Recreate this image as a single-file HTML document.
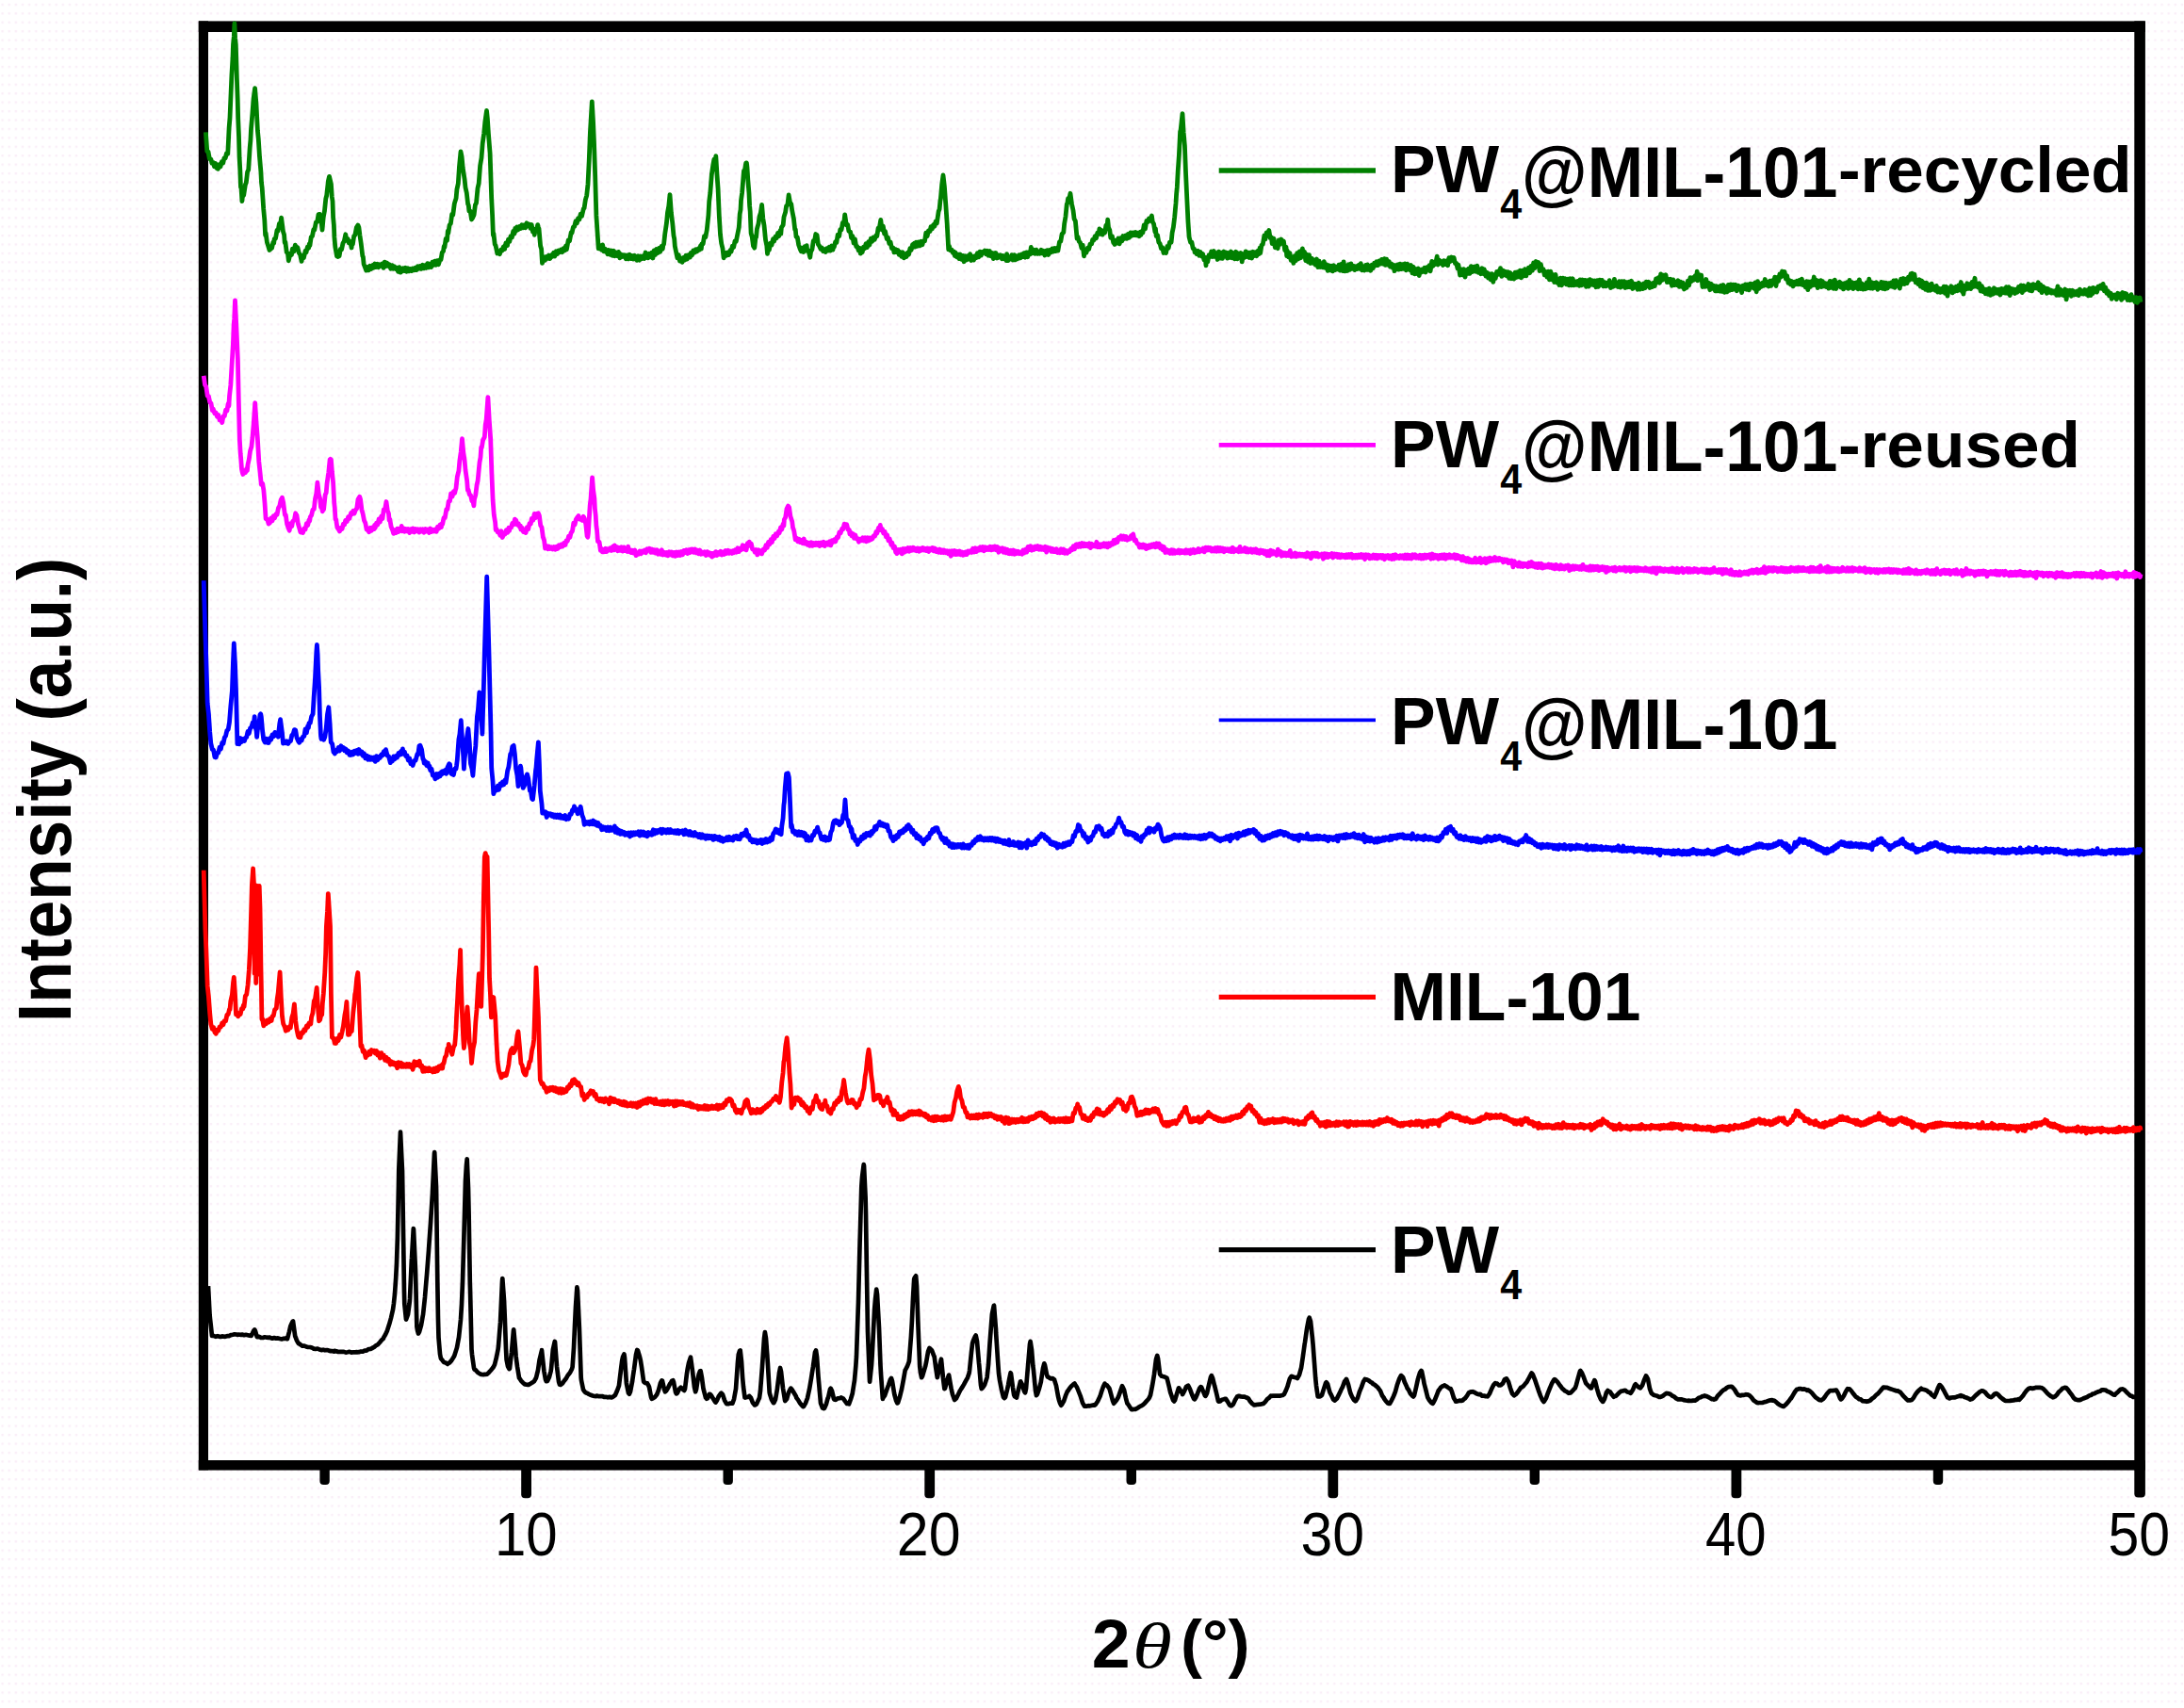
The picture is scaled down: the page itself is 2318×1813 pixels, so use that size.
<!DOCTYPE html>
<html><head><meta charset="utf-8"><title>XRD patterns</title>
<style>
html,body{margin:0;padding:0;background:#ffffff;}
body{width:2318px;height:1813px;overflow:hidden;}
svg{display:block}
text{font-family:"Liberation Sans",sans-serif;fill:#000}
text.b{font-weight:bold}
text.th{font-family:"Liberation Serif",serif;font-style:italic}
</style></head><body>
<svg width="2318" height="1813" viewBox="0 0 2318 1813">
<defs><pattern id="dots" x="0" y="0" width="7.14" height="9.43" patternUnits="userSpaceOnUse"><rect x="1.4" y="3.7" width="2.4" height="2.4" fill="#faeef8"/></pattern></defs>
<rect x="0" y="0" width="2318" height="1813" fill="#ffffff"/>
<rect x="0" y="0" width="2318" height="1813" fill="url(#dots)"/>
<g id="frame" fill="#000">
<rect x="210.8" y="22.4" width="10.2" height="1538"/>
<rect x="2265.3" y="22.4" width="11.6" height="1538"/>
<rect x="210.8" y="22.4" width="2066" height="11.6"/>
<rect x="210.8" y="1550" width="2066" height="10.6"/>
<path d="M553.2 1555 V1586.2 Q553.2 1590.2 557.2 1590.2 H560.0 Q564.0 1590.2 564.0 1586.2 V1555 Z"/>
<path d="M981.3 1555 V1586.2 Q981.3 1590.2 985.3 1590.2 H988.1 Q992.1 1590.2 992.1 1586.2 V1555 Z"/>
<path d="M1409.4 1555 V1586.2 Q1409.4 1590.2 1413.4 1590.2 H1416.2 Q1420.2 1590.2 1420.2 1586.2 V1555 Z"/>
<path d="M1837.5 1555 V1586.2 Q1837.5 1590.2 1841.5 1590.2 H1844.3 Q1848.3 1590.2 1848.3 1586.2 V1555 Z"/>
<path d="M339.4 1555 V1572.0 Q339.4 1576.0 343.4 1576.0 H345.8 Q349.8 1576.0 349.8 1572.0 V1555 Z"/>
<path d="M767.5 1555 V1572.0 Q767.5 1576.0 771.5 1576.0 H773.9 Q777.9 1576.0 777.9 1572.0 V1555 Z"/>
<path d="M1195.5 1555 V1572.0 Q1195.5 1576.0 1199.5 1576.0 H1202.0 Q1206.0 1576.0 1206.0 1572.0 V1555 Z"/>
<path d="M1623.6 1555 V1572.0 Q1623.6 1576.0 1627.6 1576.0 H1630.0 Q1634.0 1576.0 1634.0 1572.0 V1555 Z"/>
<path d="M2051.8 1555 V1572.0 Q2051.8 1576.0 2055.8 1576.0 H2058.2 Q2062.2 1576.0 2062.2 1572.0 V1555 Z"/>
<path d="M2265.3 1555 V1585.5 Q2265.3 1589.5 2269.3 1589.5 H2272.9 Q2276.9 1589.5 2276.9 1585.5 V1555 Z"/>
</g>
<g id="curves">
<path d="M218.4 140.4 L219.8 160.6 L221.0 161.0 L222.3 168.4 L223.9 169.0 L224.9 173.1 L226.2 172.4 L227.5 176.9 L228.8 173.5 L230.1 178.5 L230.8 175.3 L231.4 179.3 L232.7 174.8 L234.0 177.0 L235.3 171.7 L236.8 172.9 L237.9 167.9 L239.2 167.8 L240.5 162.7 L241.8 163.2 L243.1 136.0 L244.0 125.0 L245.9 80.2 L247.0 61.5 L247.5 47.3 L248.3 38.9 L248.9 25.0 L249.6 40.7 L250.3 47.3 L251.4 84.0 L252.2 105.6 L252.7 125.7 L253.5 144.8 L254.1 167.2 L254.8 179.8 L255.5 198.6 L256.1 200.0 L256.9 213.5 L257.4 208.4 L258.7 207.2 L260.4 196.0 L261.3 193.9 L262.6 182.5 L263.7 180.2 L265.2 156.5 L265.9 149.1 L266.5 136.9 L267.9 120.4 L269.1 104.5 L270.6 93.6 L272.0 110.8 L273.4 138.5 L274.3 147.6 L275.5 166.3 L276.9 182.2 L277.5 194.0 L278.2 199.4 L279.7 221.7 L280.8 233.6 L281.6 249.7 L282.1 247.4 L283.4 257.2 L284.3 259.7 L286.0 265.5 L287.1 264.5 L288.6 263.2 L289.9 257.1 L290.7 258.1 L291.2 253.6 L292.5 253.2 L294.0 244.5 L295.1 245.0 L296.4 237.5 L297.7 237.4 L298.6 231.1 L300.5 245.8 L301.6 249.3 L302.2 257.7 L302.9 257.0 L304.2 267.6 L305.5 269.2 L306.3 276.8 L308.1 269.2 L309.4 270.6 L310.4 264.1 L312.0 266.9 L313.3 260.2 L314.6 263.7 L315.9 262.8 L317.2 268.3 L318.5 270.1 L320.1 277.4 L321.1 271.9 L322.4 273.6 L324.2 266.1 L325.0 267.9 L326.3 262.2 L327.6 263.2 L328.3 258.9 L328.9 260.6 L330.2 251.8 L331.5 250.5 L332.8 243.8 L333.8 244.1 L335.4 235.8 L336.7 235.5 L338.0 227.7 L339.3 227.4 L340.6 230.4 L342.0 244.0 L343.2 230.7 L344.5 223.7 L345.8 210.8 L346.7 207.5 L348.4 192.0 L349.5 187.4 L351.4 195.2 L352.3 209.0 L353.0 213.5 L353.6 230.5 L354.4 239.3 L354.9 251.9 L355.8 262.2 L357.5 271.9 L358.5 272.5 L360.1 271.8 L361.4 264.4 L362.6 264.7 L364.0 258.0 L365.3 256.1 L366.8 248.8 L367.9 255.3 L369.2 253.6 L370.3 257.9 L371.8 256.5 L373.1 263.0 L373.6 258.3 L374.4 259.1 L375.7 250.6 L376.9 249.3 L378.3 241.6 L379.9 239.0 L380.9 241.5 L381.9 249.5 L383.2 258.3 L384.8 271.7 L385.4 272.7 L386.1 280.4 L387.4 283.6 L388.7 287.1 L390.0 283.6 L391.3 286.7 L392.6 282.3 L393.9 285.6 L395.6 281.4 L396.5 284.2 L397.8 280.0 L399.1 283.6 L400.4 280.2 L401.7 283.7 L403.0 280.7 L404.3 282.1 L405.6 280.1 L406.9 284.4 L408.2 278.1 L409.3 282.7 L410.8 279.1 L412.1 282.2 L413.4 280.9 L414.7 285.2 L416.0 281.6 L417.3 285.3 L418.6 282.8 L419.9 285.6 L421.2 284.4 L422.5 288.3 L423.8 283.6 L425.1 289.1 L425.8 286.0 L426.4 288.1 L427.7 284.8 L429.0 287.6 L430.3 284.2 L431.6 288.3 L432.9 284.7 L434.2 287.7 L435.5 285.4 L436.8 287.6 L438.1 285.0 L439.6 286.7 L440.7 284.2 L442.0 286.6 L443.3 282.8 L444.6 285.2 L445.9 282.4 L447.2 285.4 L448.5 281.2 L449.8 284.9 L451.1 281.7 L452.4 284.4 L453.7 279.6 L455.0 283.9 L456.0 280.1 L457.6 283.6 L458.9 278.2 L460.2 281.4 L461.5 277.1 L462.8 281.2 L464.1 276.6 L465.4 280.7 L467.0 275.6 L468.0 275.5 L469.3 268.0 L470.6 266.4 L471.2 261.5 L471.9 262.5 L473.2 253.3 L474.5 255.3 L475.3 245.2 L475.8 247.7 L477.1 238.9 L478.4 237.2 L479.7 227.4 L480.8 227.9 L482.3 216.1 L484.1 210.4 L484.9 201.1 L486.3 194.9 L487.5 176.4 L489.0 160.9 L490.1 166.2 L491.2 178.1 L493.1 190.3 L494.0 198.9 L495.3 204.8 L496.6 216.6 L497.3 217.9 L497.9 223.9 L499.2 224.2 L500.5 233.0 L501.4 231.7 L503.1 227.9 L504.4 217.5 L505.5 215.6 L507.0 199.8 L508.2 194.6 L509.6 175.9 L511.0 167.6 L512.2 152.1 L513.7 141.5 L514.8 129.6 L516.5 117.5 L517.4 126.3 L518.4 141.6 L520.1 162.7 L521.7 210.9 L522.6 228.7 L523.4 249.6 L523.9 247.8 L525.2 259.2 L526.1 260.7 L527.8 269.0 L528.8 267.8 L530.4 269.7 L531.7 265.1 L533.0 266.0 L534.3 262.0 L535.6 264.4 L536.9 258.0 L538.5 260.5 L539.5 254.2 L540.8 256.4 L542.1 250.6 L543.4 252.0 L544.7 245.5 L546.0 248.0 L546.7 242.5 L547.3 245.5 L548.6 241.0 L549.9 243.9 L551.2 240.5 L552.5 242.4 L553.8 238.7 L555.1 241.7 L556.4 238.9 L557.7 241.7 L559.0 236.8 L560.4 239.6 L561.6 238.1 L562.9 242.4 L564.2 238.5 L565.5 246.2 L566.8 244.3 L567.3 249.3 L568.1 243.2 L569.4 245.0 L570.7 238.6 L571.4 241.4 L572.0 242.7 L573.6 261.0 L574.6 264.2 L575.5 279.4 L577.2 272.9 L578.5 276.2 L579.8 272.4 L581.1 274.2 L582.4 271.1 L583.7 274.6 L585.2 270.7 L586.3 272.3 L587.6 268.3 L588.9 272.0 L590.2 266.8 L591.5 269.6 L592.8 265.9 L594.1 267.6 L595.4 265.1 L596.7 267.7 L598.0 263.6 L599.3 266.0 L600.6 260.9 L601.4 264.8 L603.2 254.9 L604.5 255.9 L606.2 246.6 L607.1 247.0 L608.4 240.9 L609.7 240.4 L611.0 234.8 L612.3 236.9 L613.6 231.6 L614.9 233.0 L616.2 227.2 L617.5 229.5 L619.3 221.7 L620.1 220.8 L621.4 211.9 L622.7 207.6 L624.0 195.4 L625.2 171.2 L626.4 140.7 L628.3 107.9 L629.5 128.3 L630.5 151.4 L631.7 187.2 L632.9 228.9 L634.0 245.6 L635.2 263.9 L637.0 260.6 L638.3 265.2 L639.6 259.9 L640.9 266.8 L642.2 264.2 L643.5 267.6 L644.3 265.6 L644.8 269.8 L646.1 265.5 L647.4 270.2 L648.7 266.0 L650.0 271.3 L651.3 266.3 L652.6 271.7 L653.9 267.9 L655.2 271.6 L656.5 267.4 L657.8 273.8 L658.6 269.7 L659.1 273.0 L660.4 270.4 L661.7 272.3 L663.0 270.8 L664.3 274.7 L665.6 270.9 L666.9 274.9 L668.2 270.3 L669.5 274.6 L670.8 271.5 L672.1 275.0 L673.4 271.2 L674.7 275.1 L675.2 272.6 L676.0 276.3 L677.3 271.7 L678.6 276.2 L679.9 272.0 L681.2 274.6 L682.5 271.9 L683.8 274.5 L685.1 268.0 L686.4 273.4 L687.1 270.5 L687.7 273.9 L689.0 269.2 L690.3 272.9 L691.6 268.3 L692.9 274.0 L694.2 265.8 L695.5 270.5 L696.7 264.5 L698.1 268.6 L699.4 263.5 L700.7 267.2 L702.0 261.4 L703.3 264.2 L703.8 260.3 L704.6 259.1 L705.7 248.7 L707.4 237.2 L708.5 225.7 L709.8 218.7 L711.0 206.6 L712.4 225.9 L713.8 237.3 L715.0 250.3 L715.7 253.4 L716.3 261.2 L717.6 267.5 L718.9 273.8 L720.2 270.4 L721.5 277.0 L722.9 274.1 L724.1 278.4 L725.4 273.5 L726.7 276.1 L728.0 271.1 L729.3 275.0 L730.6 270.6 L732.4 273.0 L733.2 268.4 L734.5 270.8 L735.8 265.9 L737.1 268.2 L738.4 264.8 L739.7 266.9 L741.0 264.0 L742.3 265.1 L743.6 260.6 L744.3 264.2 L744.9 258.8 L746.2 258.8 L747.5 250.7 L748.8 251.7 L750.2 244.4 L751.9 228.6 L752.7 213.9 L753.8 204.9 L755.3 185.6 L756.7 175.8 L757.9 169.2 L759.2 171.5 L759.8 165.7 L761.0 185.3 L762.1 200.5 L763.3 228.9 L764.5 249.1 L765.7 258.5 L767.0 263.8 L768.1 273.8 L769.6 268.4 L770.9 271.3 L772.2 267.9 L773.5 270.6 L775.2 265.5 L776.1 267.1 L777.4 261.1 L778.7 262.4 L780.0 255.9 L781.3 256.2 L782.4 250.6 L784.3 241.3 L785.2 227.1 L786.0 222.8 L786.5 212.8 L787.6 204.7 L789.5 181.1 L790.4 181.0 L791.7 173.1 L792.4 172.9 L793.0 177.9 L793.8 190.9 L795.0 205.3 L795.6 218.2 L796.2 224.6 L797.1 247.5 L798.2 251.3 L799.5 261.2 L800.2 262.2 L800.8 263.1 L802.1 251.0 L802.6 251.8 L803.4 243.2 L805.0 237.3 L806.0 230.1 L807.3 226.1 L808.6 217.4 L809.8 231.8 L811.0 239.1 L812.5 254.6 L813.8 260.7 L814.5 269.3 L815.1 265.0 L816.4 265.3 L817.7 258.1 L819.0 260.2 L820.5 253.7 L821.6 256.1 L822.9 251.3 L824.2 252.7 L825.5 247.5 L826.8 250.6 L828.1 244.7 L828.8 248.2 L829.4 241.3 L831.2 238.8 L832.0 230.4 L833.6 225.3 L834.6 218.6 L835.9 217.5 L837.1 206.9 L838.5 215.0 L839.8 216.7 L840.7 223.5 L842.4 231.9 L843.7 243.8 L844.3 243.6 L845.0 251.4 L846.3 251.8 L847.6 259.7 L849.0 263.8 L850.2 266.7 L851.5 263.2 L852.8 267.5 L854.1 261.7 L855.4 263.4 L856.2 260.6 L856.7 266.4 L858.0 266.0 L859.8 273.2 L860.6 267.2 L861.9 264.8 L863.3 255.6 L864.5 256.0 L865.8 248.5 L866.4 250.1 L867.1 249.6 L868.4 259.5 L869.3 260.4 L871.0 264.2 L872.3 263.1 L873.6 266.6 L875.2 264.7 L876.2 267.4 L877.5 263.6 L878.8 266.1 L880.1 262.3 L881.4 266.1 L882.7 261.0 L884.0 265.1 L884.8 261.4 L885.3 262.1 L886.6 256.8 L887.9 257.3 L889.2 249.1 L890.7 250.6 L891.8 243.6 L893.1 243.8 L894.4 236.4 L895.7 237.1 L896.7 227.8 L898.3 238.9 L899.6 238.4 L900.9 245.3 L902.6 246.1 L903.5 252.5 L904.8 250.5 L906.1 258.1 L907.4 253.7 L908.7 261.7 L909.8 261.4 L911.3 265.9 L912.6 263.4 L913.3 269.2 L913.9 264.1 L915.2 267.7 L916.5 262.1 L917.8 263.7 L919.1 258.7 L920.4 262.6 L921.7 256.7 L922.9 259.9 L924.3 253.3 L925.6 256.2 L926.9 251.9 L928.2 254.3 L930.0 249.7 L930.8 250.6 L932.1 242.1 L933.4 241.7 L934.8 233.4 L936.0 244.0 L937.3 240.1 L938.6 248.0 L939.5 245.6 L941.2 253.5 L942.5 252.4 L943.8 258.4 L945.1 257.0 L946.4 263.5 L947.9 262.9 L949.0 267.9 L950.3 264.6 L951.6 267.6 L952.9 265.6 L954.2 270.3 L955.5 267.6 L956.8 272.4 L958.1 267.7 L959.4 273.8 L961.0 269.7 L962.0 272.4 L963.3 268.3 L964.6 270.1 L965.9 263.6 L967.2 265.3 L968.5 259.8 L969.8 261.9 L970.5 258.2 L971.1 262.2 L972.4 257.3 L973.7 261.3 L975.0 257.0 L976.3 260.9 L977.6 256.2 L978.9 259.8 L980.0 255.9 L981.5 255.8 L982.8 247.1 L984.1 250.7 L985.4 244.9 L987.1 245.5 L988.0 240.6 L989.3 242.9 L990.6 238.8 L991.9 240.1 L993.2 234.9 L994.3 237.2 L996.2 224.2 L997.1 222.1 L997.9 213.4 L998.4 210.7 L999.7 195.7 L1001.0 186.0 L1002.4 198.1 L1003.8 217.1 L1005.2 237.5 L1006.7 264.9 L1007.5 261.4 L1008.8 265.8 L1010.1 265.2 L1011.4 268.3 L1012.7 267.3 L1013.3 271.5 L1014.0 268.0 L1015.3 272.7 L1016.6 269.9 L1017.9 274.6 L1019.2 270.0 L1020.5 275.3 L1021.8 271.4 L1023.1 277.7 L1024.4 271.8 L1025.7 276.0 L1027.0 271.8 L1028.3 275.1 L1029.6 269.6 L1030.9 276.5 L1032.4 272.3 L1033.5 276.1 L1034.8 271.6 L1036.1 273.8 L1037.4 268.7 L1038.7 272.9 L1040.0 267.1 L1041.3 271.1 L1042.6 267.4 L1044.3 268.3 L1045.2 265.9 L1046.5 269.8 L1047.8 266.2 L1049.1 271.2 L1050.4 266.5 L1051.7 271.7 L1053.0 268.5 L1054.3 274.6 L1055.6 268.7 L1056.2 271.5 L1056.9 268.5 L1058.2 274.0 L1059.5 270.8 L1060.8 272.9 L1062.1 270.9 L1063.4 274.8 L1064.7 271.5 L1066.0 274.8 L1067.3 271.5 L1068.1 276.6 L1068.6 269.6 L1069.9 276.6 L1071.2 273.0 L1072.5 275.1 L1073.8 270.6 L1075.1 276.0 L1076.4 270.7 L1077.7 275.8 L1079.0 271.7 L1080.0 274.8 L1081.6 270.8 L1082.9 273.9 L1084.2 269.9 L1085.5 272.5 L1086.8 268.6 L1088.1 273.2 L1089.4 267.9 L1090.7 272.7 L1091.9 267.6 L1093.3 270.0 L1094.3 262.5 L1095.9 268.7 L1097.2 265.3 L1098.5 269.2 L1099.8 265.1 L1101.1 269.4 L1102.4 267.0 L1103.7 269.2 L1105.0 265.3 L1106.3 268.9 L1107.6 266.3 L1108.9 271.0 L1110.2 266.3 L1111.0 269.8 L1111.5 265.7 L1112.8 270.5 L1114.1 265.5 L1115.4 267.9 L1116.7 263.9 L1118.0 267.1 L1119.3 263.6 L1120.6 266.6 L1121.9 263.3 L1122.9 266.1 L1124.5 256.7 L1125.8 256.2 L1127.1 248.5 L1128.8 246.7 L1129.7 237.3 L1131.0 229.8 L1132.3 216.6 L1132.9 215.5 L1133.6 210.7 L1134.9 210.8 L1136.0 205.3 L1137.5 216.4 L1139.0 223.3 L1140.1 232.3 L1141.4 234.7 L1143.1 253.2 L1144.0 251.4 L1145.3 256.3 L1146.6 257.7 L1147.9 263.3 L1149.2 260.3 L1150.5 271.8 L1151.4 266.3 L1153.1 268.0 L1154.4 263.1 L1155.7 264.5 L1157.0 259.1 L1158.6 258.9 L1159.6 254.5 L1160.9 255.0 L1162.2 250.8 L1163.5 252.7 L1164.8 247.1 L1166.1 248.3 L1166.9 242.9 L1167.4 248.4 L1168.7 244.2 L1170.0 249.1 L1171.7 246.4 L1172.6 247.0 L1173.9 239.2 L1175.2 239.1 L1175.7 233.2 L1176.5 241.4 L1177.8 244.2 L1178.8 252.4 L1180.4 250.7 L1181.7 257.5 L1182.4 255.5 L1183.0 259.5 L1184.3 255.2 L1185.6 258.1 L1186.9 253.0 L1188.2 258.8 L1189.5 252.7 L1190.8 255.9 L1191.9 250.5 L1193.4 253.4 L1194.7 250.0 L1196.0 253.3 L1197.3 248.5 L1198.6 252.2 L1199.9 246.9 L1201.2 250.2 L1202.5 246.9 L1203.8 249.6 L1205.1 246.5 L1206.4 249.8 L1207.7 247.2 L1209.0 250.8 L1210.3 246.1 L1211.0 249.3 L1211.6 245.6 L1212.9 247.0 L1214.2 239.0 L1215.5 242.9 L1216.9 234.4 L1218.1 235.8 L1219.4 231.9 L1220.7 234.3 L1222.4 229.0 L1223.3 235.6 L1224.6 237.8 L1225.9 246.2 L1226.4 242.6 L1227.2 250.6 L1228.5 249.7 L1229.8 257.1 L1231.2 258.8 L1232.4 263.6 L1233.7 262.8 L1235.0 268.5 L1236.0 265.9 L1237.6 268.4 L1238.9 261.4 L1240.2 263.3 L1241.5 257.1 L1243.1 257.3 L1244.1 247.2 L1245.4 241.1 L1246.7 230.3 L1248.0 215.9 L1248.6 206.0 L1249.3 198.7 L1250.2 181.9 L1251.4 164.7 L1252.6 139.9 L1253.2 137.5 L1255.0 120.6 L1256.2 141.0 L1257.4 154.4 L1258.6 185.2 L1259.8 210.8 L1261.0 235.9 L1262.1 251.7 L1263.6 257.3 L1264.9 257.1 L1266.2 263.9 L1267.5 264.1 L1268.1 267.9 L1268.8 266.3 L1270.1 269.5 L1271.4 266.2 L1272.7 271.2 L1274.0 267.5 L1275.2 272.0 L1276.6 269.6 L1277.9 275.8 L1279.2 273.2 L1280.0 281.8 L1280.5 274.1 L1281.8 277.7 L1283.1 270.7 L1284.8 272.1 L1285.7 267.0 L1287.0 272.5 L1288.3 266.5 L1289.6 272.4 L1290.9 268.6 L1292.2 275.5 L1293.5 267.2 L1294.8 274.1 L1296.1 268.1 L1297.4 274.4 L1299.0 267.0 L1300.0 272.0 L1301.3 268.0 L1302.6 274.1 L1303.9 268.5 L1305.2 273.4 L1306.5 267.0 L1307.8 273.7 L1309.1 268.6 L1310.4 274.8 L1311.7 267.3 L1313.3 274.8 L1314.3 268.9 L1315.6 272.8 L1316.9 268.5 L1318.2 277.9 L1319.5 269.6 L1320.8 273.4 L1322.1 266.9 L1323.4 272.5 L1324.7 268.1 L1326.0 273.5 L1327.6 268.0 L1328.6 274.1 L1329.9 267.3 L1331.2 271.5 L1332.5 267.6 L1333.8 271.8 L1335.1 266.2 L1336.4 269.6 L1337.1 263.2 L1337.7 268.6 L1339.0 260.2 L1340.3 259.3 L1341.9 250.0 L1342.9 254.0 L1344.2 247.0 L1346.0 247.1 L1346.8 244.5 L1348.1 252.7 L1349.4 251.9 L1350.2 258.6 L1352.0 253.2 L1353.3 262.8 L1354.6 257.9 L1356.2 263.7 L1357.2 255.0 L1358.5 259.4 L1359.8 254.0 L1361.0 257.7 L1362.4 256.0 L1363.7 265.7 L1365.0 262.2 L1365.7 271.5 L1366.3 266.2 L1367.6 272.8 L1368.9 268.5 L1370.2 276.3 L1371.5 272.7 L1372.9 279.4 L1374.1 271.6 L1375.4 276.6 L1376.7 268.7 L1378.0 274.9 L1379.3 266.8 L1380.6 273.7 L1382.4 263.9 L1383.2 271.8 L1384.5 267.4 L1385.8 276.7 L1387.1 270.1 L1388.4 278.1 L1389.5 270.7 L1391.0 279.5 L1392.3 274.4 L1393.6 279.2 L1394.9 276.1 L1396.2 281.1 L1397.5 275.0 L1398.8 283.6 L1400.1 277.2 L1401.4 283.5 L1402.7 279.5 L1404.0 283.9 L1405.3 277.6 L1406.6 284.2 L1407.9 280.7 L1409.2 287.3 L1410.5 281.8 L1411.8 286.8 L1413.3 282.2 L1414.4 287.9 L1415.7 281.8 L1417.0 286.6 L1418.3 283.4 L1419.6 285.8 L1420.9 281.1 L1422.2 287.1 L1423.5 280.4 L1425.2 287.5 L1426.1 277.8 L1427.4 287.9 L1428.7 282.2 L1430.0 287.5 L1431.3 280.8 L1432.6 286.3 L1433.9 279.9 L1435.2 285.4 L1436.5 282.2 L1437.8 286.6 L1439.1 282.6 L1440.4 285.6 L1441.9 281.4 L1443.0 285.3 L1444.3 279.6 L1445.6 286.8 L1446.9 282.9 L1448.2 287.0 L1449.5 281.4 L1450.8 286.4 L1451.4 280.9 L1452.1 286.4 L1453.4 282.3 L1454.7 287.2 L1456.0 281.3 L1457.3 284.8 L1458.6 279.3 L1459.9 281.9 L1461.0 277.8 L1462.5 281.6 L1463.8 277.0 L1465.1 280.1 L1466.4 275.4 L1467.7 280.1 L1469.3 274.6 L1470.3 281.4 L1471.6 275.2 L1472.9 281.1 L1474.2 277.4 L1475.5 283.1 L1476.8 279.9 L1478.1 284.2 L1479.4 281.6 L1480.0 287.7 L1480.7 281.7 L1482.0 285.9 L1483.3 280.9 L1484.6 286.1 L1485.9 280.1 L1487.2 285.6 L1488.5 280.6 L1489.8 285.4 L1491.1 279.9 L1492.4 286.8 L1493.7 280.1 L1494.3 285.1 L1495.0 281.8 L1496.3 286.6 L1497.6 281.5 L1498.9 289.9 L1500.2 283.4 L1501.5 290.9 L1502.8 285.7 L1504.1 290.5 L1505.4 285.0 L1506.2 292.6 L1506.7 286.8 L1508.0 289.4 L1509.3 285.9 L1510.6 288.3 L1511.9 284.2 L1513.2 289.0 L1514.5 283.8 L1515.8 286.3 L1517.1 281.6 L1518.1 287.8 L1519.7 277.3 L1521.0 282.4 L1522.3 278.1 L1523.6 280.4 L1525.2 272.1 L1526.2 281.0 L1527.5 276.1 L1528.8 279.5 L1530.1 277.9 L1531.4 281.4 L1532.4 276.6 L1534.0 280.6 L1535.3 277.0 L1536.6 281.8 L1537.9 273.7 L1539.2 277.5 L1540.5 273.0 L1541.9 276.6 L1543.1 273.4 L1544.4 279.5 L1545.7 279.3 L1547.0 284.9 L1547.9 281.0 L1549.6 292.1 L1550.9 285.8 L1552.2 291.7 L1553.5 285.7 L1555.0 294.1 L1556.1 286.7 L1557.4 290.4 L1558.7 285.1 L1560.0 290.3 L1561.3 282.7 L1562.6 288.6 L1563.3 283.5 L1563.9 287.8 L1565.2 283.0 L1566.5 288.2 L1567.8 282.2 L1569.1 289.3 L1570.4 285.8 L1571.7 290.7 L1573.0 284.8 L1574.3 290.6 L1575.2 285.9 L1576.9 293.0 L1578.2 289.2 L1579.5 295.0 L1580.8 290.7 L1582.1 296.8 L1583.4 290.6 L1584.8 299.3 L1586.0 291.7 L1587.3 295.4 L1588.6 288.5 L1589.9 291.4 L1591.2 287.2 L1591.9 291.0 L1592.5 284.6 L1593.8 293.4 L1595.1 287.0 L1596.4 291.9 L1597.7 288.3 L1599.0 292.9 L1600.3 288.6 L1601.6 295.4 L1602.9 289.5 L1604.2 295.7 L1605.6 291.7 L1606.8 296.1 L1608.1 289.1 L1609.4 294.5 L1610.7 288.7 L1612.0 293.8 L1613.3 287.2 L1614.6 294.8 L1615.9 287.3 L1617.2 293.0 L1618.5 285.7 L1619.8 292.9 L1621.1 287.8 L1621.7 290.0 L1622.4 284.1 L1623.7 289.7 L1625.0 282.4 L1626.3 287.3 L1627.6 279.0 L1628.9 284.6 L1630.2 277.5 L1631.3 280.9 L1632.8 278.5 L1634.1 287.6 L1635.4 280.6 L1636.7 287.1 L1638.0 285.8 L1639.3 291.9 L1640.9 288.6 L1641.9 294.0 L1643.2 288.2 L1644.5 296.8 L1645.8 288.2 L1647.1 296.9 L1648.4 291.6 L1649.7 299.5 L1651.0 291.3 L1652.3 300.0 L1653.7 296.4 L1654.9 302.5 L1656.2 295.2 L1657.5 302.8 L1658.8 295.1 L1660.1 300.7 L1661.4 295.8 L1662.7 301.9 L1664.0 296.1 L1665.3 302.9 L1666.6 295.8 L1667.9 302.8 L1669.2 295.8 L1670.5 302.9 L1671.8 298.7 L1673.1 302.4 L1674.4 298.5 L1676.2 303.2 L1677.0 296.9 L1678.3 302.9 L1679.6 297.0 L1680.9 302.0 L1682.2 297.4 L1683.5 304.4 L1684.8 297.8 L1686.1 304.1 L1687.4 296.7 L1688.7 302.2 L1690.0 297.8 L1691.3 302.6 L1692.6 298.0 L1693.9 304.7 L1695.2 297.6 L1696.5 304.4 L1697.8 297.2 L1699.1 302.4 L1700.4 297.4 L1701.7 303.9 L1703.0 299.5 L1704.3 303.9 L1705.6 300.5 L1706.9 303.1 L1708.2 297.6 L1709.5 305.5 L1710.8 300.7 L1712.1 304.3 L1713.4 296.3 L1714.7 303.4 L1716.0 300.0 L1717.3 304.5 L1718.6 298.6 L1719.9 305.1 L1721.2 298.7 L1722.5 304.0 L1723.8 298.7 L1725.1 305.5 L1726.4 299.6 L1727.7 304.7 L1729.0 299.1 L1730.3 304.8 L1731.6 298.3 L1732.9 306.5 L1734.2 301.2 L1735.5 305.0 L1736.8 301.6 L1738.1 307.2 L1739.4 300.3 L1740.3 307.2 L1742.0 302.0 L1743.3 306.6 L1744.6 300.9 L1745.9 305.8 L1747.2 299.1 L1748.5 303.8 L1749.8 299.2 L1751.1 305.5 L1752.4 301.0 L1753.7 304.5 L1755.0 300.2 L1756.3 303.5 L1757.6 295.8 L1758.9 299.9 L1760.2 294.7 L1761.5 300.2 L1762.7 290.9 L1764.1 297.5 L1765.4 292.1 L1766.7 296.4 L1768.0 291.8 L1769.3 299.7 L1770.6 296.3 L1772.3 299.7 L1773.2 296.2 L1774.5 303.2 L1775.8 296.9 L1777.1 302.6 L1778.4 299.0 L1779.7 302.4 L1781.0 297.7 L1782.3 304.3 L1783.6 299.2 L1784.9 304.2 L1786.2 300.1 L1787.5 307.0 L1788.3 302.2 L1790.1 305.5 L1791.4 298.3 L1792.7 302.9 L1794.0 294.7 L1795.3 298.5 L1796.6 294.6 L1797.9 297.2 L1799.2 292.6 L1800.5 296.0 L1801.2 288.2 L1801.8 297.9 L1803.1 291.4 L1804.4 296.9 L1805.7 292.1 L1807.0 304.6 L1808.3 298.2 L1809.6 304.3 L1810.8 296.5 L1812.2 304.1 L1813.5 300.3 L1814.8 307.7 L1816.1 301.3 L1817.4 306.3 L1818.7 303.2 L1820.4 308.7 L1821.3 303.6 L1822.6 308.9 L1823.9 304.2 L1825.2 309.1 L1826.5 303.2 L1827.8 309.4 L1829.1 302.5 L1830.4 310.3 L1831.7 304.7 L1833.0 309.8 L1834.3 302.4 L1835.6 308.3 L1836.9 301.9 L1838.2 307.6 L1839.5 302.1 L1840.8 307.0 L1842.1 302.2 L1843.4 308.7 L1844.7 303.1 L1846.0 307.1 L1847.3 304.1 L1848.6 310.6 L1849.9 303.3 L1851.2 306.6 L1852.4 301.9 L1853.8 307.2 L1855.1 302.0 L1856.4 307.9 L1857.7 301.2 L1859.0 305.0 L1860.3 301.5 L1861.6 306.2 L1862.9 300.0 L1864.2 309.8 L1865.5 298.7 L1866.8 306.3 L1868.1 301.2 L1869.4 304.4 L1870.7 300.1 L1872.0 303.3 L1873.3 296.5 L1874.6 302.8 L1875.9 299.3 L1877.2 304.0 L1878.5 298.2 L1879.8 303.3 L1881.3 297.8 L1882.4 301.1 L1883.7 294.1 L1885.0 303.5 L1886.3 294.3 L1887.6 298.4 L1888.9 290.9 L1890.2 294.1 L1891.5 288.0 L1892.5 292.7 L1894.1 288.6 L1895.4 296.0 L1896.7 292.8 L1898.0 300.4 L1899.3 297.6 L1900.5 302.0 L1901.9 298.6 L1903.2 303.8 L1904.5 299.2 L1905.8 301.8 L1907.1 298.2 L1908.4 301.9 L1909.7 297.5 L1911.0 301.9 L1912.3 296.1 L1913.6 302.5 L1914.9 299.4 L1916.2 304.7 L1917.5 298.7 L1918.8 307.6 L1920.1 299.0 L1921.4 304.5 L1922.7 298.8 L1924.0 302.8 L1925.3 294.0 L1926.6 302.7 L1927.9 297.4 L1929.2 305.7 L1930.5 298.3 L1931.8 303.1 L1932.6 297.7 L1933.1 304.7 L1934.4 298.5 L1935.7 303.9 L1937.0 300.5 L1938.3 304.6 L1939.6 300.9 L1940.9 306.1 L1942.2 298.3 L1943.5 305.2 L1944.8 298.6 L1946.1 306.3 L1947.4 297.1 L1948.7 306.5 L1950.0 300.1 L1951.3 303.7 L1952.6 299.3 L1953.9 305.1 L1955.2 301.0 L1956.5 306.9 L1957.8 300.7 L1959.1 305.4 L1960.4 299.8 L1961.7 306.4 L1963.0 297.4 L1964.6 305.3 L1965.6 299.6 L1966.9 306.6 L1968.2 300.4 L1969.5 305.4 L1970.8 299.8 L1972.1 306.8 L1973.4 296.8 L1974.7 306.5 L1976.0 300.9 L1977.3 307.1 L1978.6 302.2 L1979.9 306.8 L1981.2 299.9 L1982.5 305.7 L1983.8 296.2 L1985.1 306.0 L1986.4 299.7 L1987.7 306.2 L1989.0 300.4 L1990.3 305.2 L1991.6 299.8 L1992.9 307.3 L1994.2 301.8 L1995.5 305.6 L1996.7 299.4 L1998.1 306.3 L1999.4 299.9 L2000.7 306.8 L2002.0 300.3 L2003.3 306.0 L2004.6 300.6 L2005.9 303.9 L2007.2 300.0 L2008.5 304.2 L2009.8 297.9 L2011.1 305.3 L2012.4 297.6 L2013.7 303.2 L2015.0 299.4 L2016.3 306.1 L2017.6 296.1 L2019.1 301.5 L2020.2 295.5 L2021.5 301.5 L2022.8 296.1 L2024.1 300.6 L2025.4 294.3 L2026.7 297.4 L2028.0 290.6 L2028.7 295.8 L2029.3 290.2 L2030.6 296.5 L2031.9 291.2 L2033.2 299.8 L2034.5 297.3 L2035.8 301.6 L2037.1 296.7 L2038.3 304.2 L2039.7 298.0 L2041.0 305.6 L2042.3 300.2 L2043.6 307.2 L2044.9 300.3 L2046.2 308.3 L2047.5 302.4 L2048.8 308.2 L2050.1 301.1 L2051.4 307.2 L2052.7 304.1 L2054.0 308.4 L2055.3 303.4 L2056.6 310.0 L2057.9 306.1 L2059.2 310.4 L2060.8 306.4 L2061.8 309.9 L2063.1 304.2 L2064.4 311.4 L2065.7 304.3 L2067.0 314.1 L2068.3 305.9 L2069.6 309.0 L2070.9 303.8 L2072.2 310.9 L2073.5 305.3 L2074.8 309.2 L2076.1 304.2 L2077.4 308.7 L2078.7 303.0 L2080.0 307.9 L2081.3 299.5 L2082.6 309.8 L2083.2 302.6 L2083.9 312.1 L2085.2 303.6 L2086.5 306.9 L2087.8 300.8 L2089.1 306.4 L2090.4 301.7 L2091.7 306.6 L2093.0 299.4 L2094.3 304.5 L2096.0 295.3 L2096.9 304.0 L2098.2 301.0 L2099.5 305.0 L2100.8 300.7 L2102.1 309.0 L2103.4 303.6 L2104.7 309.5 L2106.0 306.7 L2107.3 311.7 L2108.8 307.2 L2109.9 312.3 L2111.2 306.1 L2112.5 313.4 L2113.8 307.8 L2115.1 312.2 L2116.4 305.8 L2117.7 311.1 L2119.0 307.2 L2120.3 311.3 L2121.6 307.2 L2122.9 313.0 L2124.2 306.4 L2125.5 310.9 L2126.8 306.7 L2128.1 311.1 L2129.4 304.7 L2130.7 311.3 L2132.0 304.7 L2133.3 313.7 L2134.6 306.4 L2135.9 310.4 L2137.2 306.9 L2138.5 311.5 L2139.8 307.1 L2140.9 310.3 L2142.4 304.5 L2143.7 308.7 L2145.0 302.9 L2146.3 310.6 L2147.6 303.1 L2148.9 308.1 L2150.2 304.2 L2151.5 307.0 L2152.8 301.5 L2154.1 308.4 L2155.4 302.6 L2156.7 308.9 L2158.0 301.6 L2159.3 305.9 L2160.6 302.6 L2161.9 306.0 L2163.3 299.8 L2164.5 308.0 L2165.8 302.0 L2167.1 310.7 L2168.4 304.1 L2169.7 308.5 L2171.0 305.9 L2172.3 311.3 L2173.6 306.5 L2174.9 310.3 L2176.2 307.9 L2177.5 311.0 L2178.8 308.8 L2180.1 311.0 L2181.4 308.7 L2182.7 313.4 L2184.0 303.9 L2185.3 313.4 L2186.6 307.1 L2187.9 312.8 L2189.2 308.6 L2190.5 313.6 L2191.8 307.0 L2193.1 317.9 L2194.4 308.5 L2195.7 312.3 L2197.0 308.3 L2198.3 314.3 L2199.6 308.3 L2200.9 313.1 L2201.8 309.5 L2203.5 312.7 L2204.8 308.9 L2206.1 313.6 L2207.4 307.1 L2208.7 311.9 L2210.0 309.1 L2211.3 312.1 L2212.6 307.5 L2213.9 312.2 L2215.2 308.0 L2216.5 313.9 L2217.8 306.0 L2219.1 313.6 L2220.4 306.0 L2221.0 311.7 L2221.7 305.5 L2223.0 310.0 L2224.3 306.1 L2225.6 310.1 L2226.9 304.1 L2228.2 306.1 L2229.5 303.0 L2230.6 306.3 L2232.1 301.4 L2233.4 308.9 L2234.7 305.1 L2236.0 311.3 L2237.3 308.8 L2238.6 313.9 L2240.3 311.3 L2241.2 317.4 L2242.5 313.1 L2243.8 315.8 L2245.1 313.1 L2246.4 317.8 L2247.7 311.3 L2249.0 315.9 L2250.3 311.9 L2251.6 318.3 L2252.9 310.5 L2254.2 316.2 L2255.5 311.4 L2256.3 316.0 L2256.8 311.9 L2258.1 318.5 L2259.4 314.1 L2260.7 318.8 L2262.0 312.7 L2263.3 318.2 L2264.6 315.4 L2265.9 320.4 L2267.2 315.6 L2268.5 321.3 L2269.1 316.5 L2269.8 319.4 L2271.1 315.9 L2272.0 320.7" fill="none" stroke="#008000" stroke-width="4.8" stroke-linejoin="round" stroke-linecap="butt"/>
<path d="M216.2 398.9 L217.5 408.3 L218.8 410.7 L220.2 420.2 L221.4 420.6 L222.7 426.8 L224.0 428.2 L225.3 435.6 L226.2 434.1 L227.9 438.9 L229.2 438.3 L230.5 442.3 L231.8 440.5 L233.1 445.9 L234.4 445.3 L235.7 448.5 L237.0 441.8 L238.3 441.7 L239.6 435.2 L240.9 436.0 L242.2 428.3 L242.9 430.9 L243.5 420.6 L244.8 409.0 L246.4 381.8 L247.4 365.0 L248.1 345.5 L248.7 338.4 L249.5 318.8 L251.0 349.9 L252.4 381.9 L253.3 425.0 L254.3 465.8 L255.2 481.3 L255.7 486.9 L256.5 497.7 L257.1 500.8 L257.8 503.5 L259.1 499.6 L260.4 501.7 L261.7 497.5 L262.4 499.5 L263.0 493.2 L264.3 487.5 L265.6 478.4 L266.9 474.3 L267.9 465.1 L269.3 448.7 L270.7 427.6 L272.1 449.5 L273.3 464.4 L274.8 489.9 L276.2 503.0 L277.3 514.3 L278.6 513.2 L279.8 519.9 L281.0 533.9 L282.1 550.7 L283.8 551.3 L285.1 556.1 L285.7 552.8 L286.4 555.2 L287.7 550.0 L289.0 552.9 L290.3 547.6 L291.6 549.9 L292.9 545.6 L294.0 546.4 L295.5 539.1 L296.8 537.1 L298.1 530.7 L299.5 528.2 L300.7 533.6 L302.4 546.6 L303.3 546.6 L304.6 556.3 L306.0 560.3 L307.2 563.2 L308.5 555.7 L309.8 558.5 L310.7 553.4 L312.4 552.0 L313.7 544.8 L314.3 546.3 L315.0 547.0 L316.3 555.8 L317.9 561.1 L318.9 565.0 L320.2 565.0 L321.5 565.5 L322.8 560.9 L324.1 561.8 L325.4 555.6 L326.7 557.5 L328.0 551.9 L328.6 553.1 L329.3 548.7 L330.6 547.1 L331.9 541.2 L333.3 540.4 L334.5 529.6 L335.8 523.8 L336.9 512.2 L338.4 525.0 L339.7 529.5 L340.5 538.3 L341.0 535.8 L342.3 542.8 L342.9 540.9 L343.6 540.7 L345.2 525.0 L346.2 523.1 L347.1 512.9 L348.8 501.3 L350.1 487.9 L350.7 487.2 L351.4 487.8 L352.4 500.6 L353.6 512.3 L354.8 534.8 L355.3 539.3 L356.0 551.1 L356.6 551.1 L357.9 559.8 L359.5 562.2 L360.5 564.0 L361.8 560.2 L363.1 561.4 L364.4 556.1 L365.7 556.8 L366.7 552.4 L368.3 553.5 L369.6 548.7 L370.9 550.4 L372.6 544.4 L373.5 545.8 L374.8 542.3 L376.1 545.0 L377.4 541.3 L378.7 539.7 L380.0 530.0 L381.7 527.3 L382.6 530.3 L383.9 540.9 L385.2 545.6 L386.5 552.5 L387.8 555.1 L389.1 562.1 L390.5 562.8 L391.7 564.8 L393.0 560.3 L394.3 563.2 L395.6 559.7 L396.9 561.8 L397.6 557.4 L398.2 560.5 L399.5 555.2 L400.8 557.0 L402.1 551.0 L403.4 554.0 L404.8 547.9 L406.0 550.5 L407.3 540.8 L408.6 540.9 L410.0 532.5 L411.2 541.4 L412.5 545.3 L413.1 552.0 L413.8 551.1 L415.1 559.0 L416.7 562.8 L417.7 566.4 L419.0 562.6 L420.3 565.5 L421.6 561.1 L422.9 564.5 L424.2 561.3 L425.5 562.7 L426.2 558.4 L426.8 563.9 L428.1 560.8 L429.4 564.2 L430.7 561.5 L432.0 563.8 L433.3 561.5 L434.6 565.6 L435.9 561.6 L437.2 564.3 L438.1 560.9 L439.8 564.9 L441.1 561.5 L442.4 563.8 L443.7 561.9 L445.0 565.1 L446.3 561.8 L447.6 563.9 L448.9 561.8 L450.0 565.2 L451.5 561.4 L452.8 564.1 L454.1 562.1 L455.4 565.4 L456.7 561.0 L458.0 564.4 L459.3 562.4 L460.6 564.0 L461.9 562.0 L463.2 564.3 L464.5 559.2 L465.8 561.0 L467.1 556.9 L468.4 559.5 L469.0 555.9 L469.7 556.2 L471.0 549.6 L472.3 549.5 L473.8 540.7 L474.9 540.6 L476.2 532.2 L477.5 531.9 L478.6 523.9 L480.1 527.0 L481.4 521.7 L482.7 523.3 L483.3 520.5 L484.0 518.3 L485.3 506.2 L486.9 499.9 L487.9 488.8 L489.2 479.8 L490.5 465.7 L491.8 480.2 L493.1 488.6 L494.0 498.9 L495.7 510.7 L496.4 520.2 L497.0 519.7 L498.3 524.8 L499.6 525.9 L500.9 531.8 L502.2 533.0 L502.9 536.9 L503.5 529.9 L504.8 525.4 L506.1 514.6 L507.1 510.4 L509.0 490.7 L510.0 485.4 L510.7 474.9 L511.3 475.2 L512.6 467.0 L514.3 464.0 L515.2 451.2 L516.2 445.2 L517.9 421.7 L519.3 446.6 L520.7 466.0 L521.9 502.4 L523.1 531.0 L524.3 546.6 L525.6 554.3 L526.2 562.5 L526.9 561.4 L528.2 564.8 L529.5 564.4 L530.8 568.3 L532.1 563.8 L533.3 570.5 L534.7 566.8 L536.0 567.1 L537.3 562.8 L538.6 565.3 L539.9 560.3 L540.5 563.4 L541.2 560.1 L542.5 560.0 L543.8 555.4 L545.1 557.0 L546.4 551.2 L547.1 553.9 L547.7 552.2 L549.0 557.0 L550.3 555.7 L551.6 559.6 L552.4 558.2 L552.9 562.2 L554.2 560.2 L555.5 564.5 L557.1 563.1 L558.1 565.6 L559.4 559.6 L560.7 561.8 L562.0 555.6 L563.3 556.0 L564.3 550.4 L565.9 552.0 L567.2 545.4 L568.5 549.6 L569.8 545.3 L571.4 544.8 L572.4 547.3 L573.7 557.7 L575.0 559.7 L576.3 569.9 L577.6 573.6 L578.6 582.1 L580.2 579.5 L581.5 582.7 L582.8 580.1 L584.1 582.5 L585.4 580.7 L586.7 583.0 L588.1 580.6 L589.3 583.2 L590.6 580.2 L591.9 582.5 L593.2 578.7 L594.5 580.8 L595.8 578.0 L597.1 580.0 L598.4 576.6 L600.0 578.5 L601.0 573.9 L602.3 574.3 L603.6 569.1 L604.9 570.4 L606.0 565.7 L607.5 563.7 L608.8 555.2 L610.1 556.8 L611.4 551.1 L613.1 548.8 L614.0 547.5 L615.3 551.2 L616.7 551.5 L617.9 552.4 L619.2 548.3 L620.2 549.9 L621.8 556.5 L623.1 568.9 L623.8 570.3 L624.4 565.6 L626.2 536.2 L627.0 529.8 L628.6 506.8 L629.6 519.9 L630.9 529.3 L631.4 539.8 L632.2 546.9 L632.9 558.4 L633.5 562.2 L634.5 574.8 L636.1 575.3 L637.4 584.4 L638.7 582.5 L639.3 585.8 L640.0 583.6 L641.3 585.7 L642.6 582.3 L643.9 585.6 L645.2 582.8 L646.5 584.0 L647.8 581.8 L649.1 584.4 L650.4 580.2 L651.7 583.9 L652.4 578.9 L653.0 583.0 L654.3 580.5 L655.6 584.7 L656.9 581.3 L658.2 584.3 L659.5 580.7 L660.8 585.1 L662.1 580.9 L663.4 584.6 L664.7 582.5 L666.0 585.4 L666.7 580.1 L667.3 585.5 L668.6 583.6 L669.9 586.6 L671.2 584.2 L672.5 587.1 L673.8 583.9 L675.1 589.6 L676.2 587.0 L677.7 588.2 L679.0 585.0 L680.3 587.8 L681.6 585.1 L682.9 586.1 L684.2 584.0 L685.5 586.8 L686.8 582.7 L688.1 584.0 L689.4 582.2 L690.7 586.4 L692.0 583.1 L693.3 586.2 L694.6 583.7 L695.9 587.1 L697.2 583.8 L698.5 588.2 L700.0 585.2 L701.1 588.2 L702.4 583.8 L703.7 589.0 L705.0 586.3 L706.3 589.0 L707.6 586.6 L708.9 589.7 L710.2 585.8 L711.5 588.7 L712.8 586.0 L714.1 589.9 L715.4 586.6 L716.5 590.4 L718.0 586.0 L719.3 589.6 L720.6 585.9 L721.9 589.5 L723.2 585.5 L724.5 588.7 L725.8 584.4 L727.1 586.7 L728.4 583.8 L729.7 587.5 L731.0 583.6 L732.3 586.5 L733.0 583.1 L733.6 585.7 L734.9 583.0 L736.2 586.3 L737.5 582.9 L738.8 586.8 L740.1 584.1 L741.4 587.7 L742.7 584.0 L744.0 588.3 L745.3 586.0 L746.6 587.8 L747.9 585.9 L749.2 589.4 L750.5 585.6 L751.8 588.7 L753.1 586.8 L754.4 589.8 L754.9 587.4 L755.7 591.1 L757.0 587.6 L758.3 589.6 L759.6 585.6 L760.9 589.5 L762.2 586.6 L763.5 588.3 L764.8 585.2 L766.1 589.0 L767.4 585.9 L768.7 588.4 L770.0 584.5 L771.3 587.4 L772.6 584.3 L773.9 587.2 L775.2 585.0 L776.9 587.4 L777.8 584.6 L779.1 586.6 L780.4 583.8 L781.7 586.2 L783.0 581.8 L784.3 585.6 L785.6 582.2 L786.9 583.4 L788.2 578.8 L789.5 582.9 L790.7 579.5 L792.1 583.9 L793.4 576.8 L794.7 577.7 L795.3 575.2 L796.0 579.4 L797.3 577.1 L798.6 583.1 L800.3 583.7 L801.2 586.1 L802.5 583.6 L803.8 588.9 L805.1 583.8 L806.4 587.1 L807.7 584.7 L808.5 587.9 L810.3 582.9 L811.6 584.0 L812.9 578.7 L814.2 581.4 L815.5 575.5 L816.8 577.8 L818.1 572.8 L819.4 575.6 L820.7 569.5 L822.0 571.5 L823.3 566.8 L824.6 568.8 L826.4 564.0 L827.2 565.8 L828.5 560.0 L829.8 562.0 L831.1 556.3 L831.9 558.1 L832.4 551.4 L833.7 549.2 L835.0 540.0 L836.5 537.1 L837.6 538.7 L838.9 548.1 L840.7 553.4 L841.5 560.0 L842.8 563.8 L844.2 572.8 L845.4 571.1 L846.7 574.7 L848.0 572.2 L849.3 575.6 L850.6 573.4 L851.9 576.6 L853.2 572.0 L854.5 577.1 L855.8 575.2 L857.1 578.3 L858.4 576.4 L859.3 579.4 L861.0 575.7 L862.3 579.4 L863.6 576.4 L864.9 578.6 L866.2 576.2 L867.5 578.5 L868.8 576.2 L870.1 579.5 L871.4 575.9 L872.7 578.5 L874.0 575.2 L875.3 579.6 L875.8 576.7 L876.6 578.4 L877.9 576.1 L879.2 578.1 L880.5 574.8 L881.8 578.9 L883.1 573.6 L884.4 575.4 L885.7 572.8 L886.8 574.9 L888.3 569.9 L889.6 570.4 L890.9 564.9 L892.2 565.7 L893.7 561.3 L894.8 561.7 L896.1 556.2 L897.0 556.7 L898.7 556.7 L900.0 562.2 L901.3 562.4 L901.9 566.9 L902.6 564.7 L903.9 568.8 L905.2 566.6 L906.5 571.3 L907.8 568.0 L909.1 572.0 L910.4 571.6 L911.5 575.3 L913.0 572.3 L914.3 573.8 L915.6 570.8 L916.9 574.0 L918.2 570.8 L919.5 574.8 L920.8 570.8 L922.1 573.9 L923.4 571.1 L924.7 572.7 L925.3 570.7 L926.0 571.8 L927.3 568.6 L928.6 569.0 L929.9 564.5 L930.8 566.1 L932.5 560.2 L933.8 561.9 L934.3 557.5 L935.1 562.8 L936.4 561.5 L937.7 566.1 L939.0 564.2 L940.4 569.7 L941.6 567.7 L942.9 573.8 L944.2 572.0 L945.9 578.4 L946.8 576.0 L948.1 581.5 L949.4 580.1 L950.7 586.2 L951.4 585.2 L952.0 587.6 L953.3 583.5 L954.6 585.9 L955.9 583.2 L957.2 587.9 L958.5 582.5 L959.8 586.3 L961.1 582.5 L962.4 585.1 L963.7 581.6 L965.0 585.3 L966.3 581.5 L967.6 584.3 L969.2 581.2 L970.2 583.9 L971.5 582.4 L972.8 584.7 L974.1 581.9 L975.4 585.2 L976.7 582.2 L978.0 584.1 L979.3 581.5 L980.6 584.0 L981.9 582.3 L983.2 584.6 L984.5 581.9 L985.8 585.4 L987.1 582.3 L988.5 583.8 L989.7 581.5 L991.0 584.8 L992.3 582.1 L993.6 585.4 L994.9 583.5 L996.2 586.3 L997.5 583.1 L998.8 586.5 L1000.1 583.9 L1001.4 586.6 L1002.2 584.0 L1004.0 586.8 L1005.3 584.8 L1006.6 587.7 L1007.9 584.9 L1009.2 590.2 L1010.5 584.8 L1011.8 588.4 L1013.1 584.5 L1014.4 588.6 L1015.7 585.2 L1017.0 588.3 L1018.3 585.0 L1019.6 588.8 L1020.9 586.0 L1022.2 589.3 L1023.5 586.4 L1024.2 588.7 L1024.8 585.9 L1026.1 588.6 L1027.4 585.0 L1028.7 586.5 L1030.0 584.7 L1031.3 586.4 L1032.6 582.2 L1033.9 586.0 L1035.2 581.7 L1036.5 585.5 L1037.9 582.3 L1039.1 584.0 L1040.4 580.7 L1041.7 583.7 L1043.0 580.5 L1044.3 584.9 L1045.6 580.7 L1046.9 583.6 L1048.2 581.2 L1049.5 583.5 L1050.8 580.2 L1052.1 583.9 L1053.4 580.4 L1054.4 583.4 L1056.0 579.9 L1057.3 583.7 L1058.6 580.5 L1059.9 586.2 L1061.2 582.0 L1062.5 584.8 L1063.8 581.8 L1065.1 586.3 L1066.4 582.6 L1067.7 586.8 L1069.0 583.3 L1070.3 587.5 L1070.9 584.4 L1071.6 587.7 L1072.9 584.2 L1074.2 587.9 L1075.5 584.0 L1076.8 588.3 L1078.1 585.0 L1079.4 587.4 L1080.7 585.2 L1082.0 587.7 L1083.3 586.4 L1084.6 588.2 L1085.9 584.0 L1087.2 586.9 L1088.5 583.1 L1089.8 586.0 L1091.1 580.4 L1092.9 583.4 L1093.7 579.6 L1095.0 584.2 L1096.3 580.7 L1097.6 583.4 L1098.9 580.1 L1100.2 582.6 L1101.5 579.6 L1102.8 583.3 L1104.1 580.3 L1105.4 583.3 L1106.6 580.9 L1108.0 583.6 L1109.3 580.3 L1110.6 586.1 L1111.9 581.0 L1113.2 583.7 L1114.5 581.8 L1115.8 585.4 L1117.1 582.4 L1118.4 585.6 L1119.7 583.2 L1120.3 585.6 L1121.0 582.6 L1122.3 586.6 L1123.6 584.1 L1124.9 586.8 L1126.2 582.7 L1127.5 586.5 L1128.8 583.1 L1130.1 587.3 L1131.4 584.4 L1132.7 587.2 L1134.1 584.8 L1135.3 585.5 L1136.6 582.4 L1137.9 583.8 L1139.2 579.7 L1140.5 582.7 L1141.8 578.3 L1142.3 580.5 L1143.1 577.8 L1144.4 580.4 L1145.7 577.3 L1147.0 580.2 L1148.3 576.5 L1149.6 579.7 L1150.9 576.9 L1152.2 579.6 L1153.5 577.5 L1154.8 580.0 L1156.1 576.8 L1157.4 581.6 L1158.7 577.2 L1160.0 579.9 L1161.5 578.3 L1162.6 580.0 L1163.9 575.2 L1165.2 580.7 L1166.5 577.6 L1167.8 580.7 L1169.1 577.8 L1170.4 580.0 L1171.7 576.7 L1173.0 580.1 L1174.3 576.9 L1175.6 580.9 L1176.9 576.7 L1178.0 579.5 L1179.5 576.5 L1180.8 578.0 L1182.1 573.5 L1183.4 576.7 L1184.7 572.6 L1186.0 575.5 L1187.3 570.4 L1189.0 572.0 L1189.9 568.7 L1191.2 572.4 L1192.5 569.0 L1193.8 572.5 L1195.1 569.5 L1196.4 573.2 L1197.3 571.0 L1199.0 572.2 L1200.3 568.8 L1201.6 571.2 L1202.7 566.9 L1204.2 573.9 L1205.5 573.1 L1206.8 577.1 L1208.2 577.3 L1209.4 581.1 L1210.7 578.3 L1212.0 581.0 L1213.3 578.0 L1214.6 581.2 L1215.9 578.8 L1216.5 582.7 L1217.2 579.3 L1218.5 581.7 L1219.8 578.8 L1221.1 580.9 L1222.4 577.9 L1223.7 580.2 L1225.0 577.6 L1226.3 580.8 L1227.6 576.8 L1228.9 580.4 L1230.2 576.9 L1231.5 582.0 L1232.8 579.4 L1234.1 583.8 L1235.4 580.4 L1236.7 586.5 L1238.5 583.6 L1239.3 586.4 L1240.6 584.6 L1241.9 587.4 L1243.2 583.6 L1244.5 587.4 L1245.8 583.9 L1247.1 587.2 L1248.4 585.1 L1249.7 586.7 L1251.0 584.0 L1252.3 587.0 L1253.6 584.5 L1254.9 586.5 L1256.2 584.8 L1257.5 587.1 L1258.8 583.7 L1260.1 586.8 L1261.4 584.2 L1263.2 587.7 L1264.0 583.8 L1265.3 586.6 L1266.6 583.3 L1267.9 586.7 L1269.2 584.3 L1270.5 585.9 L1271.8 582.4 L1273.1 585.7 L1274.4 583.3 L1275.7 584.6 L1277.0 582.1 L1278.3 585.9 L1279.6 581.1 L1280.9 584.1 L1282.4 581.2 L1283.5 583.7 L1284.8 581.6 L1286.1 585.1 L1287.4 582.4 L1288.7 585.0 L1290.0 581.4 L1291.3 585.2 L1292.6 581.2 L1293.9 585.0 L1295.2 581.4 L1296.5 584.8 L1297.8 582.0 L1299.1 585.7 L1300.4 582.6 L1301.7 584.5 L1303.0 582.9 L1304.3 584.9 L1305.6 582.7 L1306.9 585.6 L1308.2 581.2 L1309.5 585.7 L1310.8 582.9 L1312.1 584.7 L1313.4 583.0 L1314.7 585.7 L1316.0 580.4 L1317.3 585.4 L1318.6 583.3 L1319.9 585.0 L1321.2 581.6 L1322.5 585.9 L1323.8 582.5 L1325.1 585.9 L1325.8 583.4 L1326.4 585.2 L1327.7 582.8 L1329.0 586.4 L1330.3 583.3 L1331.6 586.1 L1332.9 582.8 L1334.2 586.7 L1335.5 584.2 L1336.8 587.2 L1338.1 583.9 L1339.4 586.6 L1340.7 584.5 L1342.0 587.8 L1343.3 585.1 L1344.6 589.7 L1345.9 585.3 L1347.2 589.9 L1348.5 584.1 L1349.8 588.2 L1351.1 584.9 L1352.4 587.8 L1353.7 586.2 L1355.0 589.4 L1356.3 583.2 L1357.6 588.2 L1358.9 585.2 L1360.2 590.2 L1361.5 586.8 L1362.8 589.5 L1364.1 586.9 L1365.4 589.9 L1366.7 587.3 L1368.0 589.7 L1369.3 584.4 L1370.6 590.8 L1371.6 588.0 L1373.2 590.3 L1374.5 587.0 L1375.8 590.8 L1377.1 588.0 L1378.4 590.1 L1379.7 588.0 L1381.0 590.0 L1382.3 588.3 L1383.6 590.3 L1384.9 588.2 L1386.2 591.1 L1387.5 586.8 L1388.8 590.6 L1390.1 588.0 L1391.4 592.8 L1392.7 587.1 L1394.0 590.2 L1395.3 587.0 L1396.6 590.4 L1397.9 587.2 L1399.2 591.1 L1400.5 588.7 L1401.8 590.1 L1403.1 588.0 L1404.4 593.2 L1405.7 587.6 L1407.0 591.5 L1408.3 587.9 L1409.6 591.6 L1410.9 588.5 L1412.2 590.6 L1413.5 587.5 L1414.8 592.0 L1416.1 587.9 L1417.4 590.5 L1418.7 588.2 L1420.0 591.5 L1421.3 588.6 L1422.6 591.8 L1423.9 588.8 L1425.2 591.2 L1426.5 589.4 L1427.8 591.8 L1429.1 588.7 L1430.4 591.6 L1431.7 588.6 L1433.0 591.4 L1434.3 588.3 L1435.6 592.3 L1436.9 589.4 L1438.2 592.0 L1439.5 589.3 L1440.8 591.9 L1442.1 589.1 L1443.4 591.6 L1444.7 588.4 L1446.0 591.7 L1447.3 589.0 L1448.6 593.7 L1449.9 588.8 L1451.2 591.5 L1452.5 589.1 L1453.8 592.9 L1455.1 590.0 L1456.4 592.4 L1457.7 589.1 L1459.0 592.5 L1460.3 589.2 L1461.6 592.9 L1463.2 589.6 L1464.2 591.9 L1465.5 589.4 L1466.8 592.4 L1468.1 589.6 L1469.4 593.8 L1470.7 589.9 L1472.0 591.9 L1473.3 589.6 L1474.6 592.7 L1475.9 590.0 L1477.2 593.4 L1478.5 589.3 L1479.8 593.2 L1481.1 588.7 L1482.4 592.3 L1483.7 590.3 L1485.0 592.6 L1486.3 589.8 L1487.6 592.2 L1488.9 589.7 L1490.2 592.8 L1491.5 589.0 L1492.8 592.9 L1494.1 589.0 L1495.4 592.7 L1496.7 589.6 L1498.0 593.0 L1499.3 588.8 L1500.6 591.7 L1501.9 588.8 L1503.2 592.3 L1504.5 590.0 L1505.8 592.4 L1507.1 589.2 L1508.4 593.0 L1509.7 589.6 L1511.0 592.7 L1512.3 589.0 L1513.6 592.2 L1514.9 589.3 L1516.2 591.6 L1517.5 588.8 L1518.8 593.2 L1520.1 588.0 L1521.4 592.7 L1522.7 589.1 L1524.0 592.1 L1525.3 589.6 L1526.6 593.3 L1527.9 589.4 L1529.2 592.5 L1530.5 589.1 L1531.8 592.6 L1533.1 588.8 L1534.4 593.3 L1535.7 589.2 L1537.0 592.0 L1538.3 588.8 L1539.6 592.1 L1540.9 589.8 L1542.2 591.9 L1543.5 588.7 L1544.8 593.1 L1545.6 589.1 L1546.1 592.7 L1547.4 589.6 L1548.7 592.5 L1550.0 590.8 L1551.3 594.8 L1552.6 590.6 L1553.9 595.0 L1555.2 592.4 L1556.5 596.1 L1557.8 592.6 L1559.1 596.5 L1560.4 593.8 L1561.7 596.8 L1563.0 594.7 L1563.9 596.7 L1565.6 592.3 L1566.9 597.0 L1568.2 594.0 L1569.5 596.6 L1570.8 592.1 L1572.1 597.5 L1573.4 593.8 L1574.7 596.5 L1576.0 592.8 L1577.3 597.8 L1578.6 592.9 L1579.9 596.2 L1581.2 592.1 L1582.5 595.5 L1583.8 593.0 L1585.1 595.1 L1586.4 591.6 L1587.7 594.9 L1589.0 592.8 L1590.3 594.8 L1591.4 592.4 L1592.9 594.4 L1594.2 593.5 L1595.5 596.8 L1596.8 593.8 L1598.1 595.9 L1599.4 594.1 L1600.7 597.5 L1602.0 595.1 L1603.3 597.5 L1604.6 595.1 L1605.9 601.9 L1607.2 595.6 L1608.5 599.6 L1609.7 597.9 L1611.1 601.0 L1612.4 597.0 L1613.7 601.2 L1615.0 598.0 L1616.3 601.5 L1617.6 598.2 L1618.9 600.5 L1620.2 598.6 L1621.5 601.7 L1622.8 597.3 L1624.1 601.0 L1625.4 596.5 L1626.7 601.1 L1628.0 598.1 L1629.3 602.1 L1630.6 598.5 L1631.9 602.6 L1633.2 598.2 L1634.5 602.4 L1635.8 598.3 L1637.1 603.1 L1638.4 599.7 L1639.7 602.3 L1641.0 599.9 L1642.3 602.0 L1643.6 599.0 L1644.9 602.3 L1646.3 599.4 L1647.5 603.0 L1648.8 600.0 L1650.1 603.9 L1651.4 599.4 L1652.7 603.2 L1654.0 600.8 L1655.3 604.1 L1656.6 599.8 L1657.9 603.7 L1659.2 601.0 L1660.5 604.1 L1661.8 600.4 L1663.1 602.8 L1664.4 600.0 L1665.7 605.6 L1667.0 601.3 L1668.3 604.4 L1669.6 600.7 L1670.9 604.2 L1672.2 601.0 L1673.5 603.6 L1674.8 601.6 L1676.1 604.3 L1677.4 601.2 L1678.7 604.4 L1680.0 599.4 L1681.3 604.1 L1682.6 601.7 L1683.9 604.7 L1685.2 602.1 L1686.5 605.2 L1687.8 600.9 L1689.1 605.3 L1690.4 601.1 L1692.1 604.9 L1693.0 601.4 L1694.3 604.6 L1695.6 601.2 L1696.9 605.6 L1698.2 602.1 L1699.5 604.7 L1700.8 601.6 L1702.1 605.0 L1703.4 602.1 L1704.7 607.4 L1706.0 602.3 L1707.3 605.8 L1708.6 603.2 L1709.9 604.7 L1711.2 602.9 L1712.5 605.8 L1713.8 602.1 L1715.1 606.2 L1716.4 603.4 L1717.7 604.7 L1719.0 602.5 L1720.3 605.2 L1721.6 603.0 L1722.9 605.0 L1724.2 602.2 L1725.5 606.4 L1726.8 602.8 L1728.1 605.3 L1729.4 602.4 L1730.7 606.7 L1732.0 602.7 L1733.3 605.6 L1734.6 602.5 L1735.9 605.9 L1737.2 602.8 L1737.9 606.2 L1738.5 602.7 L1739.8 605.6 L1741.1 603.2 L1742.4 605.5 L1743.7 603.9 L1745.0 605.8 L1746.3 602.8 L1747.6 605.9 L1748.9 603.8 L1750.2 606.3 L1751.5 603.7 L1752.8 607.2 L1754.1 602.9 L1755.4 607.4 L1756.7 603.0 L1758.0 608.8 L1759.3 603.0 L1760.6 606.0 L1761.9 602.9 L1763.2 606.0 L1764.5 604.0 L1765.8 606.6 L1767.1 603.7 L1768.4 606.0 L1769.7 604.2 L1771.0 606.8 L1772.3 604.0 L1773.6 606.5 L1774.9 603.0 L1776.2 606.9 L1777.5 604.1 L1778.8 607.4 L1780.1 603.3 L1781.4 607.6 L1782.7 604.2 L1784.0 606.2 L1785.3 603.1 L1786.6 607.8 L1787.9 604.4 L1789.2 606.2 L1790.5 603.5 L1791.8 607.4 L1793.1 603.6 L1794.4 607.2 L1795.7 604.6 L1797.0 607.1 L1798.3 603.5 L1799.6 606.4 L1800.9 604.1 L1802.2 607.4 L1803.5 604.9 L1804.8 606.5 L1806.1 604.0 L1807.4 607.1 L1808.7 604.0 L1810.0 607.9 L1811.3 604.0 L1812.6 607.8 L1813.9 604.7 L1815.2 608.1 L1816.5 604.3 L1817.8 607.2 L1819.1 602.6 L1820.4 606.9 L1821.7 605.3 L1823.0 607.6 L1824.3 604.5 L1825.6 607.5 L1826.9 604.5 L1828.2 609.4 L1829.5 604.5 L1830.8 608.2 L1832.1 604.4 L1833.4 608.4 L1834.7 606.3 L1836.0 609.4 L1837.3 604.7 L1838.6 610.0 L1839.9 607.3 L1841.2 610.4 L1842.5 607.3 L1843.2 610.1 L1843.8 608.0 L1845.1 610.6 L1846.4 606.8 L1847.7 610.6 L1849.0 607.8 L1850.3 609.0 L1851.6 607.0 L1852.9 609.1 L1854.2 606.9 L1855.5 609.5 L1856.8 606.0 L1858.1 608.0 L1859.4 604.9 L1860.7 608.2 L1862.0 605.3 L1863.3 607.4 L1864.6 604.3 L1865.9 608.4 L1867.2 605.3 L1868.5 607.8 L1869.8 604.1 L1871.1 607.5 L1872.4 601.7 L1873.7 608.3 L1875.2 603.0 L1876.3 606.7 L1877.6 602.5 L1878.9 605.8 L1880.2 602.8 L1881.5 606.4 L1882.8 602.5 L1884.1 605.4 L1885.4 603.0 L1886.7 606.8 L1888.0 603.6 L1889.3 606.3 L1890.6 602.5 L1891.9 606.6 L1893.2 602.9 L1894.5 607.0 L1895.8 603.2 L1897.1 607.0 L1898.4 603.4 L1899.7 606.7 L1901.0 602.3 L1902.3 605.6 L1903.6 603.1 L1904.9 606.2 L1906.2 602.8 L1907.5 606.4 L1908.8 602.3 L1910.1 605.7 L1911.4 602.8 L1912.7 605.8 L1914.0 602.4 L1915.3 605.5 L1916.6 603.7 L1917.9 606.0 L1919.2 603.3 L1920.5 606.9 L1921.8 602.1 L1923.1 606.4 L1924.4 602.4 L1925.7 606.4 L1927.0 603.4 L1928.3 606.4 L1929.6 602.5 L1930.9 606.9 L1932.2 600.6 L1933.5 606.2 L1934.8 603.5 L1936.1 606.0 L1937.4 602.5 L1938.7 607.1 L1940.0 601.3 L1941.3 607.1 L1942.6 602.8 L1943.9 606.9 L1945.2 603.2 L1946.5 606.3 L1947.8 603.6 L1949.1 606.3 L1950.4 603.3 L1951.7 606.9 L1953.0 604.0 L1954.3 606.3 L1955.6 602.2 L1956.9 605.7 L1958.2 604.1 L1959.5 606.2 L1960.8 602.7 L1962.1 606.2 L1963.4 603.1 L1964.7 606.1 L1966.0 602.4 L1966.8 606.3 L1968.6 603.3 L1969.9 605.5 L1971.2 604.1 L1972.5 606.3 L1973.8 602.7 L1975.1 606.1 L1976.4 603.9 L1977.7 606.3 L1979.0 602.6 L1980.3 607.7 L1981.6 604.1 L1982.9 606.8 L1984.2 603.9 L1985.5 607.8 L1986.8 604.6 L1988.1 606.7 L1989.4 604.6 L1990.7 607.8 L1992.0 604.4 L1993.3 608.2 L1994.6 604.6 L1995.9 607.0 L1997.2 605.0 L1998.5 607.3 L1999.8 604.5 L2001.1 607.3 L2002.4 604.5 L2003.7 606.8 L2005.0 604.1 L2006.3 607.6 L2007.6 604.4 L2008.9 607.6 L2010.2 604.6 L2011.5 607.1 L2012.8 604.8 L2014.1 607.8 L2015.4 605.1 L2016.7 607.5 L2018.0 605.8 L2019.3 608.5 L2020.6 604.7 L2021.9 608.4 L2023.2 604.4 L2024.5 608.4 L2025.8 603.5 L2027.1 608.6 L2028.4 605.1 L2029.7 607.8 L2031.0 606.1 L2032.3 608.9 L2033.6 604.9 L2034.9 609.1 L2035.5 606.3 L2036.2 608.8 L2037.5 606.4 L2038.8 608.9 L2040.1 606.2 L2041.4 607.7 L2042.7 605.9 L2044.0 608.4 L2045.3 604.8 L2046.6 608.0 L2047.9 606.0 L2049.2 609.3 L2050.5 605.5 L2051.8 609.2 L2053.1 605.5 L2054.4 609.5 L2055.7 603.7 L2057.0 608.3 L2058.3 606.5 L2059.6 609.6 L2060.9 605.6 L2062.2 608.2 L2063.5 605.0 L2064.8 608.9 L2066.1 605.6 L2067.4 608.6 L2068.7 605.2 L2070.0 609.7 L2071.3 606.1 L2072.6 608.3 L2073.9 605.6 L2075.2 609.1 L2076.5 604.6 L2077.8 609.3 L2079.1 606.9 L2080.4 608.7 L2081.7 605.5 L2083.0 611.2 L2084.3 606.3 L2085.6 609.8 L2086.9 603.5 L2088.2 609.1 L2089.5 605.7 L2090.8 609.3 L2092.1 606.1 L2093.4 608.8 L2094.7 606.7 L2096.0 611.2 L2097.3 606.8 L2098.6 609.7 L2099.9 606.2 L2101.2 609.7 L2102.5 606.3 L2104.2 609.4 L2105.1 605.9 L2106.4 609.3 L2107.7 606.6 L2109.0 611.8 L2110.3 607.3 L2111.6 609.3 L2112.9 606.4 L2114.2 609.2 L2115.5 606.7 L2116.8 609.5 L2118.1 605.9 L2119.4 610.2 L2120.7 606.4 L2122.0 610.4 L2123.3 606.5 L2124.6 609.1 L2125.9 606.6 L2127.2 610.5 L2128.5 606.3 L2129.8 609.5 L2131.1 608.0 L2132.4 611.0 L2133.7 607.1 L2135.0 610.7 L2136.3 607.6 L2137.6 610.6 L2138.9 606.9 L2140.2 610.7 L2141.5 607.1 L2142.8 610.3 L2144.1 606.3 L2145.4 610.6 L2146.7 607.3 L2148.0 611.4 L2149.3 607.3 L2150.6 611.1 L2151.9 608.0 L2153.2 610.9 L2154.5 607.1 L2155.8 610.3 L2157.1 608.3 L2158.4 611.6 L2159.7 607.7 L2161.0 613.5 L2162.3 607.3 L2163.6 610.1 L2164.9 608.0 L2166.2 610.4 L2167.5 608.0 L2168.8 611.7 L2170.1 608.6 L2171.4 610.4 L2172.7 608.4 L2174.0 611.8 L2175.3 608.2 L2176.6 610.9 L2177.9 608.5 L2179.2 611.6 L2180.5 609.0 L2181.8 613.3 L2183.1 607.7 L2184.4 611.6 L2185.7 608.3 L2187.0 611.9 L2188.3 607.6 L2189.6 612.4 L2190.9 609.1 L2192.2 612.1 L2193.5 609.5 L2194.8 612.5 L2195.8 609.5 L2197.4 612.2 L2198.7 609.4 L2200.0 611.0 L2201.3 608.6 L2202.6 611.8 L2203.9 608.3 L2205.2 611.3 L2206.5 608.4 L2207.8 611.9 L2209.1 608.2 L2210.4 611.5 L2211.7 608.5 L2213.0 611.7 L2214.3 609.2 L2215.6 611.5 L2216.9 609.5 L2218.2 611.8 L2219.5 609.0 L2220.8 613.0 L2222.1 609.3 L2223.4 610.9 L2224.7 608.0 L2226.0 612.5 L2227.3 609.0 L2228.6 612.3 L2229.9 606.5 L2231.2 613.3 L2232.5 607.7 L2233.8 611.8 L2235.1 609.1 L2236.4 612.2 L2237.7 609.2 L2239.0 611.2 L2240.3 609.4 L2241.6 611.3 L2242.9 608.6 L2244.2 612.1 L2245.5 608.4 L2246.8 614.0 L2248.1 607.9 L2249.4 611.1 L2250.7 609.3 L2252.0 611.4 L2253.3 609.5 L2254.6 612.3 L2255.9 606.8 L2257.2 611.8 L2258.5 609.2 L2259.8 612.1 L2261.1 609.5 L2262.4 611.2 L2263.7 608.7 L2264.4 612.5 L2265.0 607.5 L2266.3 612.2 L2267.6 608.5 L2268.9 611.3 L2270.2 609.6 L2271.5 612.5 L2272.0 609.3" fill="none" stroke="#ff00ff" stroke-width="4.8" stroke-linejoin="round" stroke-linecap="butt"/>
<path d="M216.2 616.3 L217.9 673.0 L218.8 698.7 L220.2 746.5 L221.4 757.2 L222.7 776.9 L223.8 789.1 L225.3 795.4 L226.6 796.1 L227.9 803.6 L228.6 802.9 L229.2 804.0 L230.5 799.4 L231.8 799.1 L233.1 793.2 L234.4 795.1 L235.7 788.5 L237.0 789.3 L238.3 782.9 L239.6 781.1 L240.9 775.3 L242.2 774.3 L242.9 770.2 L243.5 766.7 L244.8 750.2 L246.4 733.1 L247.4 704.0 L248.3 683.0 L249.5 704.9 L250.5 732.5 L251.2 761.0 L251.9 789.7 L252.6 787.2 L253.9 789.8 L255.2 783.5 L256.5 787.5 L257.8 784.4 L259.5 786.4 L260.4 783.3 L261.7 782.5 L263.0 776.5 L264.3 778.5 L265.6 772.9 L266.7 772.1 L268.2 767.1 L269.5 766.6 L270.2 760.6 L270.8 770.4 L272.1 776.0 L272.6 782.4 L273.4 774.6 L274.7 769.8 L276.0 758.7 L276.7 757.8 L277.3 760.9 L278.6 775.9 L279.8 785.1 L281.2 788.0 L282.5 784.1 L283.8 788.4 L284.5 786.7 L285.1 788.5 L286.4 783.8 L287.7 785.1 L289.0 779.9 L290.3 781.8 L291.7 777.4 L292.9 780.5 L294.2 778.7 L295.2 782.2 L296.8 767.9 L297.6 763.7 L299.4 777.2 L300.5 789.1 L302.0 786.8 L303.3 788.8 L304.6 786.9 L305.9 789.4 L307.1 787.2 L308.5 786.6 L309.8 780.4 L311.1 779.4 L312.4 774.6 L313.1 775.8 L313.7 775.1 L315.0 783.1 L316.7 786.9 L317.6 788.3 L318.9 784.8 L320.2 785.9 L321.4 782.1 L322.8 781.5 L324.1 774.0 L325.4 777.7 L326.7 770.6 L327.4 772.4 L328.0 767.6 L329.3 767.2 L330.6 760.6 L332.1 757.8 L333.2 739.3 L334.5 719.7 L335.8 692.7 L336.4 684.3 L337.1 694.5 L337.6 710.5 L338.6 729.9 L339.5 761.0 L340.5 781.1 L341.0 784.5 L342.3 781.3 L343.6 785.3 L344.8 782.4 L346.2 773.1 L347.5 758.1 L348.8 750.8 L350.1 768.1 L351.2 787.8 L352.7 789.8 L354.0 798.4 L354.8 798.6 L355.3 800.0 L356.6 796.7 L357.9 797.6 L359.2 793.5 L360.5 796.9 L361.9 791.7 L363.1 795.4 L364.4 793.5 L365.7 796.8 L367.0 795.1 L368.3 798.9 L369.6 797.0 L370.9 801.2 L371.4 798.8 L372.2 801.5 L373.5 798.3 L374.8 800.9 L376.1 797.1 L377.4 799.5 L378.7 796.4 L380.0 800.2 L381.0 795.5 L382.6 800.1 L383.9 797.9 L385.2 802.2 L386.5 799.8 L387.8 804.9 L389.1 802.0 L390.5 806.3 L391.7 803.2 L393.0 806.2 L394.3 804.1 L395.6 806.1 L396.9 803.9 L398.2 808.4 L399.5 802.7 L400.8 806.8 L402.4 803.2 L403.4 804.4 L404.7 801.0 L406.0 801.9 L407.3 797.7 L408.6 800.6 L409.5 795.6 L411.2 802.3 L412.5 802.7 L414.3 809.6 L415.1 806.4 L416.4 807.9 L417.7 802.9 L419.0 805.7 L420.3 802.5 L421.4 804.3 L422.9 799.5 L424.2 801.3 L425.5 797.5 L426.8 800.4 L427.4 795.0 L428.1 799.2 L429.4 798.2 L430.7 802.6 L432.0 801.9 L433.3 807.0 L434.6 804.9 L435.9 810.6 L437.2 809.5 L438.1 812.5 L439.8 807.3 L441.1 807.1 L442.9 800.5 L443.7 801.1 L445.0 791.7 L446.0 791.3 L447.6 795.9 L448.9 805.8 L449.5 805.9 L450.2 810.1 L451.5 808.4 L452.8 812.6 L454.1 810.0 L455.4 814.7 L456.0 813.3 L456.7 817.6 L458.0 816.2 L459.3 823.0 L460.6 822.3 L461.9 826.9 L463.2 821.5 L464.5 825.2 L465.8 821.2 L467.1 823.9 L468.4 819.4 L469.0 821.8 L469.7 818.8 L471.0 820.5 L472.3 817.7 L473.8 821.2 L474.9 814.7 L476.7 810.7 L477.5 811.4 L478.8 821.1 L479.8 821.8 L481.4 822.4 L482.7 816.2 L484.0 816.1 L484.5 813.1 L485.3 806.8 L486.9 784.8 L487.9 779.5 L489.3 764.6 L491.0 791.3 L491.8 803.6 L492.4 816.1 L493.1 805.7 L494.4 795.6 L495.2 784.8 L496.9 773.5 L498.3 789.0 L499.5 810.7 L500.9 815.8 L501.9 823.3 L503.5 803.8 L504.8 791.7 L506.4 760.6 L507.4 753.7 L508.8 734.9 L510.5 758.2 L511.3 767.3 L511.9 779.2 L512.6 753.9 L513.1 740.0 L514.3 693.4 L515.5 653.2 L516.7 612.2 L517.9 653.9 L519.0 694.2 L520.2 743.5 L521.0 776.5 L521.7 815.5 L523.0 828.9 L523.8 842.7 L525.6 837.6 L526.9 838.8 L528.2 834.3 L529.5 838.2 L531.0 831.9 L532.1 833.8 L533.4 829.9 L534.7 832.9 L536.0 828.0 L536.9 830.8 L538.6 818.5 L539.9 813.8 L541.7 800.2 L542.5 800.1 L543.8 792.4 L545.2 791.4 L546.4 800.6 L547.6 815.9 L549.0 823.4 L550.0 834.5 L551.6 816.8 L552.4 813.2 L552.9 815.2 L554.2 829.1 L555.2 836.4 L556.8 833.1 L558.1 824.7 L559.5 821.9 L560.7 826.2 L562.4 839.4 L563.3 839.5 L564.6 847.8 L565.5 848.5 L567.2 833.8 L568.5 818.2 L569.0 815.1 L569.8 804.8 L571.4 787.8 L572.4 811.0 L573.3 839.5 L575.0 853.2 L575.7 863.0 L576.3 860.8 L577.6 863.2 L578.9 861.8 L580.2 867.5 L581.5 863.2 L582.8 865.3 L584.1 863.7 L585.7 866.1 L586.7 864.6 L588.0 867.3 L589.3 865.1 L590.6 867.6 L591.9 865.1 L593.2 867.8 L594.5 865.1 L595.8 868.2 L597.1 866.6 L598.4 868.8 L599.7 865.4 L601.0 869.7 L602.4 867.7 L603.6 869.2 L604.9 864.2 L606.2 864.3 L607.5 859.8 L608.8 860.4 L609.5 855.9 L610.1 859.6 L611.4 858.8 L613.1 863.7 L614.0 859.0 L615.3 859.7 L616.2 856.2 L617.9 865.5 L619.2 868.6 L620.2 875.4 L621.8 872.3 L623.1 874.2 L624.4 872.6 L625.7 874.9 L627.0 872.1 L628.6 874.6 L629.6 871.0 L630.9 875.1 L632.2 872.6 L633.5 876.3 L634.8 873.5 L636.1 877.1 L637.4 876.3 L638.7 880.7 L640.5 877.9 L641.3 880.4 L642.6 878.4 L643.9 881.5 L645.2 878.0 L646.5 881.7 L647.8 878.1 L649.1 881.2 L650.4 879.8 L651.7 881.6 L652.4 876.9 L653.0 883.3 L654.3 879.2 L655.6 884.2 L656.9 881.1 L658.2 885.4 L659.5 882.2 L660.8 885.1 L662.1 883.2 L663.4 886.3 L664.3 884.3 L666.0 886.3 L667.3 884.0 L668.6 888.0 L669.9 883.8 L671.2 886.6 L672.5 883.7 L673.8 885.9 L675.1 883.9 L676.2 885.4 L677.7 882.8 L679.0 887.1 L680.3 882.8 L681.6 886.4 L682.9 883.1 L684.2 886.7 L685.5 884.2 L686.8 887.7 L688.1 883.5 L689.4 886.1 L690.7 883.9 L692.0 886.2 L693.3 880.8 L694.6 885.1 L695.9 881.5 L697.2 884.1 L698.5 881.5 L700.0 882.9 L701.1 880.3 L702.4 884.5 L703.7 880.2 L705.0 883.2 L706.3 881.0 L707.6 883.9 L708.9 880.4 L710.2 883.8 L711.5 880.5 L712.8 883.5 L714.1 882.0 L715.4 884.1 L716.7 881.8 L718.0 884.4 L719.3 881.4 L720.6 884.7 L721.9 882.2 L723.2 883.5 L724.5 881.8 L725.8 885.7 L727.5 881.0 L728.4 885.2 L729.7 882.6 L731.0 886.3 L732.3 882.5 L733.6 886.5 L734.9 884.1 L736.2 887.1 L737.5 883.5 L738.8 886.9 L740.1 885.6 L741.4 888.6 L742.7 885.4 L744.0 889.3 L745.3 885.8 L746.6 889.1 L747.9 886.9 L749.2 890.3 L750.5 887.0 L751.8 889.8 L753.1 887.3 L754.4 889.7 L755.7 887.6 L757.0 891.4 L758.3 887.4 L759.6 890.4 L760.9 888.4 L762.2 891.2 L763.5 888.3 L764.8 892.3 L766.1 889.4 L767.4 893.3 L768.7 890.4 L770.0 891.9 L771.3 888.8 L772.6 891.7 L773.9 888.2 L775.2 891.4 L776.5 889.2 L777.8 892.0 L779.1 887.8 L780.4 890.0 L781.7 887.2 L783.0 890.5 L784.3 888.1 L785.2 890.7 L786.9 885.3 L788.2 887.1 L789.5 884.4 L790.8 886.2 L792.0 880.9 L793.4 888.0 L794.7 886.6 L796.2 891.9 L797.3 890.6 L798.6 893.7 L799.9 891.4 L801.2 893.8 L802.5 891.8 L803.8 895.1 L805.1 892.2 L806.4 894.1 L807.7 891.4 L809.0 895.5 L809.9 891.7 L811.6 894.3 L812.9 890.5 L814.2 894.0 L815.5 891.0 L816.8 892.9 L818.1 888.9 L819.5 891.4 L820.7 884.8 L822.3 882.6 L823.3 879.9 L824.6 883.5 L825.9 881.1 L827.2 884.7 L828.5 883.5 L829.1 885.7 L829.8 876.9 L831.1 868.4 L831.9 854.6 L832.4 851.1 L833.2 837.0 L834.6 821.2 L836.3 820.7 L837.4 825.4 L838.5 850.3 L839.6 877.8 L840.2 875.5 L841.5 883.0 L842.9 882.1 L844.1 885.3 L845.4 882.9 L846.7 886.6 L848.0 882.8 L849.3 886.6 L850.6 883.3 L851.9 887.0 L853.2 884.0 L853.8 888.1 L854.5 884.7 L855.8 891.9 L857.1 887.6 L858.4 892.4 L859.3 890.5 L861.0 892.0 L862.3 886.5 L863.6 887.0 L864.9 882.2 L866.2 883.3 L867.6 878.1 L868.8 882.9 L870.1 883.9 L871.7 890.5 L872.7 888.2 L874.0 891.4 L875.3 887.9 L876.6 892.2 L877.9 889.2 L879.2 891.8 L879.9 890.0 L880.5 891.3 L881.8 883.4 L883.1 881.1 L884.4 873.5 L885.4 871.2 L887.0 870.7 L888.3 873.6 L889.6 871.8 L890.9 875.6 L892.3 874.0 L893.5 873.1 L894.8 865.1 L895.6 867.5 L897.0 849.0 L898.4 869.2 L900.0 870.5 L901.3 877.4 L902.6 877.6 L903.3 882.9 L903.9 879.8 L905.2 889.4 L906.5 886.5 L907.8 892.4 L909.1 891.2 L910.2 896.5 L911.7 891.8 L913.0 892.9 L914.3 888.3 L915.6 890.4 L917.0 886.0 L918.2 888.9 L919.5 884.5 L920.8 886.6 L922.1 884.3 L923.4 887.1 L924.7 882.6 L925.3 885.2 L926.0 882.2 L927.3 882.6 L928.6 877.4 L929.9 880.3 L931.2 875.8 L932.5 876.0 L933.5 872.4 L935.1 876.0 L936.4 874.1 L937.7 876.8 L939.0 875.1 L940.3 877.7 L941.8 875.9 L942.9 882.2 L944.2 882.1 L945.5 888.5 L947.3 890.6 L948.1 892.6 L949.4 887.9 L950.7 890.5 L952.0 886.4 L953.3 888.5 L954.6 882.9 L955.5 885.3 L957.2 881.9 L958.5 883.6 L959.8 879.6 L961.1 881.4 L962.4 876.9 L963.7 879.4 L964.3 875.5 L965.0 879.0 L966.3 878.1 L967.6 883.2 L968.9 881.0 L970.2 885.9 L972.0 884.7 L972.8 889.7 L974.1 886.7 L975.4 890.7 L976.7 888.7 L978.0 893.0 L979.3 891.6 L980.2 895.8 L981.9 890.8 L983.2 891.7 L984.5 888.1 L985.8 889.9 L987.1 884.3 L988.4 885.0 L989.7 880.5 L991.0 882.6 L992.3 878.8 L994.0 878.6 L994.9 878.9 L996.2 884.0 L997.5 884.5 L998.8 889.3 L999.5 888.4 L1000.1 891.3 L1001.4 889.4 L1002.7 894.5 L1004.0 890.1 L1005.3 895.2 L1006.6 893.0 L1007.9 898.1 L1009.2 895.5 L1010.4 899.6 L1011.8 896.1 L1013.1 899.6 L1014.4 896.8 L1015.7 899.2 L1017.0 896.5 L1018.3 898.8 L1019.6 896.5 L1020.9 900.0 L1022.2 895.9 L1023.5 900.0 L1024.8 897.5 L1026.1 900.0 L1027.4 897.2 L1028.7 900.4 L1029.7 896.7 L1031.3 897.3 L1032.6 893.5 L1033.9 894.8 L1035.2 891.0 L1036.5 892.1 L1037.9 888.6 L1039.1 891.2 L1040.4 887.8 L1041.7 891.2 L1043.0 889.7 L1044.3 892.1 L1045.6 889.8 L1046.9 891.7 L1048.2 889.9 L1049.5 892.0 L1050.8 889.5 L1052.1 892.0 L1053.4 889.6 L1054.7 892.3 L1056.0 889.9 L1057.1 893.3 L1058.6 890.2 L1059.9 893.2 L1061.2 891.4 L1062.5 893.8 L1063.8 892.2 L1065.1 895.3 L1066.4 892.2 L1067.7 895.7 L1069.0 894.1 L1070.3 896.6 L1070.9 891.5 L1071.6 897.1 L1072.9 894.8 L1074.2 896.6 L1075.5 893.5 L1076.8 897.4 L1078.1 895.1 L1079.4 897.5 L1080.7 893.9 L1082.0 899.7 L1083.3 894.5 L1084.6 899.9 L1085.9 895.2 L1087.2 897.5 L1088.5 894.6 L1089.8 900.1 L1091.1 891.9 L1092.4 896.5 L1093.7 894.1 L1095.0 896.9 L1095.6 894.7 L1096.3 896.2 L1097.6 893.1 L1098.9 895.6 L1100.2 890.1 L1101.5 891.8 L1102.8 887.7 L1104.1 888.6 L1105.4 885.0 L1106.6 887.2 L1108.0 886.0 L1109.3 890.3 L1110.6 888.4 L1111.9 892.2 L1113.2 890.6 L1114.8 895.6 L1115.8 893.5 L1117.1 896.4 L1118.4 894.3 L1119.7 897.4 L1121.0 895.0 L1122.3 900.1 L1123.6 896.1 L1124.9 898.8 L1125.8 897.2 L1127.5 899.1 L1128.8 895.2 L1130.1 898.4 L1131.4 894.8 L1132.7 896.9 L1134.0 893.8 L1135.3 896.4 L1136.8 893.1 L1137.9 893.6 L1139.2 886.6 L1140.5 888.0 L1141.8 882.4 L1143.1 882.6 L1144.4 875.5 L1145.1 877.5 L1145.7 876.6 L1147.0 881.8 L1148.3 882.1 L1149.6 887.4 L1150.5 884.5 L1152.2 890.4 L1153.5 888.6 L1154.8 894.0 L1156.1 889.8 L1157.4 892.2 L1158.7 887.8 L1160.0 887.5 L1161.3 882.6 L1162.6 883.2 L1163.9 877.4 L1165.7 878.0 L1166.5 876.8 L1167.8 880.5 L1169.1 879.4 L1170.4 885.9 L1171.7 885.0 L1172.5 887.8 L1174.3 885.2 L1175.6 887.8 L1176.9 882.8 L1178.2 886.0 L1179.5 881.5 L1180.8 884.2 L1182.1 878.8 L1183.4 878.6 L1184.7 874.6 L1186.0 873.7 L1187.6 868.1 L1188.6 872.3 L1189.9 872.5 L1191.2 877.5 L1192.5 877.1 L1193.8 883.5 L1194.5 882.2 L1195.1 885.3 L1196.4 882.4 L1197.7 886.1 L1199.0 883.3 L1200.3 885.5 L1201.6 884.0 L1202.7 887.1 L1204.2 884.9 L1205.5 889.9 L1206.8 886.4 L1208.1 891.3 L1209.4 889.5 L1211.0 893.3 L1212.0 887.8 L1213.3 888.9 L1214.6 885.7 L1215.9 886.1 L1217.2 881.0 L1218.5 883.0 L1219.2 878.8 L1219.8 884.2 L1221.1 879.3 L1222.4 882.0 L1223.7 880.5 L1225.0 883.2 L1226.1 879.0 L1227.6 880.1 L1228.9 875.1 L1230.2 876.7 L1231.5 879.7 L1232.8 887.4 L1234.3 891.7 L1235.4 893.0 L1236.7 890.3 L1238.0 892.7 L1239.3 888.6 L1240.6 891.9 L1241.9 888.3 L1243.2 890.8 L1244.5 886.9 L1245.8 889.3 L1246.7 886.0 L1248.4 889.2 L1249.7 886.7 L1251.0 889.3 L1252.3 886.3 L1253.6 889.0 L1254.9 887.1 L1256.2 889.5 L1257.5 885.8 L1258.8 889.5 L1260.1 886.6 L1261.4 889.8 L1263.2 887.1 L1264.0 889.4 L1265.3 887.4 L1266.6 889.2 L1267.9 887.2 L1269.2 889.4 L1270.5 887.7 L1271.8 890.1 L1273.1 886.9 L1274.4 890.7 L1275.7 887.0 L1276.9 890.2 L1278.3 886.3 L1279.6 890.0 L1280.9 886.5 L1282.2 887.9 L1283.5 884.7 L1285.2 887.2 L1286.1 884.9 L1287.4 887.9 L1288.7 886.9 L1290.0 890.2 L1291.3 888.7 L1292.6 891.5 L1293.4 889.7 L1295.2 892.8 L1296.5 890.0 L1297.8 891.5 L1299.1 889.4 L1300.4 891.0 L1301.7 887.8 L1302.9 890.4 L1304.3 887.4 L1305.6 892.7 L1306.9 886.3 L1308.2 889.7 L1309.5 886.7 L1310.8 888.1 L1312.1 885.0 L1313.4 890.0 L1314.7 884.2 L1316.0 887.6 L1317.3 884.9 L1318.6 886.4 L1319.9 883.1 L1321.2 886.3 L1322.5 882.3 L1323.8 885.1 L1325.1 881.3 L1326.4 884.1 L1327.7 881.6 L1329.0 882.8 L1330.4 880.4 L1331.6 884.6 L1332.9 882.1 L1334.2 887.2 L1335.5 884.8 L1336.8 890.2 L1338.1 887.3 L1339.5 892.2 L1340.7 888.8 L1342.0 891.9 L1343.3 887.5 L1344.6 890.2 L1345.9 886.8 L1347.2 889.6 L1348.5 885.9 L1349.8 888.2 L1351.1 884.5 L1352.4 887.2 L1353.7 883.8 L1355.0 886.8 L1356.3 882.8 L1357.6 885.4 L1358.9 882.3 L1360.1 885.1 L1361.5 883.1 L1362.8 886.7 L1364.1 883.5 L1365.4 886.3 L1366.7 884.7 L1368.0 888.1 L1369.3 886.8 L1370.6 889.2 L1371.6 886.7 L1373.2 890.6 L1374.5 887.3 L1375.8 890.8 L1377.1 886.9 L1378.4 892.4 L1379.7 886.1 L1381.0 889.5 L1382.3 886.8 L1383.6 890.0 L1384.9 887.8 L1386.2 890.2 L1387.5 884.9 L1388.8 890.8 L1390.1 888.3 L1391.4 891.1 L1392.7 887.9 L1394.0 891.1 L1395.3 887.5 L1396.6 890.5 L1397.9 887.0 L1399.2 890.9 L1400.5 887.3 L1401.8 890.2 L1403.1 888.4 L1404.4 890.7 L1405.7 887.4 L1407.0 891.3 L1408.3 888.5 L1409.6 892.7 L1410.9 888.4 L1412.2 890.4 L1413.5 888.8 L1414.8 891.6 L1416.1 888.7 L1417.4 891.3 L1418.7 887.3 L1420.0 892.9 L1421.3 886.9 L1422.6 889.4 L1423.9 886.8 L1425.2 889.6 L1426.5 885.9 L1427.8 889.8 L1429.1 885.5 L1430.4 888.9 L1431.7 886.5 L1433.0 888.7 L1434.3 885.9 L1435.7 888.0 L1436.9 884.6 L1438.2 889.1 L1439.5 886.3 L1440.8 889.7 L1442.1 886.1 L1443.4 890.0 L1444.7 887.8 L1446.0 890.9 L1447.3 885.5 L1448.6 893.8 L1449.9 888.1 L1451.2 892.6 L1452.5 889.0 L1453.8 893.1 L1455.1 889.3 L1456.4 892.5 L1457.7 891.0 L1458.6 894.2 L1460.3 890.1 L1461.6 894.1 L1462.9 889.6 L1464.2 893.2 L1465.5 890.2 L1466.8 892.5 L1468.1 888.9 L1469.4 892.1 L1470.7 888.7 L1472.0 891.1 L1473.3 888.9 L1474.6 891.9 L1475.9 887.2 L1477.2 891.4 L1478.5 887.2 L1479.8 889.7 L1481.1 887.0 L1482.4 890.1 L1483.7 886.2 L1485.0 888.8 L1486.0 886.1 L1487.6 888.5 L1488.9 885.7 L1490.2 889.9 L1491.5 886.9 L1492.8 889.8 L1494.1 886.9 L1495.4 889.6 L1496.7 887.0 L1498.0 890.8 L1499.3 884.8 L1500.6 889.9 L1501.9 888.3 L1503.2 891.1 L1504.5 887.1 L1505.8 890.1 L1507.1 888.0 L1508.4 890.6 L1509.7 888.0 L1511.0 891.6 L1512.3 886.9 L1513.6 890.6 L1514.9 888.5 L1516.2 891.3 L1517.5 888.3 L1518.8 890.9 L1520.1 889.1 L1521.4 891.4 L1522.7 889.7 L1524.0 892.5 L1525.3 889.1 L1526.6 892.9 L1527.3 889.3 L1527.9 891.9 L1529.2 887.1 L1530.5 889.0 L1531.8 883.7 L1533.1 884.6 L1534.4 880.1 L1535.7 884.4 L1537.0 878.6 L1538.7 877.8 L1539.6 877.3 L1540.9 882.1 L1542.2 880.3 L1543.5 885.1 L1544.8 883.6 L1546.1 888.5 L1547.9 887.5 L1548.7 890.3 L1550.0 886.8 L1551.3 890.6 L1552.6 888.4 L1553.9 891.6 L1555.2 887.6 L1556.5 891.2 L1557.8 889.4 L1559.1 891.7 L1560.4 889.6 L1561.7 892.8 L1563.0 889.4 L1564.3 892.5 L1565.6 890.0 L1566.9 893.4 L1568.2 890.1 L1569.5 894.0 L1570.8 891.1 L1572.1 894.2 L1573.0 891.6 L1574.7 892.9 L1576.0 889.5 L1577.3 893.4 L1578.6 887.6 L1579.9 891.6 L1581.2 888.5 L1582.5 892.9 L1583.8 889.0 L1585.1 891.9 L1586.4 887.4 L1587.7 891.5 L1589.0 888.2 L1590.3 890.5 L1591.4 887.1 L1592.9 890.2 L1594.2 888.5 L1595.5 892.5 L1596.8 889.0 L1598.1 892.0 L1599.4 889.7 L1600.7 894.3 L1602.0 890.5 L1603.3 894.5 L1604.6 892.8 L1605.9 895.3 L1607.2 893.7 L1608.5 896.2 L1609.7 894.8 L1611.1 896.8 L1612.4 892.9 L1613.7 893.9 L1615.0 891.8 L1616.3 893.7 L1617.6 889.8 L1618.9 890.8 L1619.7 886.5 L1621.5 893.4 L1622.8 889.9 L1624.1 893.7 L1625.4 891.6 L1626.7 894.7 L1628.0 893.7 L1629.3 896.8 L1630.6 895.6 L1631.9 898.6 L1632.6 897.1 L1633.2 898.8 L1634.5 896.6 L1635.8 900.2 L1637.1 896.1 L1638.4 899.2 L1639.7 897.1 L1641.0 899.1 L1642.3 896.3 L1643.6 899.6 L1644.9 896.7 L1646.2 899.0 L1647.5 897.0 L1648.8 900.7 L1650.1 897.3 L1651.4 901.0 L1652.7 897.4 L1654.0 901.5 L1655.3 896.8 L1656.6 899.8 L1657.9 897.5 L1659.2 900.8 L1660.5 896.5 L1661.8 901.2 L1663.1 898.2 L1664.4 900.0 L1665.7 897.4 L1667.0 901.7 L1668.3 897.5 L1669.6 900.5 L1670.9 898.3 L1672.2 901.0 L1673.5 896.8 L1674.8 900.4 L1676.1 897.5 L1677.4 900.5 L1678.7 898.1 L1680.0 900.8 L1681.3 898.8 L1682.6 901.4 L1683.9 896.9 L1685.2 902.1 L1686.5 899.1 L1687.8 901.1 L1689.1 897.9 L1690.4 902.0 L1692.1 897.9 L1693.0 901.9 L1694.3 898.2 L1695.6 901.4 L1696.9 898.9 L1698.2 901.6 L1699.5 898.5 L1700.8 902.1 L1702.1 899.7 L1703.4 901.5 L1704.7 899.1 L1706.0 901.7 L1707.3 899.5 L1708.6 901.7 L1709.9 899.7 L1711.2 902.9 L1712.5 899.8 L1713.8 902.6 L1715.1 899.4 L1716.4 902.1 L1717.7 897.7 L1719.0 903.0 L1720.3 899.7 L1721.6 903.5 L1722.9 898.0 L1724.2 903.4 L1725.5 899.9 L1726.8 903.5 L1728.1 899.9 L1729.4 902.9 L1730.7 899.9 L1732.0 903.0 L1733.3 900.0 L1734.6 904.2 L1735.9 901.3 L1737.2 903.5 L1737.9 901.0 L1738.5 903.2 L1739.8 900.8 L1741.1 903.3 L1742.4 900.9 L1743.7 904.6 L1745.0 901.0 L1746.3 904.2 L1747.6 901.0 L1748.9 905.1 L1750.2 901.3 L1751.5 904.6 L1752.8 901.3 L1754.1 905.3 L1755.4 902.5 L1756.7 904.3 L1758.0 902.2 L1759.3 906.0 L1760.6 902.0 L1761.9 907.8 L1763.2 902.3 L1764.5 904.7 L1765.8 903.0 L1767.1 905.5 L1768.4 903.2 L1769.7 905.4 L1771.0 903.1 L1772.3 905.8 L1773.6 903.4 L1774.5 906.7 L1776.2 902.7 L1777.5 906.8 L1778.8 903.2 L1780.1 906.0 L1781.4 902.6 L1782.7 906.2 L1784.0 903.9 L1785.3 907.0 L1786.6 903.1 L1787.9 906.4 L1789.2 903.7 L1790.5 906.9 L1791.8 903.4 L1793.1 906.7 L1794.4 902.8 L1795.7 905.6 L1797.0 901.4 L1798.3 905.4 L1799.6 902.7 L1800.9 906.5 L1802.2 903.1 L1803.5 905.9 L1804.8 903.4 L1806.1 906.4 L1807.4 903.8 L1808.7 906.6 L1810.0 903.3 L1811.3 905.8 L1812.6 902.0 L1813.9 905.5 L1815.2 903.5 L1816.5 906.6 L1817.8 903.8 L1819.1 907.0 L1820.3 903.1 L1821.7 906.1 L1823.0 901.6 L1824.3 905.1 L1825.6 901.0 L1826.9 903.7 L1828.2 900.2 L1829.5 902.7 L1830.8 899.7 L1831.7 901.9 L1833.4 898.5 L1834.7 902.6 L1836.0 900.8 L1837.3 903.6 L1838.6 901.3 L1839.9 904.8 L1841.2 902.6 L1842.5 905.7 L1843.8 902.1 L1845.5 906.3 L1846.4 902.9 L1847.7 905.0 L1849.0 902.4 L1850.3 905.2 L1851.6 900.7 L1852.9 903.7 L1854.2 900.1 L1855.5 902.9 L1856.8 900.2 L1858.1 901.3 L1859.4 899.4 L1860.7 900.5 L1862.0 898.0 L1863.3 900.1 L1864.6 896.3 L1866.1 899.3 L1867.2 895.6 L1868.5 898.7 L1869.8 895.9 L1871.1 899.4 L1872.4 897.2 L1873.7 899.2 L1875.0 897.4 L1876.3 900.3 L1877.6 897.1 L1878.9 899.7 L1879.8 897.1 L1881.5 899.0 L1882.8 895.8 L1884.1 898.0 L1885.4 895.0 L1886.7 896.7 L1888.0 893.3 L1889.0 895.4 L1890.6 893.2 L1891.9 897.5 L1893.2 895.3 L1894.5 899.9 L1895.8 895.6 L1897.1 902.0 L1898.4 897.9 L1899.7 904.5 L1900.4 901.8 L1901.0 903.5 L1902.3 900.3 L1903.6 900.3 L1904.9 894.3 L1906.2 898.5 L1907.5 893.7 L1908.8 895.4 L1910.1 890.5 L1911.0 893.0 L1912.7 891.2 L1914.0 894.5 L1915.3 891.3 L1916.6 894.6 L1917.9 893.4 L1919.2 896.3 L1920.5 893.4 L1921.0 896.6 L1921.8 894.1 L1923.1 898.2 L1924.4 895.4 L1925.7 898.9 L1927.0 896.7 L1928.3 901.3 L1929.6 898.3 L1930.9 902.1 L1932.2 899.4 L1933.5 903.3 L1934.8 900.7 L1936.1 905.4 L1937.4 901.6 L1938.7 905.8 L1939.3 901.0 L1940.0 905.3 L1941.3 902.4 L1942.6 903.6 L1943.9 900.5 L1945.2 903.0 L1946.5 898.7 L1947.8 900.9 L1949.1 896.9 L1950.4 899.2 L1951.7 895.3 L1953.1 896.2 L1954.3 893.5 L1955.6 896.6 L1956.9 894.0 L1958.2 897.7 L1959.5 895.2 L1960.8 898.2 L1962.1 894.9 L1963.4 898.8 L1964.7 894.7 L1966.0 898.5 L1967.3 896.1 L1968.6 898.3 L1969.9 895.5 L1971.2 898.4 L1972.5 896.1 L1973.8 899.3 L1975.1 895.6 L1976.4 899.2 L1977.7 896.3 L1979.0 899.0 L1980.3 896.5 L1981.6 899.5 L1982.9 897.8 L1984.2 900.0 L1985.1 896.7 L1986.8 901.7 L1988.1 894.5 L1989.4 896.8 L1990.7 894.1 L1992.0 896.0 L1993.3 891.2 L1994.6 894.2 L1995.9 890.3 L1996.6 892.8 L1997.2 890.0 L1998.5 894.8 L1999.8 892.9 L2001.1 896.9 L2002.4 896.0 L2003.7 898.7 L2005.0 897.3 L2005.7 901.8 L2006.3 897.8 L2007.6 900.0 L2008.9 897.3 L2010.2 898.2 L2011.5 894.9 L2012.8 896.7 L2014.1 894.2 L2015.4 896.0 L2017.2 891.8 L2018.0 894.7 L2019.3 890.4 L2020.6 895.9 L2021.9 894.3 L2023.2 898.7 L2024.5 896.3 L2025.8 899.7 L2027.1 897.7 L2028.4 900.9 L2029.7 896.6 L2031.0 901.7 L2032.3 900.0 L2033.6 904.7 L2034.9 901.6 L2035.5 904.3 L2036.2 901.3 L2037.5 903.1 L2038.8 901.4 L2040.1 902.3 L2041.4 899.7 L2042.7 901.3 L2044.0 898.9 L2045.3 901.4 L2046.6 896.4 L2047.9 899.8 L2049.2 895.3 L2050.5 898.8 L2051.8 895.6 L2053.1 897.8 L2053.8 894.2 L2054.4 896.9 L2055.7 894.6 L2057.0 898.7 L2058.3 896.9 L2059.6 900.3 L2060.9 896.5 L2062.2 900.8 L2063.5 897.8 L2064.8 901.6 L2066.1 899.3 L2067.5 903.7 L2068.7 899.5 L2070.0 902.6 L2071.3 900.6 L2072.6 903.0 L2073.9 900.1 L2075.2 904.0 L2076.5 899.9 L2077.8 903.3 L2079.1 899.8 L2080.4 903.7 L2081.7 901.5 L2083.0 903.9 L2084.3 901.5 L2085.6 904.2 L2086.9 901.4 L2088.2 904.0 L2089.5 901.4 L2090.8 904.5 L2092.1 902.1 L2093.4 903.7 L2094.7 901.9 L2096.0 904.0 L2097.3 902.4 L2098.6 904.5 L2099.9 901.4 L2101.2 903.9 L2102.5 902.2 L2104.2 904.2 L2105.1 901.6 L2106.4 904.4 L2107.7 900.5 L2109.0 904.1 L2110.3 901.5 L2111.6 904.1 L2112.9 901.5 L2114.2 904.5 L2115.5 902.0 L2116.8 905.6 L2118.1 902.5 L2119.4 904.3 L2120.7 901.2 L2122.0 904.7 L2123.3 901.9 L2124.6 905.2 L2125.9 901.3 L2127.2 905.4 L2128.5 902.5 L2129.8 905.4 L2131.1 901.8 L2132.4 905.3 L2133.7 902.1 L2135.0 904.1 L2136.3 901.0 L2137.6 904.1 L2138.9 901.4 L2140.2 905.5 L2141.5 902.6 L2142.8 904.7 L2144.1 899.9 L2145.4 905.3 L2146.7 902.3 L2148.0 904.7 L2149.3 902.7 L2150.0 904.3 L2150.6 901.4 L2151.9 904.6 L2153.2 899.8 L2154.5 903.9 L2155.8 901.0 L2157.1 904.6 L2158.4 901.6 L2159.7 903.9 L2161.0 899.2 L2162.3 903.8 L2163.6 902.0 L2164.9 904.1 L2166.2 901.3 L2167.5 905.6 L2168.8 902.1 L2170.1 904.5 L2171.4 900.4 L2172.7 904.6 L2174.0 901.5 L2175.3 904.5 L2176.6 901.0 L2177.4 903.2 L2179.2 901.2 L2180.5 904.6 L2181.8 901.7 L2183.1 904.0 L2184.4 901.2 L2185.7 904.9 L2187.0 902.5 L2188.3 905.1 L2189.6 903.0 L2190.9 906.1 L2192.2 902.5 L2193.5 906.8 L2194.8 904.4 L2195.8 905.8 L2197.4 903.7 L2198.7 906.3 L2200.0 904.0 L2201.3 905.9 L2202.6 903.6 L2203.9 906.1 L2205.2 902.8 L2206.5 907.2 L2207.8 903.1 L2209.1 906.3 L2210.4 903.6 L2211.7 907.0 L2213.0 904.2 L2214.3 906.3 L2215.6 904.1 L2216.9 905.9 L2218.2 903.5 L2219.5 906.0 L2220.8 902.5 L2222.1 905.6 L2223.4 903.6 L2224.7 905.2 L2226.0 900.6 L2227.3 905.5 L2228.6 903.9 L2229.9 906.1 L2231.2 903.1 L2232.5 906.4 L2233.8 903.7 L2235.1 906.5 L2236.4 903.7 L2237.7 905.1 L2239.0 902.4 L2240.3 905.6 L2241.5 902.2 L2242.9 904.8 L2244.2 902.6 L2245.5 906.4 L2246.8 901.8 L2248.1 905.3 L2249.4 902.3 L2250.7 905.9 L2252.0 902.0 L2253.3 906.0 L2254.6 902.0 L2255.9 905.8 L2257.2 902.7 L2258.5 905.5 L2259.8 902.1 L2261.1 904.5 L2262.4 902.1 L2263.7 905.1 L2264.4 901.6 L2265.0 905.1 L2266.3 902.7 L2267.6 905.1 L2268.9 901.5 L2270.2 905.0 L2271.5 901.6 L2272.0 904.6" fill="none" stroke="#0000ff" stroke-width="4.8" stroke-linejoin="round" stroke-linecap="butt"/>
<path d="M216.2 923.8 L217.9 986.1 L218.8 1006.3 L220.2 1046.7 L221.4 1057.6 L222.7 1075.2 L223.8 1086.9 L225.3 1092.4 L226.6 1090.5 L227.9 1095.7 L228.6 1094.3 L229.2 1097.3 L230.5 1093.1 L231.8 1094.1 L233.1 1090.0 L234.4 1090.1 L235.7 1085.9 L237.0 1087.6 L238.1 1083.7 L239.6 1083.7 L240.9 1077.2 L242.2 1076.7 L243.5 1071.2 L244.0 1071.6 L244.8 1062.8 L246.4 1055.8 L247.4 1044.1 L248.3 1037.3 L249.5 1055.7 L250.5 1076.8 L251.3 1074.5 L252.6 1078.9 L253.6 1077.3 L255.2 1076.6 L256.5 1070.6 L257.8 1070.8 L258.3 1067.2 L259.1 1068.4 L260.4 1057.1 L261.7 1055.7 L263.1 1045.2 L264.3 1029.9 L265.5 1006.8 L266.4 975.3 L267.4 939.1 L268.6 921.8 L269.5 939.0 L270.2 1033.4 L271.0 939.6 L271.7 1043.6 L272.4 940.4 L273.1 1034.2 L273.8 940.5 L274.5 1024.9 L275.2 940.4 L276.0 964.0 L276.4 987.7 L276.9 1024.8 L277.4 1050.6 L277.9 1081.9 L278.6 1081.5 L279.8 1088.8 L281.2 1083.7 L282.5 1086.7 L283.8 1082.9 L285.1 1085.1 L286.4 1081.5 L288.1 1083.5 L289.0 1078.9 L290.3 1078.1 L291.6 1071.6 L293.3 1070.4 L294.2 1060.3 L295.2 1054.0 L297.1 1031.9 L298.3 1058.4 L299.5 1078.8 L300.7 1086.8 L302.4 1090.6 L303.3 1094.2 L304.6 1090.8 L305.9 1093.2 L307.2 1089.8 L308.3 1090.8 L309.8 1080.1 L311.1 1076.1 L312.4 1065.8 L313.7 1083.3 L314.8 1091.8 L316.3 1099.1 L317.1 1101.1 L318.9 1101.3 L320.2 1096.0 L321.5 1096.6 L322.8 1092.7 L323.8 1094.3 L325.4 1089.0 L326.7 1090.1 L328.0 1085.9 L329.8 1086.9 L330.6 1079.6 L331.9 1075.4 L333.3 1062.6 L334.5 1060.2 L336.2 1048.3 L337.4 1068.5 L338.6 1083.8 L339.7 1082.5 L341.0 1076.1 L341.7 1077.2 L342.3 1065.6 L343.3 1055.0 L344.8 1031.9 L345.7 1011.1 L346.4 983.3 L347.5 967.4 L348.3 948.7 L349.5 967.3 L350.5 983.1 L351.0 1021.5 L351.4 1055.2 L352.4 1101.3 L354.0 1102.0 L355.3 1107.4 L356.0 1104.8 L356.6 1107.5 L357.9 1102.5 L359.2 1104.5 L360.5 1098.5 L361.8 1101.0 L363.1 1095.5 L364.4 1089.3 L366.0 1076.9 L367.0 1071.8 L367.9 1063.5 L368.8 1083.7 L369.5 1098.3 L370.9 1098.1 L372.2 1093.8 L373.3 1094.6 L374.8 1075.1 L376.1 1063.9 L376.7 1055.6 L377.4 1052.8 L378.7 1038.4 L379.8 1032.5 L380.7 1048.1 L381.4 1070.8 L382.1 1087.8 L382.9 1110.7 L383.9 1109.5 L385.2 1116.4 L386.5 1115.1 L388.1 1122.6 L389.1 1118.3 L390.4 1120.0 L391.7 1116.3 L393.0 1119.0 L394.3 1114.5 L395.2 1116.1 L396.9 1115.2 L398.2 1118.0 L399.5 1115.5 L400.8 1120.0 L402.1 1117.6 L403.4 1123.1 L404.8 1117.6 L406.0 1122.0 L407.3 1120.1 L408.6 1125.3 L409.9 1122.3 L411.2 1126.4 L412.5 1124.3 L414.3 1130.0 L415.1 1126.7 L416.4 1129.5 L417.7 1127.9 L419.0 1130.2 L420.3 1128.5 L421.6 1133.7 L422.9 1127.7 L424.2 1131.9 L425.5 1128.1 L426.2 1132.3 L426.8 1128.8 L428.1 1132.2 L429.4 1130.0 L430.7 1132.3 L432.0 1129.5 L433.3 1132.2 L434.6 1129.6 L435.9 1132.6 L437.2 1130.3 L438.1 1135.4 L439.8 1126.8 L441.1 1131.0 L442.4 1127.5 L443.7 1130.4 L445.2 1126.3 L446.3 1132.2 L447.6 1131.0 L448.8 1137.4 L450.2 1133.3 L451.5 1137.1 L452.8 1134.0 L454.1 1136.8 L455.4 1133.7 L456.7 1136.6 L458.0 1135.1 L459.3 1137.9 L460.6 1134.2 L461.9 1137.6 L463.2 1133.4 L464.5 1136.7 L465.8 1131.9 L467.1 1134.2 L468.4 1130.6 L469.7 1134.1 L470.2 1129.0 L471.0 1128.8 L472.3 1122.4 L473.6 1120.5 L474.9 1113.0 L476.2 1111.0 L476.2 1108.5 L477.5 1114.2 L478.8 1115.4 L479.8 1119.2 L481.4 1111.2 L482.7 1109.0 L483.3 1102.3 L484.0 1092.4 L484.5 1079.8 L485.7 1058.9 L486.6 1040.4 L487.9 1023.1 L488.6 1008.4 L489.5 1045.6 L490.5 1076.7 L491.8 1104.5 L492.4 1112.5 L493.1 1106.6 L494.4 1086.0 L496.0 1068.8 L497.1 1083.4 L498.3 1106.4 L499.6 1114.3 L500.5 1128.6 L502.2 1112.6 L503.6 1106.5 L504.8 1085.1 L506.0 1071.7 L507.4 1046.6 L508.3 1033.7 L510.0 1054.0 L510.7 1068.4 L511.7 1036.1 L512.4 1011.2 L513.3 955.4 L514.3 909.7 L515.2 905.6 L516.5 911.5 L517.1 909.4 L517.9 949.4 L518.6 984.0 L519.5 1038.5 L520.4 1053.8 L521.4 1079.9 L523.0 1063.4 L523.8 1058.5 L525.7 1078.4 L526.9 1105.2 L528.1 1126.7 L529.5 1136.6 L531.0 1140.5 L532.1 1143.9 L533.4 1140.1 L534.7 1142.1 L536.0 1139.8 L537.3 1141.4 L538.1 1138.2 L539.9 1129.9 L541.2 1118.8 L542.4 1114.4 L543.8 1112.6 L545.1 1117.6 L546.4 1115.5 L547.7 1110.0 L549.0 1099.1 L550.0 1094.9 L551.4 1110.1 L552.9 1128.7 L554.2 1130.7 L555.5 1137.6 L557.1 1140.8 L558.1 1141.1 L559.4 1134.6 L560.7 1134.1 L562.0 1127.2 L563.1 1126.3 L564.6 1114.8 L565.9 1109.6 L566.7 1103.2 L567.2 1088.6 L567.9 1065.3 L568.5 1048.3 L569.0 1027.1 L570.2 1055.3 L571.4 1079.0 L572.4 1115.0 L573.3 1146.2 L575.0 1150.6 L576.3 1150.2 L577.6 1154.7 L578.6 1153.9 L580.2 1159.2 L581.5 1155.1 L582.8 1157.8 L584.1 1154.5 L585.4 1156.8 L586.7 1154.2 L588.0 1157.8 L589.3 1154.8 L590.5 1158.8 L591.9 1155.7 L593.2 1160.0 L594.5 1155.6 L595.8 1160.4 L597.1 1156.0 L598.4 1159.7 L600.0 1156.8 L601.0 1158.7 L602.3 1154.0 L603.6 1155.2 L604.9 1151.0 L606.2 1152.6 L607.5 1146.7 L608.8 1149.7 L609.5 1145.6 L610.1 1148.3 L611.4 1147.8 L612.7 1151.6 L614.0 1149.6 L615.5 1153.5 L616.6 1153.6 L617.9 1163.1 L619.2 1161.1 L620.2 1167.5 L621.8 1163.4 L623.1 1164.8 L624.4 1161.0 L625.7 1161.6 L627.0 1157.7 L628.6 1159.4 L629.6 1158.6 L630.9 1163.3 L632.2 1161.4 L633.5 1166.9 L634.5 1166.3 L636.1 1168.6 L637.4 1166.2 L638.7 1168.9 L640.0 1166.6 L641.3 1169.8 L642.6 1165.9 L643.9 1168.7 L645.2 1167.5 L646.5 1171.9 L647.8 1165.2 L649.1 1169.3 L650.4 1166.2 L651.7 1169.5 L652.4 1166.7 L653.0 1169.5 L654.3 1168.4 L655.6 1170.6 L656.9 1168.6 L658.2 1171.9 L659.5 1169.5 L660.8 1172.8 L662.1 1169.3 L663.4 1173.4 L664.3 1170.0 L666.0 1174.1 L667.3 1171.7 L668.6 1173.5 L669.9 1170.8 L671.2 1174.2 L672.5 1171.1 L673.8 1174.2 L675.1 1171.1 L676.2 1175.5 L677.7 1170.3 L679.0 1174.0 L680.3 1169.3 L681.6 1172.1 L682.9 1168.0 L684.2 1171.1 L685.5 1167.0 L686.9 1171.1 L688.1 1166.0 L689.4 1169.0 L690.7 1166.3 L692.0 1170.1 L693.3 1167.1 L694.6 1171.5 L695.9 1166.6 L697.2 1171.6 L698.5 1169.5 L700.0 1172.1 L701.1 1169.1 L702.4 1172.5 L703.7 1168.8 L705.0 1172.9 L706.3 1168.8 L707.6 1172.0 L708.9 1168.5 L710.2 1172.2 L711.5 1169.3 L712.8 1171.1 L714.1 1169.3 L715.4 1174.1 L716.7 1168.9 L718.0 1173.5 L719.2 1169.0 L720.6 1172.3 L721.9 1169.5 L723.2 1172.1 L724.5 1169.4 L725.8 1172.5 L727.1 1171.2 L728.4 1173.1 L729.7 1170.9 L731.0 1173.8 L732.3 1170.6 L733.6 1175.0 L734.9 1172.0 L736.2 1175.3 L737.5 1173.7 L738.8 1175.5 L740.1 1173.9 L741.2 1177.5 L742.7 1174.5 L744.0 1176.8 L745.3 1174.7 L746.6 1177.1 L747.9 1173.4 L749.2 1177.4 L750.5 1174.1 L751.8 1177.5 L753.1 1174.6 L754.4 1176.7 L755.7 1173.9 L757.0 1176.6 L758.3 1174.4 L759.6 1176.4 L760.9 1173.1 L762.2 1177.5 L763.5 1173.2 L764.8 1176.2 L765.9 1173.2 L767.4 1175.6 L768.7 1170.9 L770.0 1172.7 L771.3 1167.6 L772.6 1169.0 L773.9 1166.2 L775.0 1166.5 L776.5 1168.1 L777.8 1174.0 L779.1 1173.1 L780.4 1179.1 L781.0 1178.9 L781.7 1181.1 L783.0 1178.1 L784.3 1180.7 L785.6 1178.6 L786.9 1181.7 L787.9 1177.6 L789.5 1175.5 L790.8 1169.2 L792.6 1167.3 L793.4 1168.0 L794.7 1175.3 L796.2 1178.2 L797.3 1181.7 L798.6 1177.6 L799.9 1180.9 L801.2 1178.7 L802.5 1181.4 L803.8 1177.3 L805.1 1180.9 L806.4 1178.8 L807.1 1181.0 L807.7 1177.4 L809.0 1179.4 L810.3 1175.6 L811.6 1176.9 L812.9 1173.5 L814.2 1175.0 L815.4 1171.5 L816.8 1172.6 L818.1 1169.3 L819.4 1169.3 L820.7 1166.4 L822.0 1166.7 L823.6 1163.4 L824.6 1167.6 L825.9 1166.8 L827.2 1170.4 L827.7 1168.7 L828.5 1164.0 L829.8 1148.7 L831.1 1138.7 L831.9 1126.9 L832.4 1125.5 L833.7 1110.8 L835.2 1101.7 L836.3 1113.4 L837.9 1138.8 L838.9 1150.9 L840.1 1176.0 L841.5 1171.6 L842.8 1172.3 L844.1 1165.1 L845.6 1166.7 L846.7 1165.1 L848.0 1168.5 L849.3 1166.9 L850.6 1172.5 L851.9 1169.8 L852.5 1173.7 L853.2 1171.7 L854.5 1175.9 L855.8 1174.5 L857.1 1179.4 L858.4 1176.8 L859.3 1181.9 L861.0 1175.4 L862.3 1177.5 L863.6 1168.6 L864.9 1168.8 L866.2 1162.9 L867.5 1169.7 L868.8 1168.8 L870.1 1175.2 L871.7 1177.1 L872.7 1177.5 L874.0 1171.9 L875.3 1172.7 L875.8 1168.2 L876.6 1174.1 L877.9 1173.9 L879.2 1180.0 L880.5 1180.6 L881.8 1182.0 L883.1 1176.8 L884.4 1177.1 L885.7 1171.0 L886.8 1172.6 L888.3 1168.3 L889.6 1169.8 L890.9 1165.1 L892.3 1167.6 L893.5 1158.3 L894.8 1153.2 L895.6 1146.5 L897.4 1159.9 L899.2 1169.1 L900.0 1170.9 L901.3 1168.7 L902.6 1170.4 L903.9 1167.5 L904.7 1169.7 L905.2 1167.6 L906.5 1172.1 L907.8 1171.0 L909.1 1175.7 L910.2 1173.3 L911.7 1173.1 L913.0 1166.7 L914.3 1166.8 L915.7 1159.5 L916.9 1155.4 L918.2 1142.5 L919.2 1137.6 L920.8 1121.4 L922.0 1114.1 L923.4 1124.6 L924.7 1141.4 L926.0 1150.3 L927.5 1167.8 L928.6 1164.9 L929.9 1166.4 L931.2 1162.3 L932.7 1162.3 L933.8 1163.0 L935.1 1170.5 L936.3 1170.4 L937.7 1173.7 L939.0 1168.4 L940.3 1168.8 L941.8 1164.4 L942.9 1170.9 L944.2 1170.0 L945.9 1179.0 L946.8 1177.1 L948.1 1183.4 L949.4 1178.8 L950.7 1183.5 L952.0 1182.1 L953.3 1187.9 L954.6 1185.2 L955.5 1188.4 L957.2 1185.2 L958.5 1187.9 L959.8 1183.5 L961.1 1186.0 L962.4 1182.2 L963.7 1184.7 L965.0 1180.0 L966.5 1183.2 L967.6 1179.6 L968.9 1183.0 L970.2 1179.9 L971.5 1182.7 L972.8 1180.0 L974.1 1182.7 L975.4 1178.9 L976.1 1183.4 L976.7 1179.6 L978.0 1182.9 L979.3 1181.8 L980.6 1184.2 L981.9 1182.2 L983.2 1185.9 L984.5 1184.0 L985.8 1188.3 L987.1 1186.3 L988.5 1189.1 L989.7 1185.6 L991.0 1189.8 L992.3 1185.1 L993.6 1189.4 L994.9 1185.2 L996.2 1188.5 L997.5 1186.3 L998.8 1188.9 L1000.1 1185.6 L1001.4 1189.2 L1002.7 1184.9 L1004.0 1188.9 L1005.3 1185.2 L1006.6 1188.1 L1007.9 1184.9 L1009.2 1188.2 L1010.4 1184.8 L1011.8 1180.3 L1013.1 1170.2 L1014.6 1165.1 L1015.7 1158.5 L1017.3 1153.4 L1018.3 1156.2 L1019.6 1165.5 L1020.9 1168.0 L1022.2 1175.0 L1023.5 1175.4 L1024.8 1180.8 L1026.1 1180.8 L1026.9 1185.8 L1028.7 1184.2 L1030.0 1187.1 L1031.3 1184.0 L1032.6 1186.8 L1033.9 1183.9 L1035.2 1186.8 L1036.5 1183.3 L1037.9 1187.1 L1039.1 1183.0 L1040.4 1185.9 L1041.7 1183.7 L1043.0 1186.3 L1044.3 1182.2 L1045.6 1185.4 L1046.9 1182.3 L1048.2 1185.6 L1049.5 1182.1 L1050.8 1184.5 L1051.6 1182.1 L1053.4 1185.0 L1054.7 1183.8 L1056.0 1186.7 L1057.3 1184.7 L1058.6 1188.2 L1059.9 1185.6 L1061.2 1187.8 L1062.5 1185.6 L1063.8 1190.0 L1065.1 1187.0 L1066.4 1192.4 L1067.7 1186.1 L1069.0 1190.9 L1070.3 1186.7 L1070.9 1192.7 L1071.6 1188.9 L1072.9 1191.9 L1074.2 1188.0 L1075.5 1191.0 L1076.8 1188.3 L1078.1 1191.4 L1079.4 1188.2 L1080.7 1190.8 L1082.0 1188.3 L1083.3 1190.3 L1084.6 1186.3 L1085.9 1190.9 L1087.2 1187.4 L1088.5 1190.5 L1090.1 1187.4 L1091.1 1190.4 L1092.4 1186.0 L1093.7 1188.2 L1095.0 1185.2 L1096.3 1187.7 L1097.6 1184.8 L1098.9 1186.4 L1100.2 1182.3 L1101.5 1184.7 L1102.8 1181.3 L1104.1 1183.4 L1105.2 1180.9 L1106.7 1184.9 L1108.0 1182.0 L1109.3 1187.3 L1110.6 1183.8 L1111.9 1188.9 L1113.2 1186.2 L1114.8 1191.3 L1115.8 1187.4 L1117.1 1190.4 L1118.4 1186.9 L1119.7 1191.1 L1121.0 1188.4 L1122.3 1190.3 L1123.6 1187.4 L1124.9 1190.6 L1126.2 1187.6 L1127.5 1190.3 L1128.8 1187.2 L1130.1 1190.9 L1131.4 1186.8 L1132.7 1190.8 L1134.0 1187.2 L1135.3 1190.6 L1136.8 1187.1 L1137.9 1189.8 L1139.2 1181.4 L1140.5 1181.8 L1141.8 1176.1 L1143.1 1175.6 L1143.7 1171.9 L1144.4 1176.0 L1145.7 1175.4 L1147.0 1182.4 L1148.3 1183.1 L1149.2 1187.3 L1150.9 1184.2 L1152.2 1188.5 L1153.5 1186.7 L1154.8 1189.6 L1156.0 1187.0 L1157.4 1189.2 L1158.7 1184.0 L1160.0 1185.6 L1161.3 1180.7 L1162.6 1182.2 L1164.3 1176.9 L1165.2 1182.4 L1166.5 1177.9 L1167.8 1183.0 L1169.1 1181.0 L1170.4 1183.7 L1171.2 1181.7 L1171.7 1184.2 L1173.0 1180.9 L1174.3 1182.1 L1175.6 1177.8 L1176.9 1180.1 L1178.2 1174.7 L1179.4 1177.5 L1180.8 1172.9 L1182.1 1174.4 L1183.4 1169.6 L1184.7 1170.9 L1186.0 1166.7 L1187.6 1168.3 L1188.6 1167.5 L1189.9 1171.7 L1191.2 1170.0 L1192.5 1177.5 L1193.8 1173.9 L1195.1 1179.3 L1195.9 1175.9 L1196.4 1177.5 L1197.7 1171.0 L1199.0 1171.0 L1200.3 1164.6 L1201.4 1164.3 L1202.9 1167.7 L1204.2 1174.3 L1205.5 1176.5 L1206.9 1184.4 L1208.1 1181.1 L1209.4 1183.7 L1210.7 1180.1 L1212.0 1183.3 L1213.7 1179.9 L1214.6 1182.3 L1215.9 1177.9 L1217.2 1181.6 L1218.5 1178.3 L1219.8 1181.8 L1221.1 1178.7 L1222.4 1180.2 L1223.7 1177.0 L1225.0 1180.1 L1226.3 1176.4 L1227.6 1180.4 L1228.8 1177.5 L1230.2 1182.8 L1231.5 1183.9 L1232.8 1190.0 L1234.3 1192.4 L1235.4 1194.2 L1236.7 1191.2 L1238.0 1195.4 L1239.3 1191.3 L1240.6 1195.0 L1241.9 1191.0 L1243.2 1193.2 L1244.5 1190.2 L1245.8 1192.1 L1247.1 1189.7 L1248.4 1192.7 L1249.5 1189.3 L1251.0 1189.3 L1252.3 1184.2 L1253.6 1185.4 L1254.9 1180.4 L1256.2 1180.6 L1257.5 1175.6 L1258.2 1176.2 L1258.8 1175.4 L1260.1 1182.2 L1261.4 1183.5 L1263.2 1190.7 L1264.0 1188.0 L1265.3 1190.9 L1266.6 1186.9 L1267.9 1189.9 L1269.2 1187.6 L1270.5 1189.7 L1271.8 1185.6 L1273.1 1191.4 L1274.4 1187.6 L1275.5 1190.7 L1277.0 1185.7 L1278.3 1187.5 L1279.6 1183.8 L1280.9 1185.3 L1282.4 1180.4 L1283.5 1184.5 L1284.8 1182.5 L1286.1 1185.6 L1287.4 1184.5 L1288.7 1187.5 L1290.0 1185.3 L1291.3 1188.5 L1292.6 1186.5 L1293.4 1189.7 L1295.2 1187.6 L1296.5 1190.1 L1297.8 1188.8 L1298.3 1190.3 L1299.1 1188.0 L1300.4 1189.9 L1301.7 1187.3 L1303.0 1189.3 L1304.3 1186.7 L1305.6 1189.3 L1306.9 1185.1 L1308.2 1187.8 L1309.5 1184.9 L1310.8 1186.5 L1312.1 1184.1 L1313.4 1186.5 L1314.7 1183.5 L1316.0 1185.6 L1316.6 1183.2 L1317.3 1184.9 L1318.6 1180.3 L1319.9 1182.5 L1321.2 1177.7 L1322.5 1179.0 L1323.8 1174.6 L1325.1 1175.9 L1325.8 1172.8 L1326.4 1176.0 L1327.7 1174.1 L1329.0 1179.5 L1330.3 1178.2 L1331.6 1182.3 L1332.9 1180.8 L1334.2 1185.3 L1335.5 1183.9 L1336.8 1191.3 L1338.1 1187.1 L1339.5 1191.8 L1340.7 1189.6 L1342.0 1192.7 L1343.3 1189.6 L1344.6 1192.4 L1345.9 1188.4 L1347.2 1191.8 L1348.5 1188.6 L1349.8 1190.8 L1351.1 1187.6 L1352.4 1191.8 L1353.7 1188.4 L1355.0 1191.3 L1356.3 1188.6 L1357.6 1191.1 L1358.9 1188.3 L1360.2 1191.1 L1361.5 1187.1 L1362.4 1190.1 L1364.1 1187.5 L1365.4 1189.9 L1366.7 1188.1 L1368.0 1191.3 L1369.3 1189.1 L1370.6 1190.7 L1371.9 1188.8 L1373.2 1192.8 L1374.5 1190.2 L1375.8 1191.7 L1377.1 1189.7 L1378.4 1193.7 L1379.7 1190.9 L1381.0 1192.7 L1382.3 1190.9 L1383.0 1193.0 L1383.6 1190.4 L1384.9 1193.3 L1386.2 1186.8 L1387.5 1187.9 L1388.8 1184.1 L1390.1 1186.2 L1391.4 1182.0 L1392.2 1183.9 L1392.7 1180.8 L1394.0 1186.3 L1395.3 1185.1 L1396.6 1189.5 L1397.9 1188.2 L1399.2 1192.0 L1400.5 1191.5 L1401.3 1195.2 L1403.1 1191.7 L1404.4 1194.4 L1405.7 1191.3 L1407.0 1196.1 L1408.3 1190.4 L1409.6 1195.0 L1410.9 1190.8 L1412.2 1194.7 L1413.5 1192.2 L1414.8 1194.3 L1416.1 1191.9 L1417.4 1194.9 L1418.7 1190.7 L1420.0 1194.6 L1421.3 1191.0 L1422.6 1193.7 L1423.9 1191.8 L1425.2 1193.2 L1426.5 1190.8 L1427.8 1194.5 L1429.1 1190.7 L1430.4 1196.0 L1431.1 1191.1 L1431.7 1195.8 L1433.0 1190.4 L1434.3 1193.6 L1435.6 1191.3 L1436.9 1194.4 L1438.2 1191.1 L1439.5 1194.6 L1440.8 1190.8 L1442.1 1193.9 L1443.4 1191.4 L1444.7 1193.9 L1446.0 1191.0 L1447.3 1193.9 L1448.6 1191.3 L1449.9 1193.9 L1451.2 1191.1 L1452.5 1194.1 L1453.8 1190.4 L1455.1 1194.2 L1456.4 1191.6 L1457.7 1195.3 L1459.0 1190.6 L1460.3 1193.5 L1461.6 1190.3 L1463.2 1193.4 L1464.2 1188.4 L1465.5 1191.8 L1466.8 1188.7 L1468.1 1190.6 L1469.4 1188.2 L1470.7 1190.3 L1472.3 1186.6 L1473.3 1189.9 L1474.6 1188.2 L1475.9 1190.4 L1477.2 1188.4 L1478.5 1192.4 L1479.8 1189.9 L1481.1 1192.9 L1482.4 1191.3 L1483.8 1194.6 L1485.0 1192.6 L1486.3 1195.3 L1487.6 1192.3 L1488.9 1195.1 L1490.2 1192.0 L1491.5 1193.7 L1492.8 1192.0 L1494.1 1193.5 L1495.4 1191.5 L1496.7 1194.6 L1498.0 1190.7 L1499.3 1193.5 L1500.6 1191.7 L1501.9 1194.1 L1503.2 1190.0 L1504.5 1194.0 L1505.8 1189.9 L1507.1 1193.4 L1508.4 1190.5 L1509.7 1195.8 L1511.0 1191.0 L1512.3 1192.4 L1513.6 1190.9 L1514.9 1195.6 L1516.2 1189.9 L1517.5 1192.6 L1518.8 1189.6 L1520.1 1193.3 L1521.4 1189.2 L1522.7 1192.5 L1524.0 1189.8 L1525.3 1192.7 L1526.6 1189.5 L1527.3 1195.1 L1527.9 1189.0 L1529.2 1190.3 L1530.5 1187.5 L1531.8 1189.2 L1533.1 1185.7 L1534.4 1188.1 L1535.7 1183.2 L1537.0 1186.4 L1538.7 1181.8 L1539.6 1185.1 L1540.9 1181.7 L1542.2 1185.8 L1543.5 1183.9 L1544.8 1186.5 L1546.1 1184.0 L1547.4 1186.6 L1548.7 1184.5 L1550.0 1189.0 L1551.3 1186.3 L1552.6 1189.3 L1553.9 1186.8 L1555.2 1190.3 L1556.5 1186.6 L1557.8 1189.9 L1559.1 1188.2 L1560.4 1191.4 L1561.7 1189.7 L1563.0 1191.5 L1563.9 1189.8 L1565.6 1190.9 L1566.9 1189.0 L1568.2 1190.3 L1569.5 1187.6 L1570.8 1190.0 L1572.1 1185.9 L1573.4 1187.9 L1574.7 1185.7 L1576.0 1187.2 L1577.6 1182.8 L1578.6 1185.8 L1579.9 1183.4 L1581.2 1187.2 L1582.5 1183.6 L1583.8 1186.4 L1585.1 1184.3 L1586.4 1186.3 L1587.7 1183.4 L1589.0 1186.4 L1590.3 1184.3 L1591.6 1186.1 L1592.9 1183.3 L1594.2 1185.9 L1595.9 1184.2 L1596.8 1187.8 L1598.1 1184.8 L1599.4 1188.4 L1600.7 1186.6 L1602.0 1189.4 L1603.3 1188.2 L1604.6 1190.8 L1605.9 1188.8 L1607.2 1192.9 L1608.5 1189.5 L1609.7 1193.2 L1611.1 1189.7 L1612.4 1192.4 L1613.7 1188.8 L1615.0 1193.8 L1616.3 1188.6 L1617.6 1190.5 L1618.9 1186.9 L1619.7 1189.7 L1621.5 1187.6 L1622.8 1192.4 L1624.1 1190.3 L1625.4 1192.9 L1626.7 1190.7 L1628.0 1195.3 L1629.3 1192.2 L1630.6 1195.1 L1631.9 1193.1 L1632.6 1197.6 L1633.2 1192.1 L1634.5 1196.7 L1635.8 1194.1 L1637.1 1197.3 L1638.4 1194.6 L1639.7 1196.8 L1641.0 1193.9 L1642.3 1196.8 L1643.6 1193.9 L1644.9 1196.5 L1646.2 1194.8 L1647.5 1197.5 L1648.8 1194.9 L1650.1 1197.5 L1651.4 1193.7 L1652.7 1196.9 L1654.0 1193.3 L1655.3 1197.4 L1656.6 1194.0 L1657.9 1197.5 L1659.2 1191.7 L1660.5 1196.2 L1661.8 1193.7 L1663.1 1197.1 L1664.4 1194.2 L1665.7 1196.8 L1667.0 1194.4 L1668.3 1197.0 L1669.6 1194.1 L1670.9 1197.7 L1672.2 1194.6 L1673.5 1196.6 L1674.8 1194.8 L1676.1 1196.9 L1677.4 1193.3 L1678.7 1196.6 L1680.0 1193.8 L1681.3 1197.8 L1682.6 1194.6 L1683.9 1196.4 L1685.2 1194.9 L1686.5 1196.6 L1687.8 1193.4 L1689.1 1199.5 L1690.4 1194.5 L1692.1 1197.5 L1693.0 1192.8 L1694.3 1195.6 L1695.6 1191.0 L1696.9 1194.1 L1698.2 1190.3 L1699.5 1194.1 L1701.2 1187.8 L1702.1 1191.5 L1703.4 1189.8 L1704.7 1192.5 L1706.0 1191.1 L1707.3 1194.8 L1708.6 1193.6 L1709.9 1196.6 L1711.2 1193.9 L1712.7 1198.7 L1713.8 1194.6 L1715.1 1198.9 L1716.4 1195.0 L1717.7 1197.6 L1719.0 1193.0 L1720.3 1198.8 L1721.6 1195.3 L1722.9 1197.5 L1724.2 1195.7 L1725.5 1197.5 L1726.8 1195.1 L1728.1 1198.3 L1729.4 1196.0 L1730.7 1198.9 L1732.0 1195.1 L1733.3 1197.7 L1734.6 1195.4 L1735.9 1197.9 L1737.2 1195.5 L1738.5 1198.2 L1739.8 1194.8 L1741.1 1198.4 L1742.4 1193.5 L1743.7 1197.4 L1745.0 1195.2 L1746.3 1198.2 L1747.6 1195.4 L1748.9 1197.2 L1750.2 1195.6 L1751.5 1198.3 L1752.8 1194.3 L1754.1 1197.1 L1755.4 1195.0 L1756.7 1197.4 L1758.0 1195.3 L1759.3 1197.5 L1760.6 1195.0 L1761.9 1198.5 L1763.2 1194.5 L1764.5 1197.5 L1765.8 1194.3 L1767.1 1197.4 L1768.4 1194.8 L1769.7 1197.4 L1771.0 1193.9 L1772.3 1197.6 L1773.6 1192.8 L1774.9 1197.9 L1776.2 1192.9 L1777.5 1197.1 L1778.8 1193.6 L1780.1 1196.5 L1781.4 1193.6 L1782.7 1197.8 L1783.7 1193.7 L1785.3 1199.0 L1786.6 1195.1 L1787.9 1196.9 L1789.2 1194.9 L1790.5 1197.2 L1791.8 1194.9 L1793.1 1197.6 L1794.4 1195.6 L1795.7 1197.2 L1797.0 1195.7 L1798.3 1198.7 L1799.6 1194.8 L1800.9 1198.7 L1802.2 1195.7 L1803.5 1198.5 L1804.8 1196.7 L1806.1 1199.1 L1807.4 1196.6 L1808.7 1198.8 L1810.0 1197.0 L1811.3 1199.2 L1812.6 1196.0 L1813.9 1198.9 L1815.2 1196.2 L1816.5 1200.3 L1817.8 1197.3 L1819.1 1200.6 L1820.3 1197.8 L1821.7 1200.3 L1823.0 1196.4 L1824.3 1199.4 L1825.6 1196.1 L1826.9 1198.9 L1828.2 1195.5 L1829.5 1199.1 L1830.8 1195.9 L1832.1 1199.6 L1833.4 1196.2 L1834.7 1200.1 L1836.0 1195.0 L1837.3 1198.2 L1838.6 1195.9 L1839.9 1198.5 L1841.2 1194.1 L1842.5 1197.1 L1843.8 1194.9 L1845.1 1197.4 L1846.4 1195.0 L1847.8 1196.6 L1849.0 1193.8 L1850.3 1196.8 L1851.6 1193.1 L1852.9 1195.8 L1854.2 1192.2 L1855.5 1195.3 L1856.8 1191.6 L1858.1 1194.2 L1859.4 1189.6 L1860.7 1193.4 L1862.0 1189.0 L1863.3 1191.8 L1864.6 1189.3 L1866.1 1190.2 L1867.2 1187.8 L1868.5 1192.3 L1869.8 1189.1 L1871.1 1192.0 L1872.4 1189.0 L1873.7 1193.3 L1875.0 1190.6 L1876.3 1192.5 L1877.6 1190.1 L1878.9 1194.1 L1879.8 1190.7 L1881.5 1193.5 L1882.8 1189.1 L1884.1 1192.1 L1885.4 1188.0 L1886.7 1190.7 L1888.0 1186.7 L1889.0 1188.7 L1890.6 1187.1 L1891.9 1190.1 L1893.2 1186.8 L1894.5 1192.1 L1895.8 1191.2 L1897.1 1193.6 L1898.1 1192.0 L1899.7 1191.8 L1901.0 1188.5 L1902.3 1189.4 L1903.6 1184.1 L1904.9 1185.4 L1906.2 1178.9 L1907.3 1182.1 L1908.8 1179.5 L1910.1 1184.9 L1911.4 1182.8 L1912.7 1186.0 L1914.0 1184.9 L1915.3 1189.8 L1916.4 1187.3 L1917.9 1190.0 L1919.2 1188.1 L1920.5 1192.4 L1921.8 1189.8 L1923.1 1192.0 L1924.4 1190.8 L1925.7 1193.7 L1927.0 1189.6 L1928.3 1193.7 L1929.6 1192.1 L1930.9 1195.5 L1932.2 1193.8 L1933.5 1196.0 L1934.8 1192.3 L1936.1 1196.5 L1937.4 1191.3 L1938.7 1195.0 L1940.0 1192.0 L1941.3 1193.8 L1942.6 1189.9 L1943.9 1193.5 L1945.2 1189.8 L1946.5 1191.6 L1947.8 1188.9 L1949.1 1190.6 L1950.4 1187.6 L1951.7 1188.7 L1953.0 1185.3 L1954.3 1188.5 L1955.4 1185.0 L1956.9 1188.5 L1958.2 1186.5 L1959.5 1188.9 L1960.8 1186.2 L1962.1 1189.9 L1963.4 1188.5 L1964.7 1190.4 L1966.0 1189.4 L1967.3 1191.6 L1968.6 1189.1 L1969.9 1193.3 L1971.2 1189.1 L1972.5 1193.5 L1973.8 1191.0 L1975.1 1194.6 L1976.0 1191.8 L1977.7 1194.0 L1979.0 1190.7 L1980.3 1193.4 L1981.6 1189.2 L1982.9 1192.1 L1984.2 1187.7 L1985.5 1190.9 L1986.8 1187.1 L1988.1 1189.5 L1989.4 1185.7 L1990.7 1188.8 L1992.0 1185.0 L1993.3 1188.1 L1994.3 1181.6 L1995.9 1188.0 L1997.2 1185.2 L1998.5 1189.3 L1999.8 1186.7 L2001.1 1189.4 L2002.4 1187.4 L2003.7 1192.2 L2005.0 1189.1 L2006.3 1193.5 L2008.0 1189.1 L2008.9 1193.8 L2010.2 1189.2 L2011.5 1192.8 L2012.8 1188.7 L2014.1 1190.5 L2015.4 1187.3 L2017.2 1188.9 L2018.0 1186.4 L2019.3 1190.6 L2020.6 1187.5 L2021.9 1191.8 L2023.2 1187.9 L2024.5 1192.8 L2025.8 1189.4 L2027.1 1193.2 L2028.4 1190.2 L2029.7 1196.8 L2031.0 1191.7 L2032.3 1194.9 L2033.6 1193.7 L2034.9 1195.5 L2036.2 1193.8 L2037.5 1196.7 L2038.8 1193.9 L2040.1 1199.5 L2041.4 1194.9 L2042.7 1200.3 L2044.0 1195.4 L2045.3 1197.9 L2046.6 1194.3 L2047.9 1196.0 L2049.2 1193.7 L2050.5 1196.6 L2051.8 1193.0 L2053.1 1196.6 L2054.4 1192.1 L2055.7 1195.9 L2057.0 1192.0 L2058.4 1195.2 L2059.6 1191.8 L2060.9 1194.7 L2062.2 1192.5 L2063.5 1194.3 L2064.8 1192.9 L2066.1 1194.4 L2067.4 1193.0 L2068.7 1194.4 L2070.0 1193.2 L2071.3 1195.3 L2072.6 1193.3 L2073.9 1195.4 L2075.2 1192.8 L2076.5 1196.1 L2077.8 1193.5 L2079.1 1196.0 L2080.4 1192.5 L2081.7 1196.3 L2083.0 1193.1 L2084.3 1195.2 L2085.6 1192.9 L2086.9 1197.0 L2088.2 1193.0 L2089.5 1196.1 L2090.8 1194.1 L2092.1 1196.5 L2093.4 1194.0 L2094.7 1195.7 L2096.0 1194.5 L2097.3 1195.8 L2098.6 1193.6 L2099.9 1197.2 L2101.2 1193.9 L2102.5 1197.4 L2104.2 1191.5 L2105.1 1197.2 L2106.4 1195.0 L2107.7 1197.4 L2109.0 1194.4 L2110.3 1197.4 L2111.6 1194.2 L2112.9 1197.0 L2114.2 1192.3 L2115.5 1197.7 L2116.8 1193.8 L2118.1 1197.3 L2119.4 1195.2 L2120.7 1198.0 L2122.0 1194.2 L2123.3 1197.0 L2124.6 1194.2 L2125.9 1196.9 L2127.2 1194.2 L2128.5 1198.3 L2129.8 1195.4 L2131.1 1198.2 L2132.4 1195.0 L2133.7 1198.5 L2135.0 1195.4 L2136.3 1197.3 L2137.6 1195.7 L2138.9 1198.0 L2140.2 1195.7 L2141.5 1200.7 L2142.8 1195.7 L2144.1 1197.9 L2145.4 1195.2 L2146.7 1199.9 L2148.0 1194.7 L2149.3 1200.5 L2150.0 1195.4 L2150.6 1197.9 L2151.9 1194.3 L2153.2 1196.6 L2154.5 1194.7 L2155.8 1197.4 L2157.1 1192.7 L2158.4 1195.4 L2159.7 1192.0 L2161.0 1196.1 L2162.3 1192.0 L2163.6 1194.1 L2164.9 1191.8 L2166.2 1194.1 L2167.5 1191.0 L2168.8 1192.2 L2170.6 1188.6 L2171.4 1192.1 L2172.7 1189.6 L2174.0 1194.4 L2175.3 1192.2 L2176.6 1195.6 L2177.9 1192.9 L2179.2 1196.3 L2180.5 1193.0 L2181.8 1196.4 L2183.1 1194.5 L2184.4 1197.5 L2185.7 1195.4 L2187.0 1200.1 L2188.3 1196.7 L2188.9 1200.1 L2189.6 1196.8 L2190.9 1199.5 L2192.2 1198.1 L2193.5 1201.1 L2194.8 1197.8 L2196.1 1200.4 L2197.4 1198.0 L2198.7 1200.0 L2200.0 1197.8 L2201.3 1200.2 L2202.6 1197.6 L2203.9 1201.0 L2205.2 1195.9 L2206.5 1200.0 L2207.8 1198.1 L2209.1 1201.2 L2210.4 1197.0 L2211.7 1200.6 L2213.0 1197.2 L2214.3 1203.0 L2215.6 1197.6 L2216.9 1201.0 L2218.2 1198.2 L2219.5 1201.9 L2220.8 1197.8 L2222.1 1201.0 L2223.4 1198.3 L2224.7 1200.5 L2226.0 1197.7 L2227.3 1200.1 L2228.6 1197.7 L2229.9 1201.8 L2231.2 1197.2 L2232.5 1200.6 L2233.8 1198.5 L2235.1 1200.5 L2236.4 1198.9 L2237.7 1201.7 L2239.0 1199.0 L2240.3 1200.4 L2241.5 1198.9 L2242.9 1201.5 L2244.2 1198.6 L2245.5 1201.7 L2246.8 1197.8 L2248.1 1201.6 L2249.4 1196.3 L2250.7 1201.0 L2252.0 1198.6 L2253.3 1200.4 L2254.6 1197.3 L2255.9 1201.2 L2257.2 1197.3 L2258.5 1200.4 L2259.8 1198.2 L2261.1 1200.1 L2262.4 1198.2 L2263.7 1200.4 L2264.4 1196.7 L2265.0 1200.6 L2266.3 1197.5 L2267.6 1199.9 L2268.9 1197.6 L2270.2 1199.5 L2271.5 1196.9 L2272.0 1199.8" fill="none" stroke="#ff0000" stroke-width="4.8" stroke-linejoin="round" stroke-linecap="butt"/>
<path d="M221.0 1365.2 L222.6 1396.1 L223.0 1400.0 L225.0 1418.0 L225.0 1417.1 L227.0 1418.1 L229.0 1418.8 L231.0 1418.2 L233.0 1418.8 L235.0 1418.9 L235.7 1418.4 L237.0 1418.7 L239.0 1418.8 L241.0 1418.2 L243.0 1418.1 L245.0 1417.1 L247.0 1416.8 L249.0 1416.3 L251.0 1416.5 L252.4 1416.9 L253.0 1416.5 L255.0 1416.8 L257.0 1416.6 L259.0 1417.2 L261.0 1416.8 L263.0 1417.2 L265.0 1417.7 L266.7 1417.8 L267.0 1417.4 L269.0 1413.0 L270.2 1411.4 L271.0 1412.9 L272.6 1418.6 L273.0 1419.2 L275.0 1418.9 L277.0 1419.9 L279.0 1420.0 L281.0 1419.3 L283.0 1419.7 L285.0 1419.9 L285.7 1419.5 L287.0 1420.0 L289.0 1420.7 L291.0 1420.0 L293.0 1420.7 L295.0 1420.4 L297.0 1421.0 L299.0 1421.4 L301.0 1420.8 L303.0 1420.7 L304.8 1420.8 L305.0 1421.2 L307.0 1413.5 L308.3 1407.7 L309.0 1406.1 L310.7 1402.6 L311.0 1402.4 L313.0 1416.9 L313.1 1417.8 L315.0 1422.8 L316.7 1426.0 L317.0 1425.8 L319.0 1427.4 L321.0 1428.7 L323.0 1428.5 L325.0 1429.5 L327.0 1430.0 L329.0 1430.0 L331.0 1430.5 L333.0 1431.6 L335.0 1432.0 L337.0 1431.5 L339.0 1432.5 L341.0 1433.1 L343.0 1432.7 L345.0 1433.3 L347.0 1433.0 L349.0 1433.6 L351.0 1434.1 L353.0 1434.2 L354.8 1434.6 L355.0 1433.9 L357.0 1434.3 L359.0 1435.0 L361.0 1434.8 L363.0 1434.8 L365.0 1434.9 L367.0 1435.6 L369.0 1435.3 L371.0 1434.8 L373.0 1435.7 L375.0 1435.3 L377.0 1435.4 L378.6 1435.2 L379.0 1435.4 L381.0 1435.2 L383.0 1434.6 L385.0 1434.7 L387.0 1433.6 L389.0 1433.6 L391.0 1432.1 L393.0 1432.0 L395.0 1431.1 L395.2 1430.7 L397.0 1430.1 L399.0 1428.3 L401.0 1427.2 L403.0 1425.0 L405.0 1422.5 L407.0 1420.7 L407.1 1419.9 L409.0 1416.7 L411.0 1412.4 L413.0 1406.0 L413.1 1405.9 L415.0 1399.0 L417.0 1390.3 L417.9 1384.0 L419.0 1373.6 L420.2 1356.2 L421.0 1340.6 L421.9 1313.3 L423.0 1258.5 L423.3 1241.5 L425.0 1201.7 L425.0 1201.7 L426.9 1241.1 L427.0 1242.9 L428.1 1313.0 L429.0 1372.0 L429.3 1384.1 L431.0 1400.6 L433.0 1395.1 L434.5 1383.9 L435.0 1378.7 L436.9 1336.7 L437.0 1336.0 L438.8 1304.1 L439.0 1304.8 L441.0 1348.8 L442.4 1408.4 L443.0 1411.9 L444.0 1415.6 L445.0 1413.9 L447.0 1406.9 L448.8 1396.5 L449.0 1395.7 L451.0 1376.9 L452.4 1360.1 L453.0 1353.2 L455.0 1327.1 L456.0 1312.5 L457.0 1298.5 L459.0 1266.5 L459.0 1265.5 L461.0 1224.3 L461.2 1223.1 L463.0 1259.9 L463.1 1265.2 L464.3 1360.5 L465.0 1400.7 L465.5 1419.7 L467.0 1437.4 L467.9 1441.9 L469.0 1443.2 L471.0 1446.0 L473.0 1446.5 L475.0 1447.9 L475.0 1447.8 L477.0 1446.6 L479.0 1444.4 L481.0 1441.3 L482.1 1439.5 L483.0 1436.8 L485.0 1430.4 L486.9 1420.0 L487.0 1419.5 L489.0 1400.4 L490.0 1384.5 L491.0 1360.4 L492.4 1313.1 L493.0 1291.1 L494.0 1253.3 L495.0 1237.0 L495.7 1230.3 L497.0 1261.0 L497.6 1288.9 L498.8 1360.9 L499.0 1367.6 L500.5 1432.2 L501.0 1437.8 L503.0 1452.0 L503.6 1453.7 L505.0 1454.4 L507.0 1456.8 L509.0 1458.1 L511.0 1459.0 L513.0 1459.1 L514.3 1458.9 L515.0 1458.9 L517.0 1458.6 L519.0 1456.7 L521.0 1454.5 L523.0 1452.1 L523.8 1450.9 L525.0 1448.5 L527.0 1440.4 L528.6 1432.2 L529.0 1428.9 L531.0 1403.9 L531.4 1395.7 L533.0 1360.5 L533.3 1357.0 L535.0 1380.1 L535.7 1396.7 L537.0 1432.0 L537.6 1443.4 L539.0 1450.3 L540.5 1453.1 L541.0 1452.6 L543.0 1435.2 L543.3 1431.6 L545.0 1412.2 L545.2 1411.3 L547.0 1431.3 L547.6 1439.5 L549.0 1450.4 L551.0 1462.6 L551.2 1462.8 L553.0 1465.6 L555.0 1467.7 L557.0 1469.4 L559.0 1469.7 L559.5 1469.8 L561.0 1469.9 L563.0 1468.8 L565.0 1467.6 L567.0 1466.1 L569.0 1462.5 L569.0 1462.5 L571.0 1454.4 L572.6 1443.4 L573.0 1441.8 L575.0 1433.5 L575.0 1433.2 L577.0 1451.7 L577.4 1455.3 L579.0 1464.4 L579.8 1466.2 L581.0 1465.9 L583.0 1461.7 L584.5 1456.0 L585.0 1453.3 L586.9 1432.3 L587.0 1432.0 L588.8 1424.0 L589.0 1424.3 L591.0 1450.5 L593.0 1466.5 L594.0 1469.7 L595.0 1469.9 L597.0 1468.3 L599.0 1465.5 L601.0 1463.0 L602.4 1460.4 L603.0 1459.4 L605.0 1457.0 L607.0 1453.1 L607.6 1451.1 L609.0 1430.6 L610.0 1408.0 L611.0 1387.0 L612.4 1366.3 L613.0 1370.0 L614.8 1407.8 L615.0 1412.9 L616.7 1462.5 L617.0 1465.2 L619.0 1474.9 L620.2 1476.8 L621.0 1477.8 L623.0 1478.8 L625.0 1479.9 L627.0 1480.8 L629.0 1481.5 L631.0 1482.0 L633.0 1482.1 L633.3 1481.6 L635.0 1482.1 L637.0 1482.2 L639.0 1482.0 L641.0 1482.8 L643.0 1482.8 L645.0 1483.3 L647.0 1482.9 L649.0 1483.4 L650.0 1483.1 L651.0 1482.4 L653.0 1480.8 L655.0 1476.2 L657.0 1470.7 L657.1 1469.6 L659.0 1453.9 L660.2 1444.2 L661.0 1440.5 L662.4 1437.5 L663.0 1441.2 L664.8 1467.2 L665.0 1469.1 L667.0 1478.7 L667.9 1479.7 L669.0 1477.3 L671.0 1466.8 L672.6 1455.7 L673.0 1453.3 L675.0 1438.0 L676.2 1433.0 L677.0 1433.6 L679.0 1440.3 L679.8 1443.7 L681.0 1451.1 L683.0 1465.5 L683.3 1466.8 L685.0 1468.0 L687.0 1468.4 L688.1 1470.2 L689.0 1472.2 L691.0 1482.9 L691.7 1484.7 L693.0 1484.2 L695.0 1483.0 L697.0 1480.6 L697.6 1479.3 L699.0 1475.5 L701.0 1467.9 L702.4 1465.4 L703.0 1465.8 L705.0 1474.7 L706.0 1477.4 L707.0 1476.4 L709.0 1473.3 L711.0 1469.1 L711.9 1468.0 L713.0 1465.9 L714.3 1465.2 L715.0 1467.1 L717.0 1477.6 L717.9 1479.4 L719.0 1478.4 L721.0 1474.3 L722.6 1472.7 L723.0 1473.1 L725.0 1474.9 L726.2 1475.9 L727.0 1474.2 L729.0 1457.8 L729.8 1452.7 L731.0 1446.8 L732.9 1440.9 L733.0 1440.7 L735.0 1455.3 L735.7 1461.5 L737.0 1472.4 L738.1 1477.3 L739.0 1475.0 L741.0 1461.7 L741.7 1458.8 L743.0 1455.3 L743.6 1455.2 L745.0 1462.8 L746.4 1473.4 L747.0 1475.9 L749.0 1483.6 L750.0 1484.8 L751.0 1484.2 L753.0 1479.8 L753.6 1479.8 L755.0 1481.3 L757.0 1484.8 L759.0 1488.0 L759.5 1488.6 L761.0 1486.4 L763.0 1481.8 L765.0 1479.1 L765.5 1478.7 L767.0 1480.1 L769.0 1486.3 L771.0 1490.0 L771.4 1490.1 L773.0 1490.2 L775.0 1489.6 L777.0 1489.4 L777.4 1489.6 L779.0 1485.2 L781.0 1474.3 L783.0 1445.8 L783.8 1437.8 L785.0 1433.9 L785.7 1433.4 L787.0 1445.0 L788.1 1462.1 L789.0 1471.9 L790.5 1483.4 L791.0 1483.6 L793.0 1483.0 L795.0 1482.6 L795.2 1481.8 L797.0 1483.9 L799.0 1489.1 L801.0 1491.5 L801.2 1491.5 L803.0 1490.4 L805.0 1485.9 L806.0 1483.7 L807.0 1476.4 L809.0 1450.7 L809.0 1450.5 L811.0 1421.1 L811.9 1414.0 L813.0 1420.9 L814.3 1438.5 L815.0 1449.5 L816.7 1478.1 L817.0 1479.5 L819.0 1485.9 L821.0 1489.2 L821.4 1489.1 L823.0 1485.6 L825.0 1473.8 L825.0 1473.3 L827.0 1457.5 L828.1 1452.0 L829.0 1455.7 L831.0 1473.5 L833.0 1486.0 L833.3 1487.0 L835.0 1485.0 L837.0 1478.1 L839.0 1474.1 L839.3 1473.6 L841.0 1475.6 L843.0 1479.0 L845.0 1482.4 L845.2 1483.6 L847.0 1485.9 L849.0 1489.2 L851.0 1491.7 L852.4 1493.2 L853.0 1492.9 L855.0 1489.3 L857.0 1484.0 L857.1 1483.5 L859.0 1474.8 L861.0 1463.1 L861.9 1457.4 L863.0 1450.4 L865.0 1435.5 L866.0 1433.4 L867.0 1440.0 L868.6 1462.3 L869.0 1466.5 L871.0 1489.4 L873.0 1494.6 L874.3 1495.1 L875.0 1494.8 L877.0 1490.2 L878.6 1484.1 L879.0 1483.7 L881.0 1474.7 L881.7 1473.8 L883.0 1476.4 L885.0 1484.9 L885.7 1485.7 L887.0 1485.8 L889.0 1484.3 L891.0 1484.1 L892.9 1483.7 L893.0 1483.5 L895.0 1484.5 L897.0 1487.4 L899.0 1490.0 L900.0 1490.0 L901.0 1490.3 L903.0 1485.0 L904.8 1479.0 L905.0 1477.5 L907.0 1464.9 L908.3 1450.3 L909.0 1439.5 L910.7 1390.4 L911.0 1382.4 L912.6 1319.0 L913.0 1305.8 L914.3 1260.0 L915.0 1249.9 L916.7 1236.2 L917.0 1237.3 L918.6 1271.1 L919.0 1288.5 L919.8 1342.6 L921.0 1413.8 L923.0 1465.9 L923.1 1466.7 L925.0 1449.1 L925.7 1438.2 L927.0 1412.8 L928.1 1390.3 L929.0 1379.3 L930.2 1368.7 L931.0 1373.9 L932.6 1402.4 L933.0 1409.6 L934.5 1449.6 L935.0 1458.5 L936.9 1484.9 L937.0 1484.2 L939.0 1481.4 L941.0 1475.8 L941.7 1473.8 L943.0 1470.3 L945.0 1464.3 L946.0 1462.9 L947.0 1466.0 L949.0 1478.5 L949.5 1480.9 L951.0 1486.5 L952.4 1489.4 L953.0 1488.9 L955.0 1482.8 L957.0 1474.5 L957.1 1474.1 L959.0 1464.0 L960.7 1454.3 L961.0 1454.0 L963.0 1450.2 L964.8 1445.3 L965.0 1443.9 L967.0 1417.9 L967.9 1402.6 L969.0 1378.0 L970.2 1357.6 L971.0 1355.8 L972.1 1354.3 L973.0 1365.3 L974.3 1402.6 L975.0 1420.5 L976.2 1450.5 L977.0 1457.1 L978.1 1462.2 L979.0 1460.7 L981.0 1454.1 L982.1 1450.4 L983.0 1446.3 L985.0 1434.9 L986.4 1431.0 L987.0 1431.3 L989.0 1433.4 L991.0 1438.7 L991.7 1440.1 L993.0 1450.3 L994.8 1462.1 L995.0 1461.6 L997.0 1451.2 L998.8 1443.2 L999.0 1442.8 L1001.0 1463.1 L1002.4 1474.2 L1003.0 1473.7 L1005.0 1465.6 L1007.0 1459.9 L1007.1 1459.6 L1009.0 1470.6 L1009.5 1473.4 L1011.0 1480.2 L1013.0 1485.6 L1013.1 1486.0 L1015.0 1484.3 L1017.0 1480.3 L1019.0 1476.1 L1020.2 1474.1 L1021.0 1473.0 L1023.0 1469.6 L1025.0 1465.9 L1027.0 1462.3 L1028.6 1457.5 L1029.0 1455.0 L1031.0 1435.2 L1032.1 1426.0 L1033.0 1422.9 L1035.0 1418.6 L1035.7 1417.5 L1037.0 1423.7 L1039.0 1447.0 L1039.3 1449.6 L1041.0 1470.4 L1041.7 1474.1 L1043.0 1473.0 L1045.0 1469.9 L1047.0 1464.0 L1047.6 1462.1 L1049.0 1449.1 L1050.5 1426.4 L1051.0 1419.6 L1052.9 1395.3 L1053.0 1394.5 L1054.8 1385.9 L1055.0 1385.8 L1057.0 1411.4 L1057.1 1414.5 L1059.0 1443.4 L1060.0 1457.6 L1061.0 1464.9 L1063.0 1475.3 L1063.1 1475.7 L1065.0 1483.2 L1066.0 1484.2 L1067.0 1483.2 L1069.0 1475.2 L1070.2 1469.4 L1071.0 1464.9 L1072.6 1457.2 L1073.0 1458.0 L1075.0 1473.1 L1076.2 1480.8 L1077.0 1482.4 L1078.6 1483.2 L1079.0 1483.5 L1081.0 1474.6 L1083.0 1466.6 L1083.3 1466.5 L1085.0 1469.8 L1087.0 1476.7 L1088.1 1478.3 L1089.0 1474.1 L1091.0 1450.4 L1093.0 1426.8 L1093.6 1423.9 L1095.0 1432.9 L1096.4 1450.1 L1097.0 1454.9 L1099.0 1476.0 L1100.0 1481.2 L1101.0 1479.8 L1103.0 1473.7 L1104.8 1467.0 L1105.0 1465.5 L1107.0 1452.4 L1108.3 1447.3 L1109.0 1449.1 L1111.0 1459.2 L1111.9 1461.6 L1113.0 1462.0 L1115.0 1463.4 L1117.0 1463.0 L1119.0 1464.4 L1119.0 1464.5 L1121.0 1470.9 L1123.0 1482.1 L1123.8 1485.6 L1125.0 1489.3 L1126.2 1491.8 L1127.0 1490.9 L1129.0 1487.4 L1131.0 1481.4 L1133.0 1476.7 L1133.3 1476.6 L1135.0 1474.0 L1137.0 1471.5 L1139.0 1469.7 L1140.5 1468.5 L1141.0 1469.5 L1143.0 1472.5 L1145.0 1477.5 L1146.4 1481.0 L1147.0 1482.6 L1149.0 1489.1 L1151.0 1492.6 L1151.2 1492.5 L1153.0 1492.7 L1155.0 1492.2 L1157.0 1492.3 L1159.0 1491.8 L1161.0 1491.4 L1161.9 1491.6 L1163.0 1490.5 L1165.0 1487.5 L1167.0 1483.3 L1167.9 1481.2 L1169.0 1477.5 L1171.0 1471.8 L1172.6 1468.7 L1173.0 1469.4 L1175.0 1470.6 L1177.0 1473.2 L1177.4 1473.7 L1179.0 1479.3 L1181.0 1486.9 L1182.1 1489.7 L1183.0 1488.7 L1185.0 1486.3 L1186.9 1483.0 L1187.0 1482.8 L1189.0 1477.1 L1191.0 1471.2 L1191.2 1471.5 L1193.0 1475.2 L1195.0 1484.3 L1196.4 1489.6 L1197.0 1490.3 L1199.0 1493.3 L1201.0 1496.1 L1202.4 1496.1 L1203.0 1495.9 L1205.0 1495.9 L1207.0 1494.9 L1209.0 1493.5 L1209.5 1493.1 L1211.0 1492.4 L1213.0 1491.2 L1215.0 1489.4 L1217.0 1487.1 L1219.0 1485.0 L1220.0 1483.3 L1221.0 1481.0 L1223.0 1470.8 L1224.4 1462.6 L1225.0 1458.9 L1227.0 1442.9 L1228.2 1439.0 L1229.0 1441.8 L1231.0 1458.3 L1231.3 1459.0 L1233.0 1460.8 L1235.0 1461.2 L1237.0 1461.9 L1238.5 1462.8 L1239.0 1464.5 L1241.0 1472.7 L1242.3 1478.4 L1243.0 1480.2 L1245.0 1486.1 L1246.2 1487.4 L1247.0 1486.4 L1249.0 1479.7 L1251.0 1473.3 L1251.3 1473.5 L1253.0 1476.1 L1255.0 1479.3 L1255.1 1480.1 L1257.0 1476.7 L1259.0 1472.0 L1260.3 1471.1 L1261.0 1470.7 L1263.0 1474.5 L1265.0 1480.0 L1267.0 1484.7 L1267.9 1485.3 L1269.0 1483.7 L1271.0 1479.2 L1273.0 1474.0 L1274.4 1472.1 L1275.0 1472.2 L1277.0 1476.9 L1279.0 1481.6 L1279.5 1481.9 L1281.0 1479.0 L1283.0 1470.3 L1285.0 1461.9 L1285.9 1460.1 L1287.0 1462.6 L1289.0 1470.7 L1289.7 1473.2 L1291.0 1478.5 L1293.0 1487.1 L1293.6 1487.6 L1295.0 1487.4 L1297.0 1485.7 L1299.0 1485.3 L1300.0 1484.8 L1301.0 1484.9 L1303.0 1487.8 L1305.0 1491.3 L1306.4 1492.3 L1307.0 1492.2 L1309.0 1490.4 L1311.0 1486.0 L1313.0 1482.6 L1314.1 1481.9 L1315.0 1481.9 L1317.0 1482.4 L1319.0 1482.6 L1321.0 1482.7 L1323.0 1483.6 L1323.1 1483.4 L1325.0 1484.5 L1327.0 1487.7 L1329.0 1489.9 L1330.8 1491.0 L1331.0 1491.5 L1333.0 1491.1 L1335.0 1490.8 L1337.0 1490.7 L1339.0 1490.4 L1339.7 1490.1 L1341.0 1489.9 L1343.0 1487.8 L1345.0 1485.1 L1347.0 1483.7 L1348.7 1481.8 L1349.0 1482.0 L1351.0 1481.6 L1353.0 1481.7 L1355.0 1481.6 L1357.0 1481.5 L1359.0 1481.6 L1361.0 1481.0 L1361.5 1481.0 L1363.0 1479.8 L1365.0 1475.5 L1366.7 1471.2 L1367.0 1469.9 L1369.0 1463.2 L1370.5 1461.0 L1371.0 1460.9 L1373.0 1461.7 L1375.0 1462.1 L1376.9 1462.9 L1377.0 1463.0 L1379.0 1459.3 L1380.8 1452.8 L1381.0 1452.5 L1383.0 1439.0 L1384.6 1427.2 L1385.0 1424.9 L1387.0 1410.8 L1389.0 1400.2 L1389.7 1398.7 L1391.0 1402.6 L1393.0 1421.0 L1393.6 1427.5 L1395.0 1446.3 L1396.2 1462.8 L1397.0 1470.8 L1398.7 1482.4 L1399.0 1482.4 L1401.0 1482.3 L1402.6 1481.2 L1403.0 1480.7 L1405.0 1474.4 L1407.0 1468.1 L1407.7 1467.3 L1409.0 1468.9 L1411.0 1476.5 L1411.5 1478.1 L1413.0 1480.9 L1415.0 1485.3 L1416.7 1486.6 L1417.0 1486.1 L1419.0 1484.4 L1421.0 1480.4 L1423.0 1476.3 L1423.1 1475.8 L1425.0 1472.1 L1427.0 1466.5 L1429.0 1464.0 L1429.0 1463.9 L1431.0 1469.6 L1433.0 1477.7 L1433.3 1478.8 L1435.0 1482.6 L1437.0 1486.0 L1438.5 1487.3 L1439.0 1487.0 L1441.0 1483.7 L1443.0 1477.0 L1443.6 1475.7 L1445.0 1472.4 L1447.0 1466.8 L1448.7 1463.9 L1449.0 1464.0 L1451.0 1464.5 L1453.0 1465.6 L1455.0 1467.3 L1456.4 1467.7 L1457.0 1468.9 L1459.0 1469.9 L1461.0 1471.6 L1462.8 1473.2 L1463.0 1473.8 L1465.0 1476.4 L1467.0 1481.3 L1469.0 1484.2 L1469.2 1484.9 L1471.0 1487.2 L1473.0 1489.6 L1474.4 1490.0 L1475.0 1490.0 L1477.0 1486.3 L1479.0 1482.2 L1479.5 1481.0 L1481.0 1477.2 L1483.0 1469.7 L1485.0 1463.9 L1487.0 1460.1 L1487.2 1460.1 L1489.0 1461.9 L1491.0 1467.6 L1493.0 1471.8 L1493.6 1473.5 L1495.0 1475.3 L1497.0 1479.5 L1499.0 1481.6 L1500.0 1482.4 L1501.0 1481.2 L1503.0 1472.7 L1505.0 1463.6 L1505.1 1463.3 L1507.0 1457.1 L1508.5 1454.9 L1509.0 1455.7 L1511.0 1465.4 L1511.5 1468.5 L1513.0 1474.1 L1515.0 1482.3 L1515.4 1483.6 L1517.0 1486.3 L1519.0 1488.8 L1520.5 1489.8 L1521.0 1489.4 L1523.0 1485.7 L1525.0 1480.7 L1526.9 1475.7 L1527.0 1476.1 L1529.0 1472.9 L1531.0 1471.4 L1532.1 1471.2 L1533.0 1470.4 L1535.0 1471.5 L1537.0 1472.9 L1539.0 1474.2 L1539.7 1474.2 L1541.0 1477.3 L1543.0 1484.0 L1544.9 1487.1 L1545.0 1487.6 L1547.0 1487.4 L1549.0 1486.7 L1551.0 1486.9 L1552.6 1486.5 L1553.0 1485.6 L1555.0 1484.2 L1557.0 1481.6 L1559.0 1478.3 L1561.0 1477.3 L1561.5 1477.6 L1563.0 1477.2 L1565.0 1478.0 L1567.0 1479.3 L1569.0 1480.0 L1569.2 1480.2 L1571.0 1479.9 L1573.0 1481.6 L1575.0 1481.6 L1577.0 1482.1 L1578.2 1482.0 L1579.0 1482.3 L1581.0 1479.2 L1583.0 1474.6 L1585.0 1470.4 L1587.0 1468.2 L1587.2 1468.3 L1589.0 1468.6 L1591.0 1470.5 L1592.3 1470.5 L1593.0 1470.1 L1595.0 1468.4 L1597.0 1464.1 L1598.7 1463.4 L1599.0 1463.4 L1601.0 1466.7 L1603.0 1473.5 L1605.0 1479.1 L1606.4 1480.7 L1607.0 1481.3 L1609.0 1479.9 L1611.0 1477.5 L1613.0 1474.6 L1614.1 1472.9 L1615.0 1472.8 L1617.0 1471.1 L1619.0 1468.6 L1620.5 1467.0 L1621.0 1465.9 L1623.0 1462.4 L1625.0 1458.5 L1625.6 1457.5 L1627.0 1459.3 L1629.0 1464.3 L1631.0 1470.3 L1632.1 1473.4 L1633.0 1476.1 L1635.0 1481.6 L1637.0 1486.1 L1638.5 1487.9 L1639.0 1487.4 L1641.0 1484.1 L1643.0 1478.3 L1644.9 1473.6 L1645.0 1473.4 L1647.0 1468.7 L1649.0 1465.0 L1650.0 1464.1 L1651.0 1464.8 L1653.0 1466.9 L1655.0 1469.7 L1657.0 1472.2 L1657.7 1473.5 L1659.0 1474.6 L1661.0 1476.4 L1663.0 1477.3 L1665.0 1478.8 L1665.4 1478.7 L1667.0 1478.4 L1669.0 1476.3 L1671.0 1474.2 L1671.8 1473.4 L1673.0 1469.9 L1675.0 1462.4 L1677.0 1455.4 L1677.4 1455.0 L1679.0 1457.4 L1681.0 1462.2 L1683.0 1467.7 L1683.3 1468.4 L1685.0 1470.1 L1687.0 1472.2 L1688.5 1473.5 L1689.0 1473.4 L1691.0 1468.1 L1692.3 1465.2 L1693.0 1466.2 L1695.0 1474.1 L1696.2 1478.0 L1697.0 1480.8 L1699.0 1485.2 L1701.0 1487.8 L1701.3 1487.9 L1703.0 1484.9 L1705.0 1478.0 L1706.4 1476.0 L1707.0 1476.4 L1709.0 1477.6 L1711.0 1480.6 L1712.8 1482.8 L1713.0 1481.9 L1715.0 1482.0 L1717.0 1479.9 L1719.0 1477.9 L1721.0 1476.5 L1723.0 1476.3 L1723.1 1476.0 L1725.0 1475.9 L1727.0 1477.5 L1729.0 1477.9 L1730.8 1478.8 L1731.0 1478.4 L1733.0 1475.3 L1735.0 1470.3 L1735.9 1469.3 L1737.0 1470.4 L1739.0 1472.4 L1741.0 1473.4 L1741.0 1473.4 L1743.0 1470.7 L1745.0 1465.0 L1747.0 1460.5 L1747.4 1460.9 L1749.0 1463.9 L1751.0 1474.1 L1752.6 1478.5 L1753.0 1479.2 L1755.0 1480.7 L1757.0 1481.3 L1759.0 1481.8 L1761.0 1482.8 L1762.3 1482.9 L1763.0 1482.6 L1765.0 1481.6 L1767.0 1480.0 L1769.0 1478.8 L1769.7 1479.1 L1771.0 1479.3 L1773.0 1480.0 L1775.0 1481.7 L1777.0 1482.7 L1779.0 1484.3 L1781.0 1485.3 L1782.0 1485.3 L1783.0 1485.4 L1785.0 1485.4 L1787.0 1486.1 L1789.0 1486.5 L1791.0 1486.8 L1793.0 1486.7 L1795.0 1487.0 L1796.9 1486.6 L1797.0 1486.5 L1799.0 1486.7 L1801.0 1485.5 L1803.0 1483.7 L1805.0 1483.3 L1807.0 1482.1 L1809.0 1482.0 L1809.2 1481.5 L1811.0 1482.0 L1813.0 1482.9 L1815.0 1484.0 L1817.0 1485.2 L1819.0 1485.2 L1819.1 1485.5 L1821.0 1484.9 L1823.0 1481.7 L1825.0 1479.8 L1826.5 1478.1 L1827.0 1477.5 L1829.0 1475.6 L1831.0 1474.6 L1833.0 1472.9 L1835.0 1472.0 L1837.0 1471.8 L1837.7 1471.8 L1839.0 1472.7 L1841.0 1475.0 L1843.0 1478.5 L1845.0 1481.0 L1846.3 1481.1 L1847.0 1481.4 L1849.0 1480.9 L1851.0 1480.9 L1853.0 1480.2 L1853.7 1480.5 L1855.0 1480.4 L1857.0 1481.4 L1859.0 1483.4 L1861.0 1486.2 L1863.0 1487.6 L1865.0 1489.0 L1866.1 1489.1 L1867.0 1489.0 L1869.0 1489.0 L1871.0 1488.8 L1873.0 1488.1 L1875.0 1487.7 L1877.0 1486.8 L1879.0 1486.4 L1880.9 1486.1 L1881.0 1486.6 L1883.0 1486.6 L1885.0 1488.1 L1887.0 1490.0 L1889.0 1491.4 L1891.0 1492.3 L1892.1 1492.7 L1893.0 1493.0 L1895.0 1491.3 L1897.0 1489.1 L1899.0 1486.8 L1900.7 1484.2 L1901.0 1484.3 L1903.0 1480.9 L1905.0 1477.5 L1907.0 1474.8 L1908.2 1474.7 L1909.0 1474.2 L1911.0 1474.1 L1913.0 1474.7 L1915.0 1474.4 L1917.0 1475.1 L1918.0 1475.9 L1919.0 1475.4 L1921.0 1476.8 L1923.0 1478.5 L1925.0 1480.9 L1927.0 1483.3 L1929.0 1484.6 L1931.0 1486.1 L1932.9 1486.1 L1933.0 1486.3 L1935.0 1485.1 L1937.0 1482.5 L1939.0 1479.5 L1941.0 1477.3 L1941.5 1476.7 L1943.0 1476.0 L1945.0 1476.1 L1947.0 1475.9 L1949.0 1475.7 L1949.0 1475.6 L1951.0 1479.1 L1953.0 1484.3 L1953.9 1485.4 L1955.0 1484.6 L1957.0 1481.4 L1959.0 1477.2 L1961.0 1474.1 L1961.3 1474.4 L1963.0 1474.4 L1965.0 1476.5 L1967.0 1479.3 L1969.0 1481.8 L1970.0 1482.8 L1971.0 1483.3 L1973.0 1485.1 L1975.0 1485.4 L1977.0 1487.2 L1979.0 1487.3 L1981.0 1487.6 L1981.1 1487.8 L1983.0 1487.4 L1985.0 1486.5 L1987.0 1484.5 L1989.0 1483.3 L1991.0 1481.0 L1992.2 1480.0 L1993.0 1479.5 L1995.0 1477.2 L1997.0 1474.9 L1999.0 1472.6 L1999.6 1472.5 L2001.0 1472.9 L2003.0 1472.9 L2005.0 1473.8 L2007.0 1474.4 L2009.0 1475.1 L2011.0 1475.8 L2013.0 1476.5 L2014.5 1476.4 L2015.0 1476.9 L2017.0 1477.9 L2019.0 1480.4 L2021.0 1482.7 L2023.0 1484.7 L2025.0 1486.5 L2026.8 1486.4 L2027.0 1486.5 L2029.0 1486.0 L2031.0 1483.7 L2033.0 1480.2 L2035.0 1477.5 L2037.0 1475.5 L2039.0 1473.8 L2039.2 1474.5 L2041.0 1474.8 L2043.0 1475.3 L2045.0 1475.9 L2047.0 1477.7 L2049.0 1478.7 L2049.1 1479.5 L2051.0 1481.1 L2052.8 1482.4 L2053.0 1482.8 L2055.0 1478.6 L2057.0 1473.1 L2058.5 1470.2 L2059.0 1470.2 L2061.0 1472.3 L2063.0 1475.8 L2065.0 1479.7 L2067.0 1483.3 L2068.9 1484.0 L2069.0 1484.4 L2071.0 1483.5 L2073.0 1483.4 L2075.0 1483.3 L2077.0 1482.6 L2079.0 1482.0 L2081.0 1481.2 L2081.2 1482.1 L2083.0 1481.8 L2085.0 1482.9 L2087.0 1483.5 L2089.0 1484.4 L2091.0 1485.2 L2091.1 1485.6 L2093.0 1485.1 L2095.0 1483.2 L2097.0 1481.1 L2099.0 1479.4 L2101.0 1477.6 L2103.0 1476.5 L2103.5 1476.3 L2105.0 1476.6 L2107.0 1478.0 L2109.0 1480.5 L2111.0 1482.4 L2113.0 1483.1 L2113.4 1483.0 L2115.0 1481.9 L2117.0 1479.6 L2118.3 1479.1 L2119.0 1479.1 L2121.0 1480.7 L2123.0 1482.9 L2125.0 1484.5 L2127.0 1486.0 L2128.2 1486.8 L2129.0 1487.0 L2131.0 1487.0 L2133.0 1486.9 L2135.0 1486.6 L2137.0 1486.4 L2139.0 1485.9 L2141.0 1485.8 L2143.0 1485.0 L2143.1 1485.8 L2145.0 1483.8 L2147.0 1481.7 L2149.0 1478.6 L2151.0 1475.9 L2153.0 1474.1 L2153.0 1474.2 L2155.0 1473.3 L2157.0 1473.9 L2159.0 1473.4 L2161.0 1472.8 L2163.0 1472.8 L2165.0 1472.8 L2165.3 1472.9 L2167.0 1473.1 L2169.0 1474.5 L2171.0 1476.7 L2173.0 1479.0 L2175.0 1480.8 L2177.0 1482.2 L2178.9 1482.7 L2179.0 1483.3 L2181.0 1482.4 L2183.0 1480.6 L2185.0 1477.6 L2187.0 1476.0 L2189.0 1473.8 L2191.0 1473.2 L2191.3 1472.9 L2193.0 1473.1 L2195.0 1475.4 L2197.0 1478.3 L2199.0 1480.7 L2201.0 1483.9 L2203.0 1485.6 L2204.9 1486.1 L2205.0 1486.1 L2207.0 1486.2 L2209.0 1485.5 L2211.0 1484.5 L2213.0 1483.7 L2215.0 1483.0 L2217.0 1481.7 L2219.0 1480.8 L2219.7 1480.8 L2221.0 1479.6 L2223.0 1479.3 L2225.0 1478.1 L2227.0 1477.3 L2229.0 1476.7 L2231.0 1475.3 L2233.0 1475.3 L2233.3 1475.5 L2235.0 1475.7 L2237.0 1477.1 L2239.0 1477.7 L2241.0 1479.0 L2243.0 1480.4 L2244.5 1480.7 L2245.0 1480.1 L2247.0 1478.3 L2249.0 1476.3 L2251.0 1474.5 L2251.9 1474.5 L2253.0 1474.4 L2255.0 1475.6 L2257.0 1477.7 L2259.0 1479.6 L2261.0 1481.5 L2263.0 1482.1 L2264.2 1483.0 L2265.0 1482.8 L2267.0 1482.9 L2269.0 1482.9 L2271.0 1483.1 L2272.0 1482.5" fill="none" stroke="#000000" stroke-width="4.7" stroke-linejoin="round" stroke-linecap="butt"/>
</g>
<g id="ticklabels">
<text class="" font-size="60" transform="translate(525.00,1651.20) scale(1.0000,1.0659)">10</text>
<text class="" font-size="60" transform="translate(951.86,1651.20) scale(1.0148,1.0659)">20</text>
<text class="" font-size="60" transform="translate(1380.46,1651.20) scale(1.0131,1.0659)">30</text>
<text class="" font-size="60" transform="translate(1810.03,1651.20) scale(0.9683,1.0659)">40</text>
<text class="" font-size="60" transform="translate(2237.55,1651.20) scale(0.9836,1.0659)">50</text>
</g>
<g id="legend">
<line x1="1293.7" x2="1460" y1="181.0" y2="181.0" stroke="#008000" stroke-width="5.4"/>
<text class="b" font-size="70" transform="translate(1476.10,204.20) scale(1.0194,1.0122)">PW</text>
<text class="b" font-size="42" transform="translate(1592.22,232.40) scale(0.9818,1.0586)">4</text>
<text class="b" font-size="70" transform="translate(1615.12,208.80) scale(1.0194,1.0820)">@MIL-101</text>
<text class="b" font-size="70" transform="translate(1950.96,204.23) scale(1.0143,0.9712)">-recycled</text>
<line x1="1293.7" x2="1460" y1="472.4" y2="472.4" stroke="#ff00ff" stroke-width="4.9"/>
<text class="b" font-size="70" transform="translate(1476.10,495.50) scale(1.0194,1.0122)">PW</text>
<text class="b" font-size="42" transform="translate(1592.22,523.70) scale(0.9818,1.0586)">4</text>
<text class="b" font-size="70" transform="translate(1615.12,500.10) scale(1.0194,1.0820)">@MIL-101</text>
<text class="b" font-size="70" transform="translate(1950.95,496.30) scale(1.0167,0.9863)">-reused</text>
<line x1="1293.7" x2="1460" y1="764.4" y2="764.4" stroke="#0000ff" stroke-width="3.9"/>
<text class="b" font-size="70" transform="translate(1476.10,790.00) scale(1.0194,1.0122)">PW</text>
<text class="b" font-size="42" transform="translate(1592.22,818.20) scale(0.9818,1.0586)">4</text>
<text class="b" font-size="70" transform="translate(1615.12,794.60) scale(1.0194,1.0820)">@MIL-101</text>
<line x1="1293.7" x2="1460" y1="1058.4" y2="1058.4" stroke="#ff0000" stroke-width="5.1"/>
<text class="b" font-size="70" transform="translate(1475.50,1082.70) scale(1.0206,1.0347)">MIL-101</text>
<line x1="1293.7" x2="1460" y1="1326.7" y2="1326.7" stroke="#000000" stroke-width="5.2"/>
<text class="b" font-size="70" transform="translate(1476.10,1350.70) scale(1.0194,1.0122)">PW</text>
<text class="b" font-size="42" transform="translate(1592.22,1378.90) scale(0.9818,1.0586)">4</text>
</g>
<text class="b" font-size="70" transform="translate(1158.70,1770.40) scale(1.0500,1.0347)">2</text>
<text class="th" font-size="70" transform="translate(1202.04,1770.34) scale(1.2200,0.9600)">θ</text>
<text class="b" font-size="70" transform="translate(1253.06,1768.33) scale(0.9851,0.9712)">(°)</text>
<text class="b" font-size="72" transform="translate(75.20,1085.06) rotate(-90) scale(1.0111,1.0940)">Intensity (a.u.)</text>
</svg>
</body></html>
